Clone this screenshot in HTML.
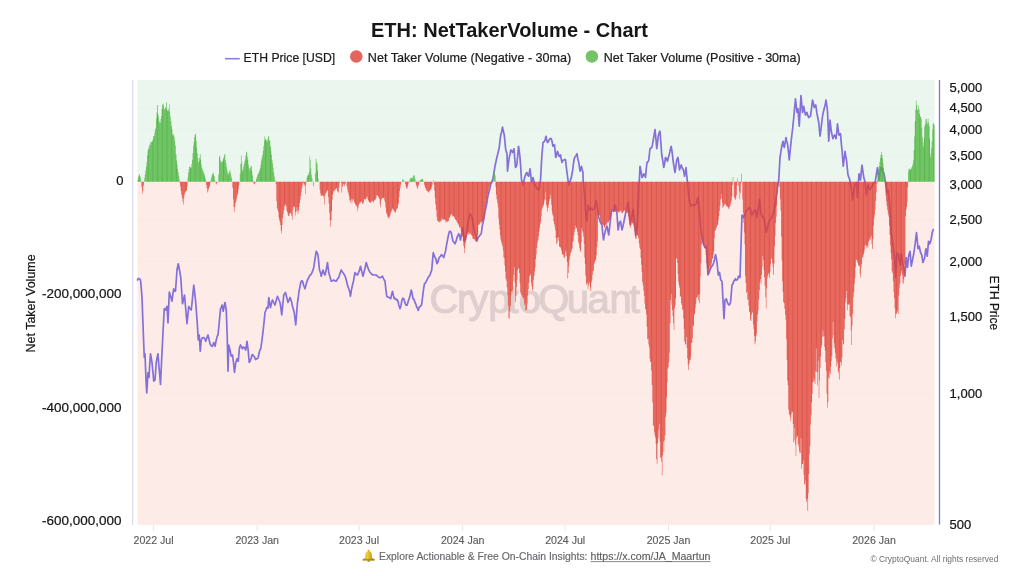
<!DOCTYPE html>
<html><head><meta charset="utf-8"><title>ETH: NetTakerVolume - Chart</title>
<style>
html,body{margin:0;padding:0;background:#fff;}
body{width:1024px;height:576px;overflow:hidden;font-family:"Liberation Sans",sans-serif;}
svg{display:block;font-family:"Liberation Sans",sans-serif;}
.title{font-size:20.2px;font-weight:bold;fill:#161616;}
.lg{font-size:12.4px;fill:#1c1c1c;stroke:#1c1c1c;stroke-width:0.22px;}
.yl{font-size:13px;fill:#141414;stroke:#141414;stroke-width:0.22px;}
.xl{font-size:10.6px;fill:#5c5c5c;stroke:#5c5c5c;stroke-width:0.15px;}
.ax{font-size:13px;fill:#141414;stroke:#141414;stroke-width:0.22px;}
.ft{font-size:10.2px;fill:#68686c;stroke:#68686c;stroke-width:0.15px;}
.cp{font-size:8.7px;fill:#6e6e6e;}
.wm{font-size:40px;fill:#8a7c84;stroke:#8a7c84;stroke-width:1.2px;}
</style></head><body>
<svg width="1024" height="576" viewBox="0 0 1024 576" style="will-change:transform">
<rect width="1024" height="576" fill="#ffffff"/>
<text x="509.5" y="36.6" text-anchor="middle" class="title" textLength="277" lengthAdjust="spacingAndGlyphs">ETH: NetTakerVolume - Chart</text>
<path d="M225 58.7H239.8" stroke="#8b7edc" stroke-width="1.6"/>
<text x="243.6" y="62" class="lg" textLength="91.5" lengthAdjust="spacingAndGlyphs">ETH Price [USD]</text>
<circle cx="356.3" cy="56.5" r="6.25" fill="#e2665e"/>
<text x="367.8" y="62" class="lg" textLength="203.5" lengthAdjust="spacingAndGlyphs">Net Taker Volume (Negative - 30ma)</text>
<circle cx="591.9" cy="56.5" r="6.25" fill="#74c365"/>
<text x="603.7" y="62" class="lg" textLength="197" lengthAdjust="spacingAndGlyphs">Net Taker Volume (Positive - 30ma)</text>

<rect x="137.5" y="80" width="797" height="101.85" fill="#eaf6ee"/>
<rect x="137.5" y="181.85" width="797" height="343.15" fill="#fdebe8"/>
<path d="M137.5 108.5H934.5M137.5 130H934.5M137.5 155.3H934.5M137.5 219.5H934.5M137.5 261.3H934.5M137.5 316.8H934.5M137.5 393.3H934.5" stroke="#000" stroke-opacity="0.014" stroke-width="1"/>
<path d="M132.6 80V525" stroke="#d9d9ee" stroke-width="1.2"/>
<path d="M939.5 80V524.5" stroke="#8377d4" stroke-width="1.3"/>
<defs><clipPath id="cr"><path d="M141.43 181.85V186.89h0.61V181.85zM142 181.85V193.42h0.61V181.85zM142.56 181.85V190.74h0.61V181.85zM143.12 181.85V185.76h0.61V181.85zM179.65 181.85V183.04h0.61V181.85zM180.22 181.85V186.79h0.61V181.85zM180.78 181.85V191.01h0.61V181.85zM181.34 181.85V194.86h0.61V181.85zM181.9 181.85V197.64h0.61V181.85zM182.46 181.85V201.59h0.61V181.85zM183.03 181.85V204.54h0.61V181.85zM183.59 181.85V198.41h0.61V181.85zM184.15 181.85V194.98h0.61V181.85zM184.71 181.85V192.7h0.61V181.85zM185.28 181.85V191.58h0.61V181.85zM185.84 181.85V190.96h0.61V181.85zM186.4 181.85V190.34h0.61V181.85zM186.96 181.85V186.15h0.61V181.85zM206.07 181.85V184.93h0.61V181.85zM206.63 181.85V188.17h0.61V181.85zM207.2 181.85V192.59h0.61V181.85zM207.76 181.85V191.17h0.61V181.85zM208.32 181.85V189.12h0.61V181.85zM208.88 181.85V187.28h0.61V181.85zM209.44 181.85V185.19h0.61V181.85zM210.01 181.85V182.78h0.61V181.85zM215.63 181.85V183.28h0.61V181.85zM216.19 181.85V184.46h0.61V181.85zM216.75 181.85V183.08h0.61V181.85zM232.49 181.85V187.76h0.61V181.85zM233.05 181.85V199.4h0.61V181.85zM233.61 181.85V207.14h0.61V181.85zM234.17 181.85V211.74h0.61V181.85zM234.74 181.85V206.2h0.61V181.85zM235.3 181.85V203h0.61V181.85zM235.86 181.85V200.89h0.61V181.85zM236.42 181.85V198.19h0.61V181.85zM236.98 181.85V195.23h0.61V181.85zM237.55 181.85V193.28h0.61V181.85zM238.11 181.85V189.39h0.61V181.85zM238.67 181.85V184.78h0.61V181.85zM253.28 181.85V183.02h0.61V181.85zM253.85 181.85V184.02h0.61V181.85zM254.41 181.85V184.31h0.61V181.85zM254.97 181.85V182.82h0.61V181.85zM275.77 181.85V184.23h0.61V181.85zM276.33 181.85V201.17h0.61V181.85zM276.89 181.85V207.97h0.61V181.85zM277.45 181.85V209.97h0.61V181.85zM278.01 181.85V211.89h0.61V181.85zM278.58 181.85V217.2h0.61V181.85zM279.14 181.85V219.75h0.61V181.85zM279.7 181.85V222.32h0.61V181.85zM280.26 181.85V224.98h0.61V181.85zM280.83 181.85V230.58h0.61V181.85zM281.39 181.85V233.5h0.61V181.85zM281.95 181.85V225.18h0.61V181.85zM282.51 181.85V217.96h0.61V181.85zM283.07 181.85V214.08h0.61V181.85zM283.64 181.85V210.29h0.61V181.85zM284.2 181.85V206.16h0.61V181.85zM284.76 181.85V203.67h0.61V181.85zM285.32 181.85V205.11h0.61V181.85zM285.88 181.85V206.49h0.61V181.85zM286.45 181.85V210.39h0.61V181.85zM287.01 181.85V212.09h0.61V181.85zM287.57 181.85V214.4h0.61V181.85zM288.13 181.85V216.03h0.61V181.85zM288.69 181.85V216.37h0.61V181.85zM289.26 181.85V213.55h0.61V181.85zM289.82 181.85V212.53h0.61V181.85zM290.38 181.85V213.27h0.61V181.85zM290.94 181.85V214.27h0.61V181.85zM291.5 181.85V215.95h0.61V181.85zM292.07 181.85V219.54h0.61V181.85zM292.63 181.85V209.74h0.61V181.85zM293.19 181.85V206.8h0.61V181.85zM293.75 181.85V207.01h0.61V181.85zM294.31 181.85V206.26h0.61V181.85zM294.88 181.85V211.89h0.61V181.85zM295.44 181.85V215.52h0.61V181.85zM296 181.85V211.79h0.61V181.85zM296.56 181.85V207.41h0.61V181.85zM297.12 181.85V210.33h0.61V181.85zM297.69 181.85V213.76h0.61V181.85zM298.25 181.85V210.79h0.61V181.85zM298.81 181.85V207.21h0.61V181.85zM299.37 181.85V203.35h0.61V181.85zM299.94 181.85V199.77h0.61V181.85zM300.5 181.85V195.78h0.61V181.85zM301.06 181.85V192.2h0.61V181.85zM301.62 181.85V188.5h0.61V181.85zM302.18 181.85V185.38h0.61V181.85zM302.75 181.85V182.85h0.61V181.85zM303.31 181.85V182.49h0.61V181.85zM303.87 181.85V184.01h0.61V181.85zM304.43 181.85V186.22h0.61V181.85zM304.99 181.85V193.99h0.61V181.85zM305.56 181.85V185.02h0.61V181.85zM313.42 181.85V186.16h0.61V181.85zM319.61 181.85V189.72h0.61V181.85zM320.17 181.85V193.27h0.61V181.85zM320.73 181.85V195.96h0.61V181.85zM321.29 181.85V195.87h0.61V181.85zM321.86 181.85V195.38h0.61V181.85zM322.42 181.85V194.87h0.61V181.85zM322.98 181.85V195.89h0.61V181.85zM323.54 181.85V197.57h0.61V181.85zM324.1 181.85V204.7h0.61V181.85zM324.67 181.85V195.43h0.61V181.85zM325.23 181.85V194.02h0.61V181.85zM325.79 181.85V192.82h0.61V181.85zM326.35 181.85V191.45h0.61V181.85zM326.91 181.85V190.52h0.61V181.85zM327.48 181.85V190.06h0.61V181.85zM328.04 181.85V197.18h0.61V181.85zM328.6 181.85V203.46h0.61V181.85zM329.16 181.85V212.75h0.61V181.85zM329.72 181.85V220.71h0.61V181.85zM330.29 181.85V226.84h0.61V181.85zM330.85 181.85V220.11h0.61V181.85zM331.41 181.85V211.09h0.61V181.85zM331.97 181.85V199.63h0.61V181.85zM332.53 181.85V194.26h0.61V181.85zM333.1 181.85V192.22h0.61V181.85zM333.66 181.85V190.86h0.61V181.85zM334.22 181.85V190.46h0.61V181.85zM334.78 181.85V190.07h0.61V181.85zM335.34 181.85V188.88h0.61V181.85zM335.91 181.85V187.42h0.61V181.85zM336.47 181.85V188.85h0.61V181.85zM337.03 181.85V190.91h0.61V181.85zM337.59 181.85V191.76h0.61V181.85zM338.16 181.85V192.63h0.61V181.85zM338.72 181.85V187.51h0.61V181.85zM339.28 181.85V183.21h0.61V181.85zM340.97 181.85V182.5h0.61V181.85zM341.53 181.85V192.45h0.61V181.85zM342.09 181.85V187.01h0.61V181.85zM342.65 181.85V185.48h0.61V181.85zM343.21 181.85V183.77h0.61V181.85zM343.78 181.85V184.57h0.61V181.85zM344.34 181.85V186.14h0.61V181.85zM344.9 181.85V184.07h0.61V181.85zM346.59 181.85V185.92h0.61V181.85zM347.15 181.85V189.16h0.61V181.85zM347.71 181.85V191.91h0.61V181.85zM348.27 181.85V194.12h0.61V181.85zM348.83 181.85V196.45h0.61V181.85zM349.4 181.85V200.27h0.61V181.85zM349.96 181.85V202.21h0.61V181.85zM350.52 181.85V199.69h0.61V181.85zM351.08 181.85V198.78h0.61V181.85zM351.64 181.85V203.41h0.61V181.85zM352.21 181.85V200.85h0.61V181.85zM352.77 181.85V198.41h0.61V181.85zM353.33 181.85V199.73h0.61V181.85zM353.89 181.85V201.49h0.61V181.85zM354.45 181.85V202.96h0.61V181.85zM355.02 181.85V204.11h0.61V181.85zM355.58 181.85V205.61h0.61V181.85zM356.14 181.85V205.49h0.61V181.85zM356.7 181.85V207.04h0.61V181.85zM357.27 181.85V211.32h0.61V181.85zM357.83 181.85V208.3h0.61V181.85zM358.39 181.85V204.76h0.61V181.85zM358.95 181.85V203.7h0.61V181.85zM359.51 181.85V202.3h0.61V181.85zM360.08 181.85V202.43h0.61V181.85zM360.64 181.85V201.64h0.61V181.85zM361.2 181.85V200.89h0.61V181.85zM361.76 181.85V202.57h0.61V181.85zM362.32 181.85V204.12h0.61V181.85zM362.89 181.85V203.87h0.61V181.85zM363.45 181.85V202.05h0.61V181.85zM364.01 181.85V198.68h0.61V181.85zM364.57 181.85V199.22h0.61V181.85zM365.13 181.85V200.36h0.61V181.85zM365.7 181.85V198.8h0.61V181.85zM366.26 181.85V197.3h0.61V181.85zM366.82 181.85V196.41h0.61V181.85zM367.38 181.85V199.12h0.61V181.85zM367.94 181.85V200.01h0.61V181.85zM368.51 181.85V201.39h0.61V181.85zM369.07 181.85V202.07h0.61V181.85zM369.63 181.85V202.58h0.61V181.85zM370.19 181.85V202.98h0.61V181.85zM370.75 181.85V202.29h0.61V181.85zM371.32 181.85V201.15h0.61V181.85zM371.88 181.85V200.82h0.61V181.85zM372.44 181.85V201.58h0.61V181.85zM373 181.85V202.8h0.61V181.85zM373.56 181.85V201.12h0.61V181.85zM374.13 181.85V200.21h0.61V181.85zM374.69 181.85V199.58h0.61V181.85zM375.25 181.85V199.83h0.61V181.85zM375.81 181.85V198.08h0.61V181.85zM376.38 181.85V195.13h0.61V181.85zM376.94 181.85V195.16h0.61V181.85zM377.5 181.85V195.7h0.61V181.85zM378.06 181.85V196.53h0.61V181.85zM378.62 181.85V197.76h0.61V181.85zM379.19 181.85V198.97h0.61V181.85zM379.75 181.85V204.18h0.61V181.85zM380.31 181.85V207.14h0.61V181.85zM380.87 181.85V200.25h0.61V181.85zM381.43 181.85V198.98h0.61V181.85zM382 181.85V198.26h0.61V181.85zM382.56 181.85V197.69h0.61V181.85zM383.12 181.85V198.11h0.61V181.85zM383.68 181.85V197.32h0.61V181.85zM384.24 181.85V200.44h0.61V181.85zM384.81 181.85V202.56h0.61V181.85zM385.37 181.85V207.51h0.61V181.85zM385.93 181.85V212.14h0.61V181.85zM386.49 181.85V214.08h0.61V181.85zM387.05 181.85V215.15h0.61V181.85zM387.62 181.85V217.26h0.61V181.85zM388.18 181.85V217.57h0.61V181.85zM388.74 181.85V218.87h0.61V181.85zM389.3 181.85V216.43h0.61V181.85zM389.86 181.85V215.61h0.61V181.85zM390.43 181.85V213.24h0.61V181.85zM390.99 181.85V211.56h0.61V181.85zM391.55 181.85V210.42h0.61V181.85zM392.11 181.85V208.32h0.61V181.85zM392.67 181.85V209.35h0.61V181.85zM393.24 181.85V209.82h0.61V181.85zM393.8 181.85V211.09h0.61V181.85zM394.36 181.85V212.07h0.61V181.85zM394.92 181.85V212.9h0.61V181.85zM395.49 181.85V211.63h0.61V181.85zM396.05 181.85V209.66h0.61V181.85zM396.61 181.85V208.44h0.61V181.85zM397.17 181.85V208.34h0.61V181.85zM397.73 181.85V204.95h0.61V181.85zM398.3 181.85V203.02h0.61V181.85zM398.86 181.85V197.25h0.61V181.85zM399.42 181.85V191.23h0.61V181.85zM399.98 181.85V188.05h0.61V181.85zM400.54 181.85V184.62h0.61V181.85zM405.04 181.85V183.88h0.61V181.85zM405.6 181.85V186.15h0.61V181.85zM406.16 181.85V187.96h0.61V181.85zM406.73 181.85V188.88h0.61V181.85zM407.29 181.85V186.38h0.61V181.85zM407.85 181.85V184.6h0.61V181.85zM408.41 181.85V182.84h0.61V181.85zM415.72 181.85V183.43h0.61V181.85zM416.28 181.85V185.82h0.61V181.85zM416.84 181.85V187.73h0.61V181.85zM417.41 181.85V188.85h0.61V181.85zM417.97 181.85V186.51h0.61V181.85zM418.53 181.85V184.62h0.61V181.85zM424.15 181.85V184.75h0.61V181.85zM424.71 181.85V186.54h0.61V181.85zM425.27 181.85V188.01h0.61V181.85zM425.84 181.85V189.57h0.61V181.85zM426.4 181.85V190.42h0.61V181.85zM426.96 181.85V191.09h0.61V181.85zM427.52 181.85V191.71h0.61V181.85zM428.08 181.85V192.19h0.61V181.85zM428.65 181.85V192.59h0.61V181.85zM429.21 181.85V191.08h0.61V181.85zM429.77 181.85V190.25h0.61V181.85zM430.33 181.85V189.53h0.61V181.85zM430.89 181.85V188.96h0.61V181.85zM431.46 181.85V186.86h0.61V181.85zM432.02 181.85V184.8h0.61V181.85zM433.71 181.85V184.45h0.61V181.85zM434.27 181.85V190.48h0.61V181.85zM434.83 181.85V197.79h0.61V181.85zM435.39 181.85V204.48h0.61V181.85zM435.95 181.85V210.14h0.61V181.85zM436.52 181.85V216.84h0.61V181.85zM437.08 181.85V220.52h0.61V181.85zM437.64 181.85V221.14h0.61V181.85zM438.2 181.85V221.92h0.61V181.85zM438.76 181.85V220.81h0.61V181.85zM439.33 181.85V222.38h0.61V181.85zM439.89 181.85V220.39h0.61V181.85zM440.45 181.85V221.72h0.61V181.85zM441.01 181.85V221.12h0.61V181.85zM441.57 181.85V218.53h0.61V181.85zM442.14 181.85V219.23h0.61V181.85zM442.7 181.85V219.79h0.61V181.85zM443.26 181.85V219.79h0.61V181.85zM443.82 181.85V219.14h0.61V181.85zM444.38 181.85V219.53h0.61V181.85zM444.95 181.85V220.18h0.61V181.85zM445.51 181.85V222.49h0.61V181.85zM446.07 181.85V221.09h0.61V181.85zM446.63 181.85V222.33h0.61V181.85zM447.19 181.85V221.63h0.61V181.85zM447.76 181.85V221.21h0.61V181.85zM448.32 181.85V220.78h0.61V181.85zM448.88 181.85V217.54h0.61V181.85zM449.44 181.85V217.7h0.61V181.85zM450 181.85V215.83h0.61V181.85zM450.57 181.85V215.37h0.61V181.85zM451.13 181.85V214.14h0.61V181.85zM451.69 181.85V214.25h0.61V181.85zM452.25 181.85V216.39h0.61V181.85zM452.82 181.85V216.34h0.61V181.85zM453.38 181.85V216.07h0.61V181.85zM453.94 181.85V216.71h0.61V181.85zM454.5 181.85V218.46h0.61V181.85zM455.06 181.85V219.29h0.61V181.85zM455.63 181.85V219.99h0.61V181.85zM456.19 181.85V220.65h0.61V181.85zM456.75 181.85V222.16h0.61V181.85zM457.31 181.85V222.89h0.61V181.85zM457.87 181.85V225.01h0.61V181.85zM458.44 181.85V223.66h0.61V181.85zM459 181.85V226.72h0.61V181.85zM459.56 181.85V228.1h0.61V181.85zM460.12 181.85V227.25h0.61V181.85zM460.68 181.85V230.65h0.61V181.85zM461.25 181.85V232.02h0.61V181.85zM461.81 181.85V235.46h0.61V181.85zM462.37 181.85V236.97h0.61V181.85zM462.93 181.85V241.32h0.61V181.85zM463.49 181.85V246h0.61V181.85zM464.06 181.85V253.33h0.61V181.85zM464.62 181.85V248.27h0.61V181.85zM465.18 181.85V243.16h0.61V181.85zM465.74 181.85V239.91h0.61V181.85zM466.3 181.85V236.99h0.61V181.85zM466.87 181.85V234.59h0.61V181.85zM467.43 181.85V233.32h0.61V181.85zM467.99 181.85V234.49h0.61V181.85zM468.55 181.85V231.85h0.61V181.85zM469.11 181.85V234.58h0.61V181.85zM469.68 181.85V233.1h0.61V181.85zM470.24 181.85V233.78h0.61V181.85zM470.8 181.85V235.21h0.61V181.85zM471.36 181.85V234.83h0.61V181.85zM471.93 181.85V236.04h0.61V181.85zM472.49 181.85V238.53h0.61V181.85zM473.05 181.85V238.87h0.61V181.85zM473.61 181.85V239.2h0.61V181.85zM474.17 181.85V239.15h0.61V181.85zM474.74 181.85V240.69h0.61V181.85zM475.3 181.85V241.36h0.61V181.85zM475.86 181.85V240.56h0.61V181.85zM476.42 181.85V241.73h0.61V181.85zM476.98 181.85V239.64h0.61V181.85zM477.55 181.85V234.46h0.61V181.85zM478.11 181.85V224.65h0.61V181.85zM478.67 181.85V224.97h0.61V181.85zM479.23 181.85V224.25h0.61V181.85zM479.79 181.85V222.92h0.61V181.85zM480.36 181.85V222h0.61V181.85zM480.92 181.85V223.83h0.61V181.85zM481.48 181.85V221.54h0.61V181.85zM482.04 181.85V222.04h0.61V181.85zM482.6 181.85V221.01h0.61V181.85zM483.17 181.85V220.02h0.61V181.85zM483.73 181.85V218.77h0.61V181.85zM484.29 181.85V215.38h0.61V181.85zM484.85 181.85V210.24h0.61V181.85zM485.41 181.85V207.1h0.61V181.85zM485.98 181.85V202.92h0.61V181.85zM486.54 181.85V199.54h0.61V181.85zM487.1 181.85V195.69h0.61V181.85zM487.66 181.85V193h0.61V181.85zM488.22 181.85V190.79h0.61V181.85zM488.79 181.85V188.61h0.61V181.85zM489.35 181.85V186.59h0.61V181.85zM489.91 181.85V184.76h0.61V181.85zM490.47 181.85V184.01h0.61V181.85zM491.04 181.85V183.38h0.61V181.85zM491.6 181.85V182.66h0.61V181.85zM495.53 181.85V187.2h0.61V181.85zM496.09 181.85V194.68h0.61V181.85zM496.66 181.85V199.22h0.61V181.85zM497.22 181.85V203.09h0.61V181.85zM497.78 181.85V207.34h0.61V181.85zM498.34 181.85V218.39h0.61V181.85zM498.9 181.85V224.65h0.61V181.85zM499.47 181.85V229.38h0.61V181.85zM500.03 181.85V235.23h0.61V181.85zM500.59 181.85V239.44h0.61V181.85zM501.15 181.85V241.72h0.61V181.85zM501.71 181.85V244.36h0.61V181.85zM502.28 181.85V246.12h0.61V181.85zM502.84 181.85V250.44h0.61V181.85zM503.4 181.85V257.32h0.61V181.85zM503.96 181.85V258.19h0.61V181.85zM504.52 181.85V265.57h0.61V181.85zM505.09 181.85V271.87h0.61V181.85zM505.65 181.85V278.87h0.61V181.85zM506.21 181.85V280.7h0.61V181.85zM506.77 181.85V287.58h0.61V181.85zM507.33 181.85V295.2h0.61V181.85zM507.9 181.85V305.55h0.61V181.85zM508.46 181.85V318.31h0.61V181.85zM509.02 181.85V318.86h0.61V181.85zM509.58 181.85V311.51h0.61V181.85zM510.15 181.85V305.95h0.61V181.85zM510.71 181.85V295.48h0.61V181.85zM511.27 181.85V291.58h0.61V181.85zM511.83 181.85V293.32h0.61V181.85zM512.39 181.85V290.33h0.61V181.85zM512.96 181.85V280.63h0.61V181.85zM513.52 181.85V275h0.61V181.85zM514.08 181.85V267.36h0.61V181.85zM514.64 181.85V282.79h0.61V181.85zM515.2 181.85V301.74h0.61V181.85zM515.77 181.85V296.11h0.61V181.85zM516.33 181.85V286.99h0.61V181.85zM516.89 181.85V279.58h0.61V181.85zM517.45 181.85V270.56h0.61V181.85zM518.01 181.85V268.43h0.61V181.85zM518.58 181.85V268.17h0.61V181.85zM519.14 181.85V272.94h0.61V181.85zM519.7 181.85V283.28h0.61V181.85zM520.26 181.85V292.6h0.61V181.85zM520.82 181.85V294.69h0.61V181.85zM521.39 181.85V295.33h0.61V181.85zM521.95 181.85V297.38h0.61V181.85zM522.51 181.85V296.68h0.61V181.85zM523.07 181.85V299.19h0.61V181.85zM523.63 181.85V297.64h0.61V181.85zM524.2 181.85V305.09h0.61V181.85zM524.76 181.85V303.17h0.61V181.85zM525.32 181.85V310.42h0.61V181.85zM525.88 181.85V310.27h0.61V181.85zM526.44 181.85V309.73h0.61V181.85zM527.01 181.85V303.78h0.61V181.85zM527.57 181.85V295.71h0.61V181.85zM528.13 181.85V289h0.61V181.85zM528.69 181.85V282.56h0.61V181.85zM529.26 181.85V276.32h0.61V181.85zM529.82 181.85V273.9h0.61V181.85zM530.38 181.85V275.14h0.61V181.85zM530.94 181.85V282.72h0.61V181.85zM531.5 181.85V286.43h0.61V181.85zM532.07 181.85V290.66h0.61V181.85zM532.63 181.85V289.06h0.61V181.85zM533.19 181.85V279.83h0.61V181.85zM533.75 181.85V276.04h0.61V181.85zM534.31 181.85V271.22h0.61V181.85zM534.88 181.85V267.4h0.61V181.85zM535.44 181.85V259.36h0.61V181.85zM536 181.85V253.89h0.61V181.85zM536.56 181.85V247.95h0.61V181.85zM537.12 181.85V243.23h0.61V181.85zM537.69 181.85V240.51h0.61V181.85zM538.25 181.85V236.55h0.61V181.85zM538.81 181.85V231.49h0.61V181.85zM539.37 181.85V227.69h0.61V181.85zM539.93 181.85V224.31h0.61V181.85zM540.5 181.85V221.87h0.61V181.85zM541.06 181.85V216.28h0.61V181.85zM541.62 181.85V209.86h0.61V181.85zM542.18 181.85V207.64h0.61V181.85zM542.74 181.85V206.29h0.61V181.85zM543.31 181.85V204.64h0.61V181.85zM543.87 181.85V201.77h0.61V181.85zM544.43 181.85V199.62h0.61V181.85zM544.99 181.85V192.4h0.61V181.85zM545.56 181.85V199.68h0.61V181.85zM546.12 181.85V204.96h0.61V181.85zM546.68 181.85V207.38h0.61V181.85zM547.24 181.85V211.52h0.61V181.85zM547.8 181.85V207.86h0.61V181.85zM548.37 181.85V204.27h0.61V181.85zM548.93 181.85V201.11h0.61V181.85zM549.49 181.85V199.25h0.61V181.85zM550.05 181.85V194.85h0.61V181.85zM550.61 181.85V198.72h0.61V181.85zM551.18 181.85V204.82h0.61V181.85zM551.74 181.85V211h0.61V181.85zM552.3 181.85V214.34h0.61V181.85zM552.86 181.85V215.87h0.61V181.85zM553.42 181.85V221.23h0.61V181.85zM553.99 181.85V224.07h0.61V181.85zM554.55 181.85V226.82h0.61V181.85zM555.11 181.85V230.37h0.61V181.85zM555.67 181.85V238.33h0.61V181.85zM556.23 181.85V244.36h0.61V181.85zM556.8 181.85V242.38h0.61V181.85zM557.36 181.85V237.58h0.61V181.85zM557.92 181.85V237.14h0.61V181.85zM558.48 181.85V240.76h0.61V181.85zM559.04 181.85V246.75h0.61V181.85zM559.61 181.85V246.69h0.61V181.85zM560.17 181.85V247.61h0.61V181.85zM560.73 181.85V248.46h0.61V181.85zM561.29 181.85V250.67h0.61V181.85zM561.85 181.85V253.63h0.61V181.85zM562.42 181.85V254.53h0.61V181.85zM562.98 181.85V255.03h0.61V181.85zM563.54 181.85V257.33h0.61V181.85zM564.1 181.85V258.2h0.61V181.85zM564.67 181.85V256.72h0.61V181.85zM565.23 181.85V252.58h0.61V181.85zM565.79 181.85V250.5h0.61V181.85zM566.35 181.85V256.11h0.61V181.85zM566.91 181.85V261.95h0.61V181.85zM567.48 181.85V278.44h0.61V181.85zM568.04 181.85V273.12h0.61V181.85zM568.6 181.85V266.58h0.61V181.85zM569.16 181.85V259.87h0.61V181.85zM569.72 181.85V256.33h0.61V181.85zM570.29 181.85V253.23h0.61V181.85zM570.85 181.85V252.08h0.61V181.85zM571.41 181.85V249.25h0.61V181.85zM571.97 181.85V248.25h0.61V181.85zM572.53 181.85V241.73h0.61V181.85zM573.1 181.85V241.35h0.61V181.85zM573.66 181.85V235.2h0.61V181.85zM574.22 181.85V231.7h0.61V181.85zM574.78 181.85V229.01h0.61V181.85zM575.34 181.85V225.83h0.61V181.85zM575.91 181.85V227.39h0.61V181.85zM576.47 181.85V228.39h0.61V181.85zM577.03 181.85V231.71h0.61V181.85zM577.59 181.85V235.29h0.61V181.85zM578.15 181.85V242h0.61V181.85zM578.72 181.85V244.17h0.61V181.85zM579.28 181.85V247.99h0.61V181.85zM579.84 181.85V252.04h0.61V181.85zM580.4 181.85V250.51h0.61V181.85zM580.96 181.85V242.26h0.61V181.85zM581.53 181.85V228.35h0.61V181.85zM582.09 181.85V230.91h0.61V181.85zM582.65 181.85V232.72h0.61V181.85zM583.21 181.85V236.6h0.61V181.85zM583.78 181.85V243.84h0.61V181.85zM584.34 181.85V257.49h0.61V181.85zM584.9 181.85V264.17h0.61V181.85zM585.46 181.85V275.75h0.61V181.85zM586.02 181.85V285.03h0.61V181.85zM586.59 181.85V282.84h0.61V181.85zM587.15 181.85V283.62h0.61V181.85zM587.71 181.85V289.12h0.61V181.85zM588.27 181.85V285.59h0.61V181.85zM588.83 181.85V282.01h0.61V181.85zM589.4 181.85V283.81h0.61V181.85zM589.96 181.85V287.24h0.61V181.85zM590.52 181.85V291.01h0.61V181.85zM591.08 181.85V282.41h0.61V181.85zM591.64 181.85V280.56h0.61V181.85zM592.21 181.85V274.92h0.61V181.85zM592.77 181.85V271.15h0.61V181.85zM593.33 181.85V270.63h0.61V181.85zM593.89 181.85V263.82h0.61V181.85zM594.45 181.85V262.35h0.61V181.85zM595.02 181.85V260.33h0.61V181.85zM595.58 181.85V259.3h0.61V181.85zM596.14 181.85V255.3h0.61V181.85zM596.7 181.85V247.49h0.61V181.85zM597.26 181.85V241.62h0.61V181.85zM597.83 181.85V215.84h0.61V181.85zM598.39 181.85V215.11h0.61V181.85zM598.95 181.85V214.83h0.61V181.85zM599.51 181.85V215.64h0.61V181.85zM600.07 181.85V220.26h0.61V181.85zM600.64 181.85V222.07h0.61V181.85zM601.2 181.85V223.17h0.61V181.85zM601.76 181.85V223.95h0.61V181.85zM602.32 181.85V224.46h0.61V181.85zM602.89 181.85V224.78h0.61V181.85zM603.45 181.85V225.78h0.61V181.85zM604.01 181.85V227.12h0.61V181.85zM604.57 181.85V227.63h0.61V181.85zM605.13 181.85V224.96h0.61V181.85zM605.7 181.85V224.5h0.61V181.85zM606.26 181.85V225.15h0.61V181.85zM606.82 181.85V223.2h0.61V181.85zM607.38 181.85V222.3h0.61V181.85zM607.94 181.85V221.78h0.61V181.85zM608.51 181.85V222.52h0.61V181.85zM609.07 181.85V220.3h0.61V181.85zM609.63 181.85V220.09h0.61V181.85zM610.19 181.85V217.18h0.61V181.85zM610.75 181.85V214.5h0.61V181.85zM611.32 181.85V211.37h0.61V181.85zM611.88 181.85V209.94h0.61V181.85zM612.44 181.85V208.85h0.61V181.85zM613 181.85V208.75h0.61V181.85zM613.56 181.85V210.58h0.61V181.85zM614.13 181.85V211.24h0.61V181.85zM614.69 181.85V212.01h0.61V181.85zM615.25 181.85V211.65h0.61V181.85zM615.81 181.85V211.27h0.61V181.85zM616.37 181.85V210.29h0.61V181.85zM616.94 181.85V210.85h0.61V181.85zM617.5 181.85V211.8h0.61V181.85zM618.06 181.85V212.25h0.61V181.85zM618.62 181.85V211.8h0.61V181.85zM619.18 181.85V212.38h0.61V181.85zM619.75 181.85V210.82h0.61V181.85zM620.31 181.85V210.72h0.61V181.85zM620.87 181.85V211.29h0.61V181.85zM621.43 181.85V212.88h0.61V181.85zM622 181.85V213.17h0.61V181.85zM622.56 181.85V212.61h0.61V181.85zM623.12 181.85V211.51h0.61V181.85zM623.68 181.85V210.26h0.61V181.85zM624.24 181.85V210.65h0.61V181.85zM624.81 181.85V210.6h0.61V181.85zM625.37 181.85V210.54h0.61V181.85zM625.93 181.85V211.04h0.61V181.85zM626.49 181.85V212.85h0.61V181.85zM627.05 181.85V212.73h0.61V181.85zM627.62 181.85V212.97h0.61V181.85zM628.18 181.85V216.8h0.61V181.85zM628.74 181.85V220.3h0.61V181.85zM629.3 181.85V225.08h0.61V181.85zM629.86 181.85V227.63h0.61V181.85zM630.43 181.85V226.6h0.61V181.85zM630.99 181.85V224.93h0.61V181.85zM631.55 181.85V222.06h0.61V181.85zM632.11 181.85V223.6h0.61V181.85zM632.67 181.85V222.94h0.61V181.85zM633.24 181.85V225.08h0.61V181.85zM633.8 181.85V227.49h0.61V181.85zM634.36 181.85V231.55h0.61V181.85zM634.92 181.85V237.29h0.61V181.85zM635.48 181.85V239.03h0.61V181.85zM636.05 181.85V239.1h0.61V181.85zM636.61 181.85V235.37h0.61V181.85zM637.17 181.85V234.89h0.61V181.85zM637.73 181.85V236.15h0.61V181.85zM638.29 181.85V238.3h0.61V181.85zM638.86 181.85V243.49h0.61V181.85zM639.42 181.85V247.8h0.61V181.85zM639.98 181.85V249.3h0.61V181.85zM640.54 181.85V257.66h0.61V181.85zM641.11 181.85V264.83h0.61V181.85zM641.67 181.85V271.9h0.61V181.85zM642.23 181.85V281.8h0.61V181.85zM642.79 181.85V285.37h0.61V181.85zM643.35 181.85V290.74h0.61V181.85zM643.92 181.85V296.06h0.61V181.85zM644.48 181.85V303.55h0.61V181.85zM645.04 181.85V308.71h0.61V181.85zM645.6 181.85V309.74h0.61V181.85zM646.16 181.85V314.42h0.61V181.85zM646.73 181.85V326.8h0.61V181.85zM647.29 181.85V339.2h0.61V181.85zM647.85 181.85V338.87h0.61V181.85zM648.41 181.85V344.39h0.61V181.85zM648.97 181.85V347.6h0.61V181.85zM649.54 181.85V358.75h0.61V181.85zM650.1 181.85V361.81h0.61V181.85zM650.66 181.85V362.06h0.61V181.85zM651.22 181.85V370.44h0.61V181.85zM651.78 181.85V385.02h0.61V181.85zM652.35 181.85V402.54h0.61V181.85zM652.91 181.85V426.37h0.61V181.85zM653.47 181.85V425.2h0.61V181.85zM654.03 181.85V432.34h0.61V181.85zM654.59 181.85V435.44h0.61V181.85zM655.16 181.85V437.67h0.61V181.85zM655.72 181.85V444.04h0.61V181.85zM656.28 181.85V459.26h0.61V181.85zM656.84 181.85V463.73h0.61V181.85zM657.4 181.85V443.31h0.61V181.85zM657.97 181.85V438.54h0.61V181.85zM658.53 181.85V429.76h0.61V181.85zM659.09 181.85V423.78h0.61V181.85zM659.65 181.85V441.4h0.61V181.85zM660.22 181.85V457.89h0.61V181.85zM660.78 181.85V457.04h0.61V181.85zM661.34 181.85V461.64h0.61V181.85zM661.9 181.85V475.21h0.61V181.85zM662.46 181.85V455.14h0.61V181.85zM663.03 181.85V441.67h0.61V181.85zM663.59 181.85V452.03h0.61V181.85zM664.15 181.85V440.55h0.61V181.85zM664.71 181.85V435.29h0.61V181.85zM665.27 181.85V416.93h0.61V181.85zM665.84 181.85V412.73h0.61V181.85zM666.4 181.85V397.15h0.61V181.85zM666.96 181.85V382.55h0.61V181.85zM667.52 181.85V368.73h0.61V181.85zM668.08 181.85V366.92h0.61V181.85zM668.65 181.85V362.24h0.61V181.85zM669.21 181.85V352.84h0.61V181.85zM669.77 181.85V323.35h0.61V181.85zM670.33 181.85V300.11h0.61V181.85zM670.89 181.85V294.12h0.61V181.85zM671.46 181.85V304.78h0.61V181.85zM672.02 181.85V309.96h0.61V181.85zM672.58 181.85V316.11h0.61V181.85zM673.14 181.85V323.19h0.61V181.85zM673.7 181.85V329.68h0.61V181.85zM674.27 181.85V308.44h0.61V181.85zM674.83 181.85V305.28h0.61V181.85zM675.39 181.85V298.19h0.61V181.85zM675.95 181.85V258.59h0.61V181.85zM676.51 181.85V258.5h0.61V181.85zM677.08 181.85V262.92h0.61V181.85zM677.64 181.85V273.99h0.61V181.85zM678.2 181.85V281.66h0.61V181.85zM678.76 181.85V284.92h0.61V181.85zM679.33 181.85V287.69h0.61V181.85zM679.89 181.85V296.68h0.61V181.85zM680.45 181.85V296.26h0.61V181.85zM681.01 181.85V303.15h0.61V181.85zM681.57 181.85V304.91h0.61V181.85zM682.14 181.85V310.23h0.61V181.85zM682.7 181.85V308.88h0.61V181.85zM683.26 181.85V318.42h0.61V181.85zM683.82 181.85V329.08h0.61V181.85zM684.38 181.85V341.58h0.61V181.85zM684.95 181.85V344.78h0.61V181.85zM685.51 181.85V343.8h0.61V181.85zM686.07 181.85V336.99h0.61V181.85zM686.63 181.85V347.75h0.61V181.85zM687.19 181.85V358.53h0.61V181.85zM687.76 181.85V365.03h0.61V181.85zM688.32 181.85V369.93h0.61V181.85zM688.88 181.85V363.35h0.61V181.85zM689.44 181.85V359.75h0.61V181.85zM690 181.85V359.93h0.61V181.85zM690.57 181.85V356.81h0.61V181.85zM691.13 181.85V343.35h0.61V181.85zM691.69 181.85V343.02h0.61V181.85zM692.25 181.85V338.24h0.61V181.85zM692.81 181.85V325.22h0.61V181.85zM693.38 181.85V326.3h0.61V181.85zM693.94 181.85V314.69h0.61V181.85zM694.5 181.85V313.37h0.61V181.85zM695.06 181.85V308.15h0.61V181.85zM695.62 181.85V303.87h0.61V181.85zM696.19 181.85V298.01h0.61V181.85zM696.75 181.85V297.22h0.61V181.85zM697.31 181.85V296.73h0.61V181.85zM697.87 181.85V294.5h0.61V181.85zM698.44 181.85V300.3h0.61V181.85zM699 181.85V303.36h0.61V181.85zM699.56 181.85V294.15h0.61V181.85zM700.12 181.85V276.6h0.61V181.85zM700.68 181.85V263.43h0.61V181.85zM701.25 181.85V244.7h0.61V181.85zM701.81 181.85V239.08h0.61V181.85zM702.37 181.85V242.81h0.61V181.85zM702.93 181.85V244.5h0.61V181.85zM703.49 181.85V244.91h0.61V181.85zM704.06 181.85V245.43h0.61V181.85zM704.62 181.85V248.18h0.61V181.85zM705.18 181.85V248.28h0.61V181.85zM705.74 181.85V254.87h0.61V181.85zM706.3 181.85V263.22h0.61V181.85zM706.87 181.85V268.41h0.61V181.85zM707.43 181.85V274.68h0.61V181.85zM707.99 181.85V273.13h0.61V181.85zM708.55 181.85V269.19h0.61V181.85zM709.11 181.85V270.99h0.61V181.85zM709.68 181.85V266.52h0.61V181.85zM710.24 181.85V268.28h0.61V181.85zM710.8 181.85V266.87h0.61V181.85zM711.36 181.85V263.37h0.61V181.85zM711.92 181.85V258.79h0.61V181.85zM712.49 181.85V258.51h0.61V181.85zM713.05 181.85V254.55h0.61V181.85zM713.61 181.85V251.34h0.61V181.85zM714.17 181.85V238.35h0.61V181.85zM714.73 181.85V231h0.61V181.85zM715.3 181.85V230.19h0.61V181.85zM715.86 181.85V228.26h0.61V181.85zM716.42 181.85V227.3h0.61V181.85zM716.98 181.85V224.48h0.61V181.85zM717.55 181.85V225.33h0.61V181.85zM718.11 181.85V220.2h0.61V181.85zM718.67 181.85V216.01h0.61V181.85zM719.23 181.85V210.91h0.61V181.85zM719.79 181.85V205.75h0.61V181.85zM720.36 181.85V199.5h0.61V181.85zM720.92 181.85V194.06h0.61V181.85zM721.48 181.85V198.58h0.61V181.85zM722.04 181.85V202.69h0.61V181.85zM722.6 181.85V207.89h0.61V181.85zM723.17 181.85V206.15h0.61V181.85zM723.73 181.85V206.17h0.61V181.85zM724.29 181.85V204.25h0.61V181.85zM724.85 181.85V204.16h0.61V181.85zM725.41 181.85V204.09h0.61V181.85zM725.98 181.85V205.24h0.61V181.85zM726.54 181.85V206.51h0.61V181.85zM727.1 181.85V206.34h0.61V181.85zM727.66 181.85V207.32h0.61V181.85zM728.22 181.85V208.61h0.61V181.85zM728.79 181.85V209.1h0.61V181.85zM729.35 181.85V206.95h0.61V181.85zM729.91 181.85V205.66h0.61V181.85zM730.47 181.85V203.49h0.61V181.85zM731.03 181.85V200.52h0.61V181.85zM731.6 181.85V196.31h0.61V181.85zM732.16 181.85V185.29h0.61V181.85zM733.84 181.85V196.75h0.61V181.85zM734.41 181.85V198.36h0.61V181.85zM734.97 181.85V200.03h0.61V181.85zM735.53 181.85V198.51h0.61V181.85zM736.09 181.85V195.15h0.61V181.85zM736.66 181.85V185.22h0.61V181.85zM738.34 181.85V186.29h0.61V181.85zM738.9 181.85V191.18h0.61V181.85zM739.47 181.85V199.25h0.61V181.85zM740.03 181.85V193.15h0.61V181.85zM740.59 181.85V183.23h0.61V181.85zM742.28 181.85V199.48h0.61V181.85zM742.84 181.85V212.8h0.61V181.85zM743.4 181.85V222.64h0.61V181.85zM743.96 181.85V232.43h0.61V181.85zM744.52 181.85V244.22h0.61V181.85zM745.09 181.85V275.73h0.61V181.85zM745.65 181.85V282.93h0.61V181.85zM746.21 181.85V292.98h0.61V181.85zM746.77 181.85V291.53h0.61V181.85zM747.33 181.85V300.03h0.61V181.85zM747.9 181.85V299.35h0.61V181.85zM748.46 181.85V305.65h0.61V181.85zM749.02 181.85V311.8h0.61V181.85zM749.58 181.85V312.32h0.61V181.85zM750.14 181.85V319.51h0.61V181.85zM750.71 181.85V320.92h0.61V181.85zM751.27 181.85V314.97h0.61V181.85zM751.83 181.85V312.89h0.61V181.85zM752.39 181.85V312.2h0.61V181.85zM752.95 181.85V324.4h0.61V181.85zM753.52 181.85V329.23h0.61V181.85zM754.08 181.85V336h0.61V181.85zM754.64 181.85V344.14h0.61V181.85zM755.2 181.85V341.4h0.61V181.85zM755.77 181.85V336.24h0.61V181.85zM756.33 181.85V333.82h0.61V181.85zM756.89 181.85V321.69h0.61V181.85zM757.45 181.85V314.54h0.61V181.85zM758.01 181.85V310.16h0.61V181.85zM758.58 181.85V299.45h0.61V181.85zM759.14 181.85V290.34h0.61V181.85zM759.7 181.85V282.15h0.61V181.85zM760.26 181.85V278.92h0.61V181.85zM760.82 181.85V284.29h0.61V181.85zM761.39 181.85V274.72h0.61V181.85zM761.95 181.85V266.9h0.61V181.85zM762.51 181.85V256.14h0.61V181.85zM763.07 181.85V260.29h0.61V181.85zM763.63 181.85V270.12h0.61V181.85zM764.2 181.85V277.2h0.61V181.85zM764.76 181.85V285.77h0.61V181.85zM765.32 181.85V297.16h0.61V181.85zM765.88 181.85V308.54h0.61V181.85zM766.44 181.85V288.41h0.61V181.85zM767.01 181.85V278.75h0.61V181.85zM767.57 181.85V275.5h0.61V181.85zM768.13 181.85V273.68h0.61V181.85zM768.69 181.85V273.15h0.61V181.85zM769.25 181.85V277.73h0.61V181.85zM769.82 181.85V271.72h0.61V181.85zM770.38 181.85V264.41h0.61V181.85zM770.94 181.85V258.16h0.61V181.85zM771.5 181.85V258.38h0.61V181.85zM772.06 181.85V262.96h0.61V181.85zM772.63 181.85V267.02h0.61V181.85zM773.19 181.85V274.83h0.61V181.85zM773.75 181.85V263.66h0.61V181.85zM774.31 181.85V246.33h0.61V181.85zM774.88 181.85V235.77h0.61V181.85zM775.44 181.85V222.97h0.61V181.85zM776 181.85V216.64h0.61V181.85zM776.56 181.85V205.79h0.61V181.85zM777.12 181.85V192.57h0.61V181.85zM777.69 181.85V186.07h0.61V181.85zM779.37 181.85V187.12h0.61V181.85zM779.93 181.85V199.28h0.61V181.85zM780.5 181.85V210.62h0.61V181.85zM781.06 181.85V236.48h0.61V181.85zM781.62 181.85V260.54h0.61V181.85zM782.18 181.85V281.15h0.61V181.85zM782.74 181.85V291.83h0.61V181.85zM783.31 181.85V302.11h0.61V181.85zM783.87 181.85V303.28h0.61V181.85zM784.43 181.85V308.72h0.61V181.85zM784.99 181.85V314.71h0.61V181.85zM785.55 181.85V320.34h0.61V181.85zM786.12 181.85V339.19h0.61V181.85zM786.68 181.85V359.93h0.61V181.85zM787.24 181.85V380.55h0.61V181.85zM787.8 181.85V385.3h0.61V181.85zM788.36 181.85V409.61h0.61V181.85zM788.93 181.85V414.53h0.61V181.85zM789.49 181.85V415.17h0.61V181.85zM790.05 181.85V421.05h0.61V181.85zM790.61 181.85V417.18h0.61V181.85zM791.17 181.85V414.12h0.61V181.85zM791.74 181.85V411.21h0.61V181.85zM792.3 181.85V412.24h0.61V181.85zM792.86 181.85V424.01h0.61V181.85zM793.42 181.85V442.4h0.61V181.85zM793.99 181.85V440.56h0.61V181.85zM794.55 181.85V427.85h0.61V181.85zM795.11 181.85V444.65h0.61V181.85zM795.67 181.85V455.94h0.61V181.85zM796.23 181.85V438.15h0.61V181.85zM796.8 181.85V435.82h0.61V181.85zM797.36 181.85V436.57h0.61V181.85zM797.92 181.85V444.27h0.61V181.85zM798.48 181.85V446.52h0.61V181.85zM799.04 181.85V451.15h0.61V181.85zM799.61 181.85V453.43h0.61V181.85zM800.17 181.85V452.87h0.61V181.85zM800.73 181.85V438.07h0.61V181.85zM801.29 181.85V468.65h0.61V181.85zM801.85 181.85V464.05h0.61V181.85zM802.42 181.85V464.2h0.61V181.85zM802.98 181.85V460.52h0.61V181.85zM803.54 181.85V474.94h0.61V181.85zM804.1 181.85V484.19h0.61V181.85zM804.66 181.85V484.58h0.61V181.85zM805.23 181.85V480.41h0.61V181.85zM805.79 181.85V498.45h0.61V181.85zM806.35 181.85V501.68h0.61V181.85zM806.91 181.85V499.07h0.61V181.85zM807.47 181.85V510.84h0.61V181.85zM808.04 181.85V493.27h0.61V181.85zM808.6 181.85V474.02h0.61V181.85zM809.16 181.85V454.62h0.61V181.85zM809.72 181.85V445.96h0.61V181.85zM810.28 181.85V424.5h0.61V181.85zM810.85 181.85V415.27h0.61V181.85zM811.41 181.85V402.16h0.61V181.85zM811.97 181.85V393.92h0.61V181.85zM812.53 181.85V382.36h0.61V181.85zM813.1 181.85V382.41h0.61V181.85zM813.66 181.85V378.33h0.61V181.85zM814.22 181.85V381.18h0.61V181.85zM814.78 181.85V383.95h0.61V181.85zM815.34 181.85V371.4h0.61V181.85zM815.91 181.85V348.18h0.61V181.85zM816.47 181.85V372.03h0.61V181.85zM817.03 181.85V385.56h0.61V181.85zM817.59 181.85V372.02h0.61V181.85zM818.15 181.85V360.68h0.61V181.85zM818.72 181.85V397.92h0.61V181.85zM819.28 181.85V380.39h0.61V181.85zM819.84 181.85V367.86h0.61V181.85zM820.4 181.85V356.86h0.61V181.85zM820.96 181.85V347.89h0.61V181.85zM821.53 181.85V345.08h0.61V181.85zM822.09 181.85V337.08h0.61V181.85zM822.65 181.85V330.49h0.61V181.85zM823.21 181.85V336.47h0.61V181.85zM823.77 181.85V336.42h0.61V181.85zM824.34 181.85V347.07h0.61V181.85zM824.9 181.85V350.76h0.61V181.85zM825.46 181.85V362.27h0.61V181.85zM826.02 181.85V370.64h0.61V181.85zM826.58 181.85V393.87h0.61V181.85zM827.15 181.85V407.71h0.61V181.85zM827.71 181.85V402.35h0.61V181.85zM828.27 181.85V377.24h0.61V181.85zM828.83 181.85V379.08h0.61V181.85zM829.39 181.85V371.62h0.61V181.85zM829.96 181.85V374.05h0.61V181.85zM830.52 181.85V366.43h0.61V181.85zM831.08 181.85V361h0.61V181.85zM831.64 181.85V355.83h0.61V181.85zM832.21 181.85V338.29h0.61V181.85zM832.77 181.85V322.12h0.61V181.85zM833.33 181.85V335.33h0.61V181.85zM833.89 181.85V343.3h0.61V181.85zM834.45 181.85V348.16h0.61V181.85zM835.02 181.85V352.85h0.61V181.85zM835.58 181.85V358.29h0.61V181.85zM836.14 181.85V366.26h0.61V181.85zM836.7 181.85V361.03h0.61V181.85zM837.26 181.85V363.53h0.61V181.85zM837.83 181.85V371.21h0.61V181.85zM838.39 181.85V372.98h0.61V181.85zM838.95 181.85V379.57h0.61V181.85zM839.51 181.85V368.14h0.61V181.85zM840.07 181.85V362.31h0.61V181.85zM840.64 181.85V361.69h0.61V181.85zM841.2 181.85V365.5h0.61V181.85zM841.76 181.85V357.37h0.61V181.85zM842.32 181.85V340.04h0.61V181.85zM842.88 181.85V344.69h0.61V181.85zM843.45 181.85V343.64h0.61V181.85zM844.01 181.85V329.24h0.61V181.85zM844.57 181.85V318.73h0.61V181.85zM845.13 181.85V302.13h0.61V181.85zM845.69 181.85V298.07h0.61V181.85zM846.26 181.85V290.99h0.61V181.85zM846.82 181.85V304.28h0.61V181.85zM847.38 181.85V310.29h0.61V181.85zM847.94 181.85V304.26h0.61V181.85zM848.5 181.85V305.12h0.61V181.85zM849.07 181.85V303.5h0.61V181.85zM849.63 181.85V315.64h0.61V181.85zM850.19 181.85V316.95h0.61V181.85zM850.75 181.85V330.38h0.61V181.85zM851.32 181.85V345.03h0.61V181.85zM851.88 181.85V325.54h0.61V181.85zM852.44 181.85V313.87h0.61V181.85zM853 181.85V297.23h0.61V181.85zM853.56 181.85V292.27h0.61V181.85zM854.13 181.85V283.85h0.61V181.85zM854.69 181.85V278.16h0.61V181.85zM855.25 181.85V267.59h0.61V181.85zM855.81 181.85V259.97h0.61V181.85zM856.37 181.85V259.86h0.61V181.85zM856.94 181.85V262.96h0.61V181.85zM857.5 181.85V261.03h0.61V181.85zM858.06 181.85V265.81h0.61V181.85zM858.62 181.85V264.42h0.61V181.85zM859.18 181.85V265.92h0.61V181.85zM859.75 181.85V273.86h0.61V181.85zM860.31 181.85V277.49h0.61V181.85zM860.87 181.85V267.84h0.61V181.85zM861.43 181.85V264.01h0.61V181.85zM861.99 181.85V256.88h0.61V181.85zM862.56 181.85V257.7h0.61V181.85zM863.12 181.85V254.86h0.61V181.85zM863.68 181.85V252.79h0.61V181.85zM864.24 181.85V249.7h0.61V181.85zM864.8 181.85V246.21h0.61V181.85zM865.37 181.85V244.63h0.61V181.85zM865.93 181.85V245.48h0.61V181.85zM866.49 181.85V248.11h0.61V181.85zM867.05 181.85V245.87h0.61V181.85zM867.61 181.85V247.51h0.61V181.85zM868.18 181.85V242.14h0.61V181.85zM868.74 181.85V240.74h0.61V181.85zM869.3 181.85V239h0.61V181.85zM869.86 181.85V239.99h0.61V181.85zM870.43 181.85V237.42h0.61V181.85zM870.99 181.85V235.86h0.61V181.85zM871.55 181.85V244.03h0.61V181.85zM872.11 181.85V248.91h0.61V181.85zM872.67 181.85V238.96h0.61V181.85zM873.24 181.85V225.69h0.61V181.85zM873.8 181.85V218.45h0.61V181.85zM874.36 181.85V214.79h0.61V181.85zM874.92 181.85V209.4h0.61V181.85zM875.48 181.85V201.12h0.61V181.85zM876.05 181.85V192.61h0.61V181.85zM876.61 181.85V183.61h0.61V181.85zM885.04 181.85V187.12h0.61V181.85zM885.6 181.85V195.8h0.61V181.85zM886.16 181.85V201.14h0.61V181.85zM886.72 181.85V205.68h0.61V181.85zM887.29 181.85V210.11h0.61V181.85zM887.85 181.85V213.82h0.61V181.85zM888.41 181.85V216.43h0.61V181.85zM888.97 181.85V225.87h0.61V181.85zM889.54 181.85V234.88h0.61V181.85zM890.1 181.85V245.13h0.61V181.85zM890.66 181.85V253.01h0.61V181.85zM891.22 181.85V259.15h0.61V181.85zM891.78 181.85V271.19h0.61V181.85zM892.35 181.85V273.28h0.61V181.85zM892.91 181.85V281.57h0.61V181.85zM893.47 181.85V292.12h0.61V181.85zM894.03 181.85V298.22h0.61V181.85zM894.59 181.85V308.62h0.61V181.85zM895.16 181.85V318.22h0.61V181.85zM895.72 181.85V313.81h0.61V181.85zM896.28 181.85V313.58h0.61V181.85zM896.84 181.85V310.15h0.61V181.85zM897.4 181.85V312.04h0.61V181.85zM897.97 181.85V314.11h0.61V181.85zM898.53 181.85V295.54h0.61V181.85zM899.09 181.85V287.9h0.61V181.85zM899.65 181.85V283.54h0.61V181.85zM900.21 181.85V276.14h0.61V181.85zM900.78 181.85V272.77h0.61V181.85zM901.34 181.85V270.7h0.61V181.85zM901.9 181.85V274.97h0.61V181.85zM902.46 181.85V282.78h0.61V181.85zM903.02 181.85V283.8h0.61V181.85zM903.59 181.85V279.23h0.61V181.85zM904.15 181.85V275.11h0.61V181.85zM904.71 181.85V264.13h0.61V181.85zM905.27 181.85V216.61h0.61V181.85zM905.83 181.85V209.95h0.61V181.85zM906.4 181.85V206.73h0.61V181.85zM906.96 181.85V201.99h0.61V181.85zM907.52 181.85V187.35h0.61V181.85z"/></clipPath>
<clipPath id="cg"><path d="M137.5 181.85V180.24h0.61V181.85zM138.06 181.85V177.32h0.61V181.85zM138.62 181.85V175.48h0.61V181.85zM139.19 181.85V173.96h0.61V181.85zM139.75 181.85V175.94h0.61V181.85zM140.31 181.85V178.33h0.61V181.85zM140.87 181.85V181.15h0.61V181.85zM144.24 181.85V178.25h0.61V181.85zM144.81 181.85V174.45h0.61V181.85zM145.37 181.85V170.45h0.61V181.85zM145.93 181.85V166.66h0.61V181.85zM146.49 181.85V162.14h0.61V181.85zM147.06 181.85V155.6h0.61V181.85zM147.62 181.85V150.51h0.61V181.85zM148.18 181.85V148.97h0.61V181.85zM148.74 181.85V147.16h0.61V181.85zM149.3 181.85V144.46h0.61V181.85zM149.87 181.85V145.08h0.61V181.85zM150.43 181.85V141.76h0.61V181.85zM150.99 181.85V142.3h0.61V181.85zM151.55 181.85V141.91h0.61V181.85zM152.11 181.85V141.23h0.61V181.85zM152.68 181.85V139.32h0.61V181.85zM153.24 181.85V136.13h0.61V181.85zM153.8 181.85V136.02h0.61V181.85zM154.36 181.85V132.8h0.61V181.85zM154.92 181.85V129.8h0.61V181.85zM155.49 181.85V127.66h0.61V181.85zM156.05 181.85V118.41h0.61V181.85zM156.61 181.85V112.21h0.61V181.85zM157.17 181.85V105.08h0.61V181.85zM157.73 181.85V113.85h0.61V181.85zM158.3 181.85V116.61h0.61V181.85zM158.86 181.85V120.86h0.61V181.85zM159.42 181.85V122.67h0.61V181.85zM159.98 181.85V122.7h0.61V181.85zM160.54 181.85V118.71h0.61V181.85zM161.11 181.85V115.88h0.61V181.85zM161.67 181.85V108.93h0.61V181.85zM162.23 181.85V104.82h0.61V181.85zM162.79 181.85V103.47h0.61V181.85zM163.35 181.85V105.25h0.61V181.85zM163.92 181.85V109.13h0.61V181.85zM164.48 181.85V109h0.61V181.85zM165.04 181.85V107.22h0.61V181.85zM165.6 181.85V107.14h0.61V181.85zM166.17 181.85V102.17h0.61V181.85zM166.73 181.85V109.5h0.61V181.85zM167.29 181.85V110.89h0.61V181.85zM167.85 181.85V110.82h0.61V181.85zM168.41 181.85V109.09h0.61V181.85zM168.98 181.85V104.05h0.61V181.85zM169.54 181.85V111.83h0.61V181.85zM170.1 181.85V116.69h0.61V181.85zM170.66 181.85V121.07h0.61V181.85zM171.22 181.85V126.04h0.61V181.85zM171.79 181.85V129.26h0.61V181.85zM172.35 181.85V134.46h0.61V181.85zM172.91 181.85V135.72h0.61V181.85zM173.47 181.85V134.13h0.61V181.85zM174.03 181.85V136.92h0.61V181.85zM174.6 181.85V141.29h0.61V181.85zM175.16 181.85V145.71h0.61V181.85zM175.72 181.85V154.15h0.61V181.85zM176.28 181.85V160.69h0.61V181.85zM176.84 181.85V164.59h0.61V181.85zM177.41 181.85V169.02h0.61V181.85zM177.97 181.85V172.07h0.61V181.85zM178.53 181.85V175.64h0.61V181.85zM179.09 181.85V179.13h0.61V181.85zM187.52 181.85V177.79h0.61V181.85zM188.09 181.85V172.59h0.61V181.85zM188.65 181.85V169.07h0.61V181.85zM189.21 181.85V165.89h0.61V181.85zM189.77 181.85V166.94h0.61V181.85zM190.33 181.85V167.7h0.61V181.85zM190.9 181.85V167.74h0.61V181.85zM191.46 181.85V163.93h0.61V181.85zM192.02 181.85V159.68h0.61V181.85zM192.58 181.85V153.23h0.61V181.85zM193.14 181.85V145.87h0.61V181.85zM193.71 181.85V141.39h0.61V181.85zM194.27 181.85V136.98h0.61V181.85zM194.83 181.85V135.03h0.61V181.85zM195.39 181.85V133.78h0.61V181.85zM195.95 181.85V140.39h0.61V181.85zM196.52 181.85V147.25h0.61V181.85zM197.08 181.85V153.11h0.61V181.85zM197.64 181.85V157.65h0.61V181.85zM198.2 181.85V162.59h0.61V181.85zM198.76 181.85V161.19h0.61V181.85zM199.33 181.85V158.12h0.61V181.85zM199.89 181.85V154.27h0.61V181.85zM200.45 181.85V159.56h0.61V181.85zM201.01 181.85V164.44h0.61V181.85zM201.57 181.85V167.67h0.61V181.85zM202.14 181.85V169.04h0.61V181.85zM202.7 181.85V170.88h0.61V181.85zM203.26 181.85V171.74h0.61V181.85zM203.82 181.85V173.69h0.61V181.85zM204.39 181.85V175.8h0.61V181.85zM204.95 181.85V177.97h0.61V181.85zM205.51 181.85V180.31h0.61V181.85zM210.57 181.85V179.75h0.61V181.85zM211.13 181.85V177.35h0.61V181.85zM211.69 181.85V175.24h0.61V181.85zM212.25 181.85V174.12h0.61V181.85zM212.82 181.85V172.58h0.61V181.85zM213.38 181.85V174.26h0.61V181.85zM213.94 181.85V176.01h0.61V181.85zM214.5 181.85V180.22h0.61V181.85zM218.44 181.85V174.58h0.61V181.85zM219 181.85V156.1h0.61V181.85zM219.56 181.85V157.04h0.61V181.85zM220.12 181.85V159.75h0.61V181.85zM220.68 181.85V161.83h0.61V181.85zM221.25 181.85V162.52h0.61V181.85zM221.81 181.85V161.96h0.61V181.85zM222.37 181.85V161.09h0.61V181.85zM222.93 181.85V159.41h0.61V181.85zM223.5 181.85V157.44h0.61V181.85zM224.06 181.85V154.6h0.61V181.85zM224.62 181.85V154.32h0.61V181.85zM225.18 181.85V160.32h0.61V181.85zM225.74 181.85V163h0.61V181.85zM226.31 181.85V167.08h0.61V181.85zM226.87 181.85V170.85h0.61V181.85zM227.43 181.85V173.53h0.61V181.85zM227.99 181.85V175.19h0.61V181.85zM228.55 181.85V172.9h0.61V181.85zM229.12 181.85V171.42h0.61V181.85zM229.68 181.85V170.25h0.61V181.85zM230.24 181.85V172.74h0.61V181.85zM230.8 181.85V175.51h0.61V181.85zM231.36 181.85V178.25h0.61V181.85zM239.79 181.85V173.87h0.61V181.85zM240.36 181.85V164.35h0.61V181.85zM240.92 181.85V155.73h0.61V181.85zM241.48 181.85V162.55h0.61V181.85zM242.04 181.85V171.55h0.61V181.85zM242.61 181.85V169.49h0.61V181.85zM243.17 181.85V166.73h0.61V181.85zM243.73 181.85V164.13h0.61V181.85zM244.29 181.85V161.6h0.61V181.85zM244.85 181.85V159.4h0.61V181.85zM245.42 181.85V155.85h0.61V181.85zM245.98 181.85V151.64h0.61V181.85zM246.54 181.85V153.35h0.61V181.85zM247.1 181.85V157.12h0.61V181.85zM247.66 181.85V160.09h0.61V181.85zM248.23 181.85V164.51h0.61V181.85zM248.79 181.85V168.1h0.61V181.85zM249.35 181.85V170.21h0.61V181.85zM249.91 181.85V168.17h0.61V181.85zM250.47 181.85V166.72h0.61V181.85zM251.04 181.85V165.93h0.61V181.85zM251.6 181.85V170.98h0.61V181.85zM252.16 181.85V175.28h0.61V181.85zM252.72 181.85V179.99h0.61V181.85zM256.09 181.85V179.46h0.61V181.85zM256.66 181.85V177.26h0.61V181.85zM257.22 181.85V175.13h0.61V181.85zM257.78 181.85V173.74h0.61V181.85zM258.34 181.85V172.84h0.61V181.85zM258.9 181.85V171.44h0.61V181.85zM259.47 181.85V170.18h0.61V181.85zM260.03 181.85V168.23h0.61V181.85zM260.59 181.85V164.87h0.61V181.85zM261.15 181.85V160.85h0.61V181.85zM261.72 181.85V157.7h0.61V181.85zM262.28 181.85V155.08h0.61V181.85zM262.84 181.85V150.75h0.61V181.85zM263.4 181.85V146.3h0.61V181.85zM263.96 181.85V140.86h0.61V181.85zM264.53 181.85V136.18h0.61V181.85zM265.09 181.85V139.21h0.61V181.85zM265.65 181.85V139.44h0.61V181.85zM266.21 181.85V140.32h0.61V181.85zM266.77 181.85V142.13h0.61V181.85zM267.34 181.85V139.8h0.61V181.85zM267.9 181.85V136.77h0.61V181.85zM268.46 181.85V136.04h0.61V181.85zM269.02 181.85V139.72h0.61V181.85zM269.58 181.85V141.09h0.61V181.85zM270.15 181.85V146.58h0.61V181.85zM270.71 181.85V151.12h0.61V181.85zM271.27 181.85V154.69h0.61V181.85zM271.83 181.85V159.69h0.61V181.85zM272.39 181.85V163.41h0.61V181.85zM272.96 181.85V167.76h0.61V181.85zM273.52 181.85V172.41h0.61V181.85zM274.08 181.85V176.54h0.61V181.85zM274.64 181.85V179.98h0.61V181.85zM306.12 181.85V180.88h0.61V181.85zM306.68 181.85V177.39h0.61V181.85zM307.24 181.85V176.35h0.61V181.85zM307.8 181.85V175.14h0.61V181.85zM308.37 181.85V173.64h0.61V181.85zM308.93 181.85V171.7h0.61V181.85zM309.49 181.85V156.58h0.61V181.85zM310.05 181.85V159.82h0.61V181.85zM310.61 181.85V168.48h0.61V181.85zM311.18 181.85V174.86h0.61V181.85zM311.74 181.85V178.33h0.61V181.85zM315.11 181.85V173.37h0.61V181.85zM315.67 181.85V158.87h0.61V181.85zM316.23 181.85V162.11h0.61V181.85zM316.8 181.85V163.76h0.61V181.85zM317.36 181.85V170.8h0.61V181.85zM317.92 181.85V178.61h0.61V181.85zM402.23 181.85V179.48h0.61V181.85zM402.79 181.85V179.79h0.61V181.85zM403.35 181.85V180.36h0.61V181.85zM403.92 181.85V181h0.61V181.85zM408.97 181.85V180.89h0.61V181.85zM409.54 181.85V179.44h0.61V181.85zM410.1 181.85V178.59h0.61V181.85zM410.66 181.85V177.62h0.61V181.85zM411.22 181.85V178.21h0.61V181.85zM411.78 181.85V178.78h0.61V181.85zM412.35 181.85V177.6h0.61V181.85zM412.91 181.85V176.26h0.61V181.85zM413.47 181.85V175.6h0.61V181.85zM414.03 181.85V174.95h0.61V181.85zM414.6 181.85V178.1h0.61V181.85zM415.16 181.85V180.55h0.61V181.85zM419.09 181.85V181.18h0.61V181.85zM419.65 181.85V180.29h0.61V181.85zM420.22 181.85V179.9h0.61V181.85zM420.78 181.85V179.64h0.61V181.85zM421.34 181.85V179.34h0.61V181.85zM421.9 181.85V178.98h0.61V181.85zM422.46 181.85V178.71h0.61V181.85zM423.03 181.85V180.77h0.61V181.85zM433.14 181.85V180.05h0.61V181.85zM493.28 181.85V176.36h0.61V181.85zM493.85 181.85V174.07h0.61V181.85zM494.41 181.85V172.18h0.61V181.85zM494.97 181.85V175.42h0.61V181.85zM732.72 181.85V177.1h0.61V181.85zM737.22 181.85V177.99h0.61V181.85zM737.78 181.85V180.95h0.61V181.85zM741.15 181.85V173.86h0.61V181.85zM877.17 181.85V179.91h0.61V181.85zM877.73 181.85V174.55h0.61V181.85zM878.29 181.85V169.32h0.61V181.85zM878.86 181.85V166.07h0.61V181.85zM879.42 181.85V162.08h0.61V181.85zM879.98 181.85V158.09h0.61V181.85zM880.54 181.85V155.07h0.61V181.85zM881.1 181.85V151.94h0.61V181.85zM881.67 181.85V154.67h0.61V181.85zM882.23 181.85V158.29h0.61V181.85zM882.79 181.85V163.37h0.61V181.85zM883.35 181.85V167.83h0.61V181.85zM883.91 181.85V172.18h0.61V181.85zM884.48 181.85V178.79h0.61V181.85zM908.08 181.85V171.4h0.61V181.85zM908.65 181.85V168.45h0.61V181.85zM909.21 181.85V169.07h0.61V181.85zM909.77 181.85V169.53h0.61V181.85zM910.33 181.85V169.75h0.61V181.85zM910.89 181.85V168.41h0.61V181.85zM911.46 181.85V167.23h0.61V181.85zM912.02 181.85V166.05h0.61V181.85zM912.58 181.85V163.41h0.61V181.85zM913.14 181.85V160.22h0.61V181.85zM913.7 181.85V149.88h0.61V181.85zM914.27 181.85V136.55h0.61V181.85zM914.83 181.85V121.27h0.61V181.85zM915.39 181.85V109.66h0.61V181.85zM915.95 181.85V100.62h0.61V181.85zM916.51 181.85V105h0.61V181.85zM917.08 181.85V110.33h0.61V181.85zM917.64 181.85V108.94h0.61V181.85zM918.2 181.85V105.7h0.61V181.85zM918.76 181.85V109.58h0.61V181.85zM919.32 181.85V114.1h0.61V181.85zM919.89 181.85V117.12h0.61V181.85zM920.45 181.85V116.27h0.61V181.85zM921.01 181.85V119.09h0.61V181.85zM921.57 181.85V127.77h0.61V181.85zM922.13 181.85V136.96h0.61V181.85zM922.7 181.85V142.3h0.61V181.85zM923.26 181.85V146.52h0.61V181.85zM923.82 181.85V137.92h0.61V181.85zM924.38 181.85V126.4h0.61V181.85zM924.94 181.85V124.29h0.61V181.85zM925.51 181.85V118.95h0.61V181.85zM926.07 181.85V119.08h0.61V181.85zM926.63 181.85V121.76h0.61V181.85zM927.19 181.85V123.92h0.61V181.85zM927.76 181.85V118.47h0.61V181.85zM928.32 181.85V122.79h0.61V181.85zM928.88 181.85V126.16h0.61V181.85zM929.44 181.85V138.81h0.61V181.85zM930 181.85V157.3h0.61V181.85zM930.57 181.85V153.48h0.61V181.85zM931.13 181.85V148.37h0.61V181.85zM931.69 181.85V141.25h0.61V181.85zM932.25 181.85V129.54h0.61V181.85zM932.81 181.85V123.53h0.61V181.85zM933.38 181.85V123.5h0.61V181.85zM933.94 181.85V125.37h0.61V181.85z"/></clipPath></defs>
<g opacity="0.25"><text x="429.5 457.1 468.6 488.2 507.6 518.8 538.2 566.7 587.4 609.5 629" y="312.5" class="wm">CryptoQuant</text></g>
<path d="M141.43 181.85V186.89h0.61V181.85zM142 181.85V193.42h0.61V181.85zM142.56 181.85V190.74h0.61V181.85zM143.12 181.85V185.76h0.61V181.85zM179.65 181.85V183.04h0.61V181.85zM180.22 181.85V186.79h0.61V181.85zM180.78 181.85V191.01h0.61V181.85zM181.34 181.85V194.86h0.61V181.85zM181.9 181.85V197.64h0.61V181.85zM182.46 181.85V201.59h0.61V181.85zM183.03 181.85V204.54h0.61V181.85zM183.59 181.85V198.41h0.61V181.85zM184.15 181.85V194.98h0.61V181.85zM184.71 181.85V192.7h0.61V181.85zM185.28 181.85V191.58h0.61V181.85zM185.84 181.85V190.96h0.61V181.85zM186.4 181.85V190.34h0.61V181.85zM186.96 181.85V186.15h0.61V181.85zM206.07 181.85V184.93h0.61V181.85zM206.63 181.85V188.17h0.61V181.85zM207.2 181.85V192.59h0.61V181.85zM207.76 181.85V191.17h0.61V181.85zM208.32 181.85V189.12h0.61V181.85zM208.88 181.85V187.28h0.61V181.85zM209.44 181.85V185.19h0.61V181.85zM210.01 181.85V182.78h0.61V181.85zM215.63 181.85V183.28h0.61V181.85zM216.19 181.85V184.46h0.61V181.85zM216.75 181.85V183.08h0.61V181.85zM232.49 181.85V187.76h0.61V181.85zM233.05 181.85V199.4h0.61V181.85zM233.61 181.85V207.14h0.61V181.85zM234.17 181.85V211.74h0.61V181.85zM234.74 181.85V206.2h0.61V181.85zM235.3 181.85V203h0.61V181.85zM235.86 181.85V200.89h0.61V181.85zM236.42 181.85V198.19h0.61V181.85zM236.98 181.85V195.23h0.61V181.85zM237.55 181.85V193.28h0.61V181.85zM238.11 181.85V189.39h0.61V181.85zM238.67 181.85V184.78h0.61V181.85zM253.28 181.85V183.02h0.61V181.85zM253.85 181.85V184.02h0.61V181.85zM254.41 181.85V184.31h0.61V181.85zM254.97 181.85V182.82h0.61V181.85zM275.77 181.85V184.23h0.61V181.85zM276.33 181.85V201.17h0.61V181.85zM276.89 181.85V207.97h0.61V181.85zM277.45 181.85V209.97h0.61V181.85zM278.01 181.85V211.89h0.61V181.85zM278.58 181.85V217.2h0.61V181.85zM279.14 181.85V219.75h0.61V181.85zM279.7 181.85V222.32h0.61V181.85zM280.26 181.85V224.98h0.61V181.85zM280.83 181.85V230.58h0.61V181.85zM281.39 181.85V233.5h0.61V181.85zM281.95 181.85V225.18h0.61V181.85zM282.51 181.85V217.96h0.61V181.85zM283.07 181.85V214.08h0.61V181.85zM283.64 181.85V210.29h0.61V181.85zM284.2 181.85V206.16h0.61V181.85zM284.76 181.85V203.67h0.61V181.85zM285.32 181.85V205.11h0.61V181.85zM285.88 181.85V206.49h0.61V181.85zM286.45 181.85V210.39h0.61V181.85zM287.01 181.85V212.09h0.61V181.85zM287.57 181.85V214.4h0.61V181.85zM288.13 181.85V216.03h0.61V181.85zM288.69 181.85V216.37h0.61V181.85zM289.26 181.85V213.55h0.61V181.85zM289.82 181.85V212.53h0.61V181.85zM290.38 181.85V213.27h0.61V181.85zM290.94 181.85V214.27h0.61V181.85zM291.5 181.85V215.95h0.61V181.85zM292.07 181.85V219.54h0.61V181.85zM292.63 181.85V209.74h0.61V181.85zM293.19 181.85V206.8h0.61V181.85zM293.75 181.85V207.01h0.61V181.85zM294.31 181.85V206.26h0.61V181.85zM294.88 181.85V211.89h0.61V181.85zM295.44 181.85V215.52h0.61V181.85zM296 181.85V211.79h0.61V181.85zM296.56 181.85V207.41h0.61V181.85zM297.12 181.85V210.33h0.61V181.85zM297.69 181.85V213.76h0.61V181.85zM298.25 181.85V210.79h0.61V181.85zM298.81 181.85V207.21h0.61V181.85zM299.37 181.85V203.35h0.61V181.85zM299.94 181.85V199.77h0.61V181.85zM300.5 181.85V195.78h0.61V181.85zM301.06 181.85V192.2h0.61V181.85zM301.62 181.85V188.5h0.61V181.85zM302.18 181.85V185.38h0.61V181.85zM302.75 181.85V182.85h0.61V181.85zM303.31 181.85V182.49h0.61V181.85zM303.87 181.85V184.01h0.61V181.85zM304.43 181.85V186.22h0.61V181.85zM304.99 181.85V193.99h0.61V181.85zM305.56 181.85V185.02h0.61V181.85zM313.42 181.85V186.16h0.61V181.85zM319.61 181.85V189.72h0.61V181.85zM320.17 181.85V193.27h0.61V181.85zM320.73 181.85V195.96h0.61V181.85zM321.29 181.85V195.87h0.61V181.85zM321.86 181.85V195.38h0.61V181.85zM322.42 181.85V194.87h0.61V181.85zM322.98 181.85V195.89h0.61V181.85zM323.54 181.85V197.57h0.61V181.85zM324.1 181.85V204.7h0.61V181.85zM324.67 181.85V195.43h0.61V181.85zM325.23 181.85V194.02h0.61V181.85zM325.79 181.85V192.82h0.61V181.85zM326.35 181.85V191.45h0.61V181.85zM326.91 181.85V190.52h0.61V181.85zM327.48 181.85V190.06h0.61V181.85zM328.04 181.85V197.18h0.61V181.85zM328.6 181.85V203.46h0.61V181.85zM329.16 181.85V212.75h0.61V181.85zM329.72 181.85V220.71h0.61V181.85zM330.29 181.85V226.84h0.61V181.85zM330.85 181.85V220.11h0.61V181.85zM331.41 181.85V211.09h0.61V181.85zM331.97 181.85V199.63h0.61V181.85zM332.53 181.85V194.26h0.61V181.85zM333.1 181.85V192.22h0.61V181.85zM333.66 181.85V190.86h0.61V181.85zM334.22 181.85V190.46h0.61V181.85zM334.78 181.85V190.07h0.61V181.85zM335.34 181.85V188.88h0.61V181.85zM335.91 181.85V187.42h0.61V181.85zM336.47 181.85V188.85h0.61V181.85zM337.03 181.85V190.91h0.61V181.85zM337.59 181.85V191.76h0.61V181.85zM338.16 181.85V192.63h0.61V181.85zM338.72 181.85V187.51h0.61V181.85zM339.28 181.85V183.21h0.61V181.85zM340.97 181.85V182.5h0.61V181.85zM341.53 181.85V192.45h0.61V181.85zM342.09 181.85V187.01h0.61V181.85zM342.65 181.85V185.48h0.61V181.85zM343.21 181.85V183.77h0.61V181.85zM343.78 181.85V184.57h0.61V181.85zM344.34 181.85V186.14h0.61V181.85zM344.9 181.85V184.07h0.61V181.85zM346.59 181.85V185.92h0.61V181.85zM347.15 181.85V189.16h0.61V181.85zM347.71 181.85V191.91h0.61V181.85zM348.27 181.85V194.12h0.61V181.85zM348.83 181.85V196.45h0.61V181.85zM349.4 181.85V200.27h0.61V181.85zM349.96 181.85V202.21h0.61V181.85zM350.52 181.85V199.69h0.61V181.85zM351.08 181.85V198.78h0.61V181.85zM351.64 181.85V203.41h0.61V181.85zM352.21 181.85V200.85h0.61V181.85zM352.77 181.85V198.41h0.61V181.85zM353.33 181.85V199.73h0.61V181.85zM353.89 181.85V201.49h0.61V181.85zM354.45 181.85V202.96h0.61V181.85zM355.02 181.85V204.11h0.61V181.85zM355.58 181.85V205.61h0.61V181.85zM356.14 181.85V205.49h0.61V181.85zM356.7 181.85V207.04h0.61V181.85zM357.27 181.85V211.32h0.61V181.85zM357.83 181.85V208.3h0.61V181.85zM358.39 181.85V204.76h0.61V181.85zM358.95 181.85V203.7h0.61V181.85zM359.51 181.85V202.3h0.61V181.85zM360.08 181.85V202.43h0.61V181.85zM360.64 181.85V201.64h0.61V181.85zM361.2 181.85V200.89h0.61V181.85zM361.76 181.85V202.57h0.61V181.85zM362.32 181.85V204.12h0.61V181.85zM362.89 181.85V203.87h0.61V181.85zM363.45 181.85V202.05h0.61V181.85zM364.01 181.85V198.68h0.61V181.85zM364.57 181.85V199.22h0.61V181.85zM365.13 181.85V200.36h0.61V181.85zM365.7 181.85V198.8h0.61V181.85zM366.26 181.85V197.3h0.61V181.85zM366.82 181.85V196.41h0.61V181.85zM367.38 181.85V199.12h0.61V181.85zM367.94 181.85V200.01h0.61V181.85zM368.51 181.85V201.39h0.61V181.85zM369.07 181.85V202.07h0.61V181.85zM369.63 181.85V202.58h0.61V181.85zM370.19 181.85V202.98h0.61V181.85zM370.75 181.85V202.29h0.61V181.85zM371.32 181.85V201.15h0.61V181.85zM371.88 181.85V200.82h0.61V181.85zM372.44 181.85V201.58h0.61V181.85zM373 181.85V202.8h0.61V181.85zM373.56 181.85V201.12h0.61V181.85zM374.13 181.85V200.21h0.61V181.85zM374.69 181.85V199.58h0.61V181.85zM375.25 181.85V199.83h0.61V181.85zM375.81 181.85V198.08h0.61V181.85zM376.38 181.85V195.13h0.61V181.85zM376.94 181.85V195.16h0.61V181.85zM377.5 181.85V195.7h0.61V181.85zM378.06 181.85V196.53h0.61V181.85zM378.62 181.85V197.76h0.61V181.85zM379.19 181.85V198.97h0.61V181.85zM379.75 181.85V204.18h0.61V181.85zM380.31 181.85V207.14h0.61V181.85zM380.87 181.85V200.25h0.61V181.85zM381.43 181.85V198.98h0.61V181.85zM382 181.85V198.26h0.61V181.85zM382.56 181.85V197.69h0.61V181.85zM383.12 181.85V198.11h0.61V181.85zM383.68 181.85V197.32h0.61V181.85zM384.24 181.85V200.44h0.61V181.85zM384.81 181.85V202.56h0.61V181.85zM385.37 181.85V207.51h0.61V181.85zM385.93 181.85V212.14h0.61V181.85zM386.49 181.85V214.08h0.61V181.85zM387.05 181.85V215.15h0.61V181.85zM387.62 181.85V217.26h0.61V181.85zM388.18 181.85V217.57h0.61V181.85zM388.74 181.85V218.87h0.61V181.85zM389.3 181.85V216.43h0.61V181.85zM389.86 181.85V215.61h0.61V181.85zM390.43 181.85V213.24h0.61V181.85zM390.99 181.85V211.56h0.61V181.85zM391.55 181.85V210.42h0.61V181.85zM392.11 181.85V208.32h0.61V181.85zM392.67 181.85V209.35h0.61V181.85zM393.24 181.85V209.82h0.61V181.85zM393.8 181.85V211.09h0.61V181.85zM394.36 181.85V212.07h0.61V181.85zM394.92 181.85V212.9h0.61V181.85zM395.49 181.85V211.63h0.61V181.85zM396.05 181.85V209.66h0.61V181.85zM396.61 181.85V208.44h0.61V181.85zM397.17 181.85V208.34h0.61V181.85zM397.73 181.85V204.95h0.61V181.85zM398.3 181.85V203.02h0.61V181.85zM398.86 181.85V197.25h0.61V181.85zM399.42 181.85V191.23h0.61V181.85zM399.98 181.85V188.05h0.61V181.85zM400.54 181.85V184.62h0.61V181.85zM405.04 181.85V183.88h0.61V181.85zM405.6 181.85V186.15h0.61V181.85zM406.16 181.85V187.96h0.61V181.85zM406.73 181.85V188.88h0.61V181.85zM407.29 181.85V186.38h0.61V181.85zM407.85 181.85V184.6h0.61V181.85zM408.41 181.85V182.84h0.61V181.85zM415.72 181.85V183.43h0.61V181.85zM416.28 181.85V185.82h0.61V181.85zM416.84 181.85V187.73h0.61V181.85zM417.41 181.85V188.85h0.61V181.85zM417.97 181.85V186.51h0.61V181.85zM418.53 181.85V184.62h0.61V181.85zM424.15 181.85V184.75h0.61V181.85zM424.71 181.85V186.54h0.61V181.85zM425.27 181.85V188.01h0.61V181.85zM425.84 181.85V189.57h0.61V181.85zM426.4 181.85V190.42h0.61V181.85zM426.96 181.85V191.09h0.61V181.85zM427.52 181.85V191.71h0.61V181.85zM428.08 181.85V192.19h0.61V181.85zM428.65 181.85V192.59h0.61V181.85zM429.21 181.85V191.08h0.61V181.85zM429.77 181.85V190.25h0.61V181.85zM430.33 181.85V189.53h0.61V181.85zM430.89 181.85V188.96h0.61V181.85zM431.46 181.85V186.86h0.61V181.85zM432.02 181.85V184.8h0.61V181.85zM433.71 181.85V184.45h0.61V181.85zM434.27 181.85V190.48h0.61V181.85zM434.83 181.85V197.79h0.61V181.85zM435.39 181.85V204.48h0.61V181.85zM435.95 181.85V210.14h0.61V181.85zM436.52 181.85V216.84h0.61V181.85zM437.08 181.85V220.52h0.61V181.85zM437.64 181.85V221.14h0.61V181.85zM438.2 181.85V221.92h0.61V181.85zM438.76 181.85V220.81h0.61V181.85zM439.33 181.85V222.38h0.61V181.85zM439.89 181.85V220.39h0.61V181.85zM440.45 181.85V221.72h0.61V181.85zM441.01 181.85V221.12h0.61V181.85zM441.57 181.85V218.53h0.61V181.85zM442.14 181.85V219.23h0.61V181.85zM442.7 181.85V219.79h0.61V181.85zM443.26 181.85V219.79h0.61V181.85zM443.82 181.85V219.14h0.61V181.85zM444.38 181.85V219.53h0.61V181.85zM444.95 181.85V220.18h0.61V181.85zM445.51 181.85V222.49h0.61V181.85zM446.07 181.85V221.09h0.61V181.85zM446.63 181.85V222.33h0.61V181.85zM447.19 181.85V221.63h0.61V181.85zM447.76 181.85V221.21h0.61V181.85zM448.32 181.85V220.78h0.61V181.85zM448.88 181.85V217.54h0.61V181.85zM449.44 181.85V217.7h0.61V181.85zM450 181.85V215.83h0.61V181.85zM450.57 181.85V215.37h0.61V181.85zM451.13 181.85V214.14h0.61V181.85zM451.69 181.85V214.25h0.61V181.85zM452.25 181.85V216.39h0.61V181.85zM452.82 181.85V216.34h0.61V181.85zM453.38 181.85V216.07h0.61V181.85zM453.94 181.85V216.71h0.61V181.85zM454.5 181.85V218.46h0.61V181.85zM455.06 181.85V219.29h0.61V181.85zM455.63 181.85V219.99h0.61V181.85zM456.19 181.85V220.65h0.61V181.85zM456.75 181.85V222.16h0.61V181.85zM457.31 181.85V222.89h0.61V181.85zM457.87 181.85V225.01h0.61V181.85zM458.44 181.85V223.66h0.61V181.85zM459 181.85V226.72h0.61V181.85zM459.56 181.85V228.1h0.61V181.85zM460.12 181.85V227.25h0.61V181.85zM460.68 181.85V230.65h0.61V181.85zM461.25 181.85V232.02h0.61V181.85zM461.81 181.85V235.46h0.61V181.85zM462.37 181.85V236.97h0.61V181.85zM462.93 181.85V241.32h0.61V181.85zM463.49 181.85V246h0.61V181.85zM464.06 181.85V253.33h0.61V181.85zM464.62 181.85V248.27h0.61V181.85zM465.18 181.85V243.16h0.61V181.85zM465.74 181.85V239.91h0.61V181.85zM466.3 181.85V236.99h0.61V181.85zM466.87 181.85V234.59h0.61V181.85zM467.43 181.85V233.32h0.61V181.85zM467.99 181.85V234.49h0.61V181.85zM468.55 181.85V231.85h0.61V181.85zM469.11 181.85V234.58h0.61V181.85zM469.68 181.85V233.1h0.61V181.85zM470.24 181.85V233.78h0.61V181.85zM470.8 181.85V235.21h0.61V181.85zM471.36 181.85V234.83h0.61V181.85zM471.93 181.85V236.04h0.61V181.85zM472.49 181.85V238.53h0.61V181.85zM473.05 181.85V238.87h0.61V181.85zM473.61 181.85V239.2h0.61V181.85zM474.17 181.85V239.15h0.61V181.85zM474.74 181.85V240.69h0.61V181.85zM475.3 181.85V241.36h0.61V181.85zM475.86 181.85V240.56h0.61V181.85zM476.42 181.85V241.73h0.61V181.85zM476.98 181.85V239.64h0.61V181.85zM477.55 181.85V234.46h0.61V181.85zM478.11 181.85V224.65h0.61V181.85zM478.67 181.85V224.97h0.61V181.85zM479.23 181.85V224.25h0.61V181.85zM479.79 181.85V222.92h0.61V181.85zM480.36 181.85V222h0.61V181.85zM480.92 181.85V223.83h0.61V181.85zM481.48 181.85V221.54h0.61V181.85zM482.04 181.85V222.04h0.61V181.85zM482.6 181.85V221.01h0.61V181.85zM483.17 181.85V220.02h0.61V181.85zM483.73 181.85V218.77h0.61V181.85zM484.29 181.85V215.38h0.61V181.85zM484.85 181.85V210.24h0.61V181.85zM485.41 181.85V207.1h0.61V181.85zM485.98 181.85V202.92h0.61V181.85zM486.54 181.85V199.54h0.61V181.85zM487.1 181.85V195.69h0.61V181.85zM487.66 181.85V193h0.61V181.85zM488.22 181.85V190.79h0.61V181.85zM488.79 181.85V188.61h0.61V181.85zM489.35 181.85V186.59h0.61V181.85zM489.91 181.85V184.76h0.61V181.85zM490.47 181.85V184.01h0.61V181.85zM491.04 181.85V183.38h0.61V181.85zM491.6 181.85V182.66h0.61V181.85zM495.53 181.85V187.2h0.61V181.85zM496.09 181.85V194.68h0.61V181.85zM496.66 181.85V199.22h0.61V181.85zM497.22 181.85V203.09h0.61V181.85zM497.78 181.85V207.34h0.61V181.85zM498.34 181.85V218.39h0.61V181.85zM498.9 181.85V224.65h0.61V181.85zM499.47 181.85V229.38h0.61V181.85zM500.03 181.85V235.23h0.61V181.85zM500.59 181.85V239.44h0.61V181.85zM501.15 181.85V241.72h0.61V181.85zM501.71 181.85V244.36h0.61V181.85zM502.28 181.85V246.12h0.61V181.85zM502.84 181.85V250.44h0.61V181.85zM503.4 181.85V257.32h0.61V181.85zM503.96 181.85V258.19h0.61V181.85zM504.52 181.85V265.57h0.61V181.85zM505.09 181.85V271.87h0.61V181.85zM505.65 181.85V278.87h0.61V181.85zM506.21 181.85V280.7h0.61V181.85zM506.77 181.85V287.58h0.61V181.85zM507.33 181.85V295.2h0.61V181.85zM507.9 181.85V305.55h0.61V181.85zM508.46 181.85V318.31h0.61V181.85zM509.02 181.85V318.86h0.61V181.85zM509.58 181.85V311.51h0.61V181.85zM510.15 181.85V305.95h0.61V181.85zM510.71 181.85V295.48h0.61V181.85zM511.27 181.85V291.58h0.61V181.85zM511.83 181.85V293.32h0.61V181.85zM512.39 181.85V290.33h0.61V181.85zM512.96 181.85V280.63h0.61V181.85zM513.52 181.85V275h0.61V181.85zM514.08 181.85V267.36h0.61V181.85zM514.64 181.85V282.79h0.61V181.85zM515.2 181.85V301.74h0.61V181.85zM515.77 181.85V296.11h0.61V181.85zM516.33 181.85V286.99h0.61V181.85zM516.89 181.85V279.58h0.61V181.85zM517.45 181.85V270.56h0.61V181.85zM518.01 181.85V268.43h0.61V181.85zM518.58 181.85V268.17h0.61V181.85zM519.14 181.85V272.94h0.61V181.85zM519.7 181.85V283.28h0.61V181.85zM520.26 181.85V292.6h0.61V181.85zM520.82 181.85V294.69h0.61V181.85zM521.39 181.85V295.33h0.61V181.85zM521.95 181.85V297.38h0.61V181.85zM522.51 181.85V296.68h0.61V181.85zM523.07 181.85V299.19h0.61V181.85zM523.63 181.85V297.64h0.61V181.85zM524.2 181.85V305.09h0.61V181.85zM524.76 181.85V303.17h0.61V181.85zM525.32 181.85V310.42h0.61V181.85zM525.88 181.85V310.27h0.61V181.85zM526.44 181.85V309.73h0.61V181.85zM527.01 181.85V303.78h0.61V181.85zM527.57 181.85V295.71h0.61V181.85zM528.13 181.85V289h0.61V181.85zM528.69 181.85V282.56h0.61V181.85zM529.26 181.85V276.32h0.61V181.85zM529.82 181.85V273.9h0.61V181.85zM530.38 181.85V275.14h0.61V181.85zM530.94 181.85V282.72h0.61V181.85zM531.5 181.85V286.43h0.61V181.85zM532.07 181.85V290.66h0.61V181.85zM532.63 181.85V289.06h0.61V181.85zM533.19 181.85V279.83h0.61V181.85zM533.75 181.85V276.04h0.61V181.85zM534.31 181.85V271.22h0.61V181.85zM534.88 181.85V267.4h0.61V181.85zM535.44 181.85V259.36h0.61V181.85zM536 181.85V253.89h0.61V181.85zM536.56 181.85V247.95h0.61V181.85zM537.12 181.85V243.23h0.61V181.85zM537.69 181.85V240.51h0.61V181.85zM538.25 181.85V236.55h0.61V181.85zM538.81 181.85V231.49h0.61V181.85zM539.37 181.85V227.69h0.61V181.85zM539.93 181.85V224.31h0.61V181.85zM540.5 181.85V221.87h0.61V181.85zM541.06 181.85V216.28h0.61V181.85zM541.62 181.85V209.86h0.61V181.85zM542.18 181.85V207.64h0.61V181.85zM542.74 181.85V206.29h0.61V181.85zM543.31 181.85V204.64h0.61V181.85zM543.87 181.85V201.77h0.61V181.85zM544.43 181.85V199.62h0.61V181.85zM544.99 181.85V192.4h0.61V181.85zM545.56 181.85V199.68h0.61V181.85zM546.12 181.85V204.96h0.61V181.85zM546.68 181.85V207.38h0.61V181.85zM547.24 181.85V211.52h0.61V181.85zM547.8 181.85V207.86h0.61V181.85zM548.37 181.85V204.27h0.61V181.85zM548.93 181.85V201.11h0.61V181.85zM549.49 181.85V199.25h0.61V181.85zM550.05 181.85V194.85h0.61V181.85zM550.61 181.85V198.72h0.61V181.85zM551.18 181.85V204.82h0.61V181.85zM551.74 181.85V211h0.61V181.85zM552.3 181.85V214.34h0.61V181.85zM552.86 181.85V215.87h0.61V181.85zM553.42 181.85V221.23h0.61V181.85zM553.99 181.85V224.07h0.61V181.85zM554.55 181.85V226.82h0.61V181.85zM555.11 181.85V230.37h0.61V181.85zM555.67 181.85V238.33h0.61V181.85zM556.23 181.85V244.36h0.61V181.85zM556.8 181.85V242.38h0.61V181.85zM557.36 181.85V237.58h0.61V181.85zM557.92 181.85V237.14h0.61V181.85zM558.48 181.85V240.76h0.61V181.85zM559.04 181.85V246.75h0.61V181.85zM559.61 181.85V246.69h0.61V181.85zM560.17 181.85V247.61h0.61V181.85zM560.73 181.85V248.46h0.61V181.85zM561.29 181.85V250.67h0.61V181.85zM561.85 181.85V253.63h0.61V181.85zM562.42 181.85V254.53h0.61V181.85zM562.98 181.85V255.03h0.61V181.85zM563.54 181.85V257.33h0.61V181.85zM564.1 181.85V258.2h0.61V181.85zM564.67 181.85V256.72h0.61V181.85zM565.23 181.85V252.58h0.61V181.85zM565.79 181.85V250.5h0.61V181.85zM566.35 181.85V256.11h0.61V181.85zM566.91 181.85V261.95h0.61V181.85zM567.48 181.85V278.44h0.61V181.85zM568.04 181.85V273.12h0.61V181.85zM568.6 181.85V266.58h0.61V181.85zM569.16 181.85V259.87h0.61V181.85zM569.72 181.85V256.33h0.61V181.85zM570.29 181.85V253.23h0.61V181.85zM570.85 181.85V252.08h0.61V181.85zM571.41 181.85V249.25h0.61V181.85zM571.97 181.85V248.25h0.61V181.85zM572.53 181.85V241.73h0.61V181.85zM573.1 181.85V241.35h0.61V181.85zM573.66 181.85V235.2h0.61V181.85zM574.22 181.85V231.7h0.61V181.85zM574.78 181.85V229.01h0.61V181.85zM575.34 181.85V225.83h0.61V181.85zM575.91 181.85V227.39h0.61V181.85zM576.47 181.85V228.39h0.61V181.85zM577.03 181.85V231.71h0.61V181.85zM577.59 181.85V235.29h0.61V181.85zM578.15 181.85V242h0.61V181.85zM578.72 181.85V244.17h0.61V181.85zM579.28 181.85V247.99h0.61V181.85zM579.84 181.85V252.04h0.61V181.85zM580.4 181.85V250.51h0.61V181.85zM580.96 181.85V242.26h0.61V181.85zM581.53 181.85V228.35h0.61V181.85zM582.09 181.85V230.91h0.61V181.85zM582.65 181.85V232.72h0.61V181.85zM583.21 181.85V236.6h0.61V181.85zM583.78 181.85V243.84h0.61V181.85zM584.34 181.85V257.49h0.61V181.85zM584.9 181.85V264.17h0.61V181.85zM585.46 181.85V275.75h0.61V181.85zM586.02 181.85V285.03h0.61V181.85zM586.59 181.85V282.84h0.61V181.85zM587.15 181.85V283.62h0.61V181.85zM587.71 181.85V289.12h0.61V181.85zM588.27 181.85V285.59h0.61V181.85zM588.83 181.85V282.01h0.61V181.85zM589.4 181.85V283.81h0.61V181.85zM589.96 181.85V287.24h0.61V181.85zM590.52 181.85V291.01h0.61V181.85zM591.08 181.85V282.41h0.61V181.85zM591.64 181.85V280.56h0.61V181.85zM592.21 181.85V274.92h0.61V181.85zM592.77 181.85V271.15h0.61V181.85zM593.33 181.85V270.63h0.61V181.85zM593.89 181.85V263.82h0.61V181.85zM594.45 181.85V262.35h0.61V181.85zM595.02 181.85V260.33h0.61V181.85zM595.58 181.85V259.3h0.61V181.85zM596.14 181.85V255.3h0.61V181.85zM596.7 181.85V247.49h0.61V181.85zM597.26 181.85V241.62h0.61V181.85zM597.83 181.85V215.84h0.61V181.85zM598.39 181.85V215.11h0.61V181.85zM598.95 181.85V214.83h0.61V181.85zM599.51 181.85V215.64h0.61V181.85zM600.07 181.85V220.26h0.61V181.85zM600.64 181.85V222.07h0.61V181.85zM601.2 181.85V223.17h0.61V181.85zM601.76 181.85V223.95h0.61V181.85zM602.32 181.85V224.46h0.61V181.85zM602.89 181.85V224.78h0.61V181.85zM603.45 181.85V225.78h0.61V181.85zM604.01 181.85V227.12h0.61V181.85zM604.57 181.85V227.63h0.61V181.85zM605.13 181.85V224.96h0.61V181.85zM605.7 181.85V224.5h0.61V181.85zM606.26 181.85V225.15h0.61V181.85zM606.82 181.85V223.2h0.61V181.85zM607.38 181.85V222.3h0.61V181.85zM607.94 181.85V221.78h0.61V181.85zM608.51 181.85V222.52h0.61V181.85zM609.07 181.85V220.3h0.61V181.85zM609.63 181.85V220.09h0.61V181.85zM610.19 181.85V217.18h0.61V181.85zM610.75 181.85V214.5h0.61V181.85zM611.32 181.85V211.37h0.61V181.85zM611.88 181.85V209.94h0.61V181.85zM612.44 181.85V208.85h0.61V181.85zM613 181.85V208.75h0.61V181.85zM613.56 181.85V210.58h0.61V181.85zM614.13 181.85V211.24h0.61V181.85zM614.69 181.85V212.01h0.61V181.85zM615.25 181.85V211.65h0.61V181.85zM615.81 181.85V211.27h0.61V181.85zM616.37 181.85V210.29h0.61V181.85zM616.94 181.85V210.85h0.61V181.85zM617.5 181.85V211.8h0.61V181.85zM618.06 181.85V212.25h0.61V181.85zM618.62 181.85V211.8h0.61V181.85zM619.18 181.85V212.38h0.61V181.85zM619.75 181.85V210.82h0.61V181.85zM620.31 181.85V210.72h0.61V181.85zM620.87 181.85V211.29h0.61V181.85zM621.43 181.85V212.88h0.61V181.85zM622 181.85V213.17h0.61V181.85zM622.56 181.85V212.61h0.61V181.85zM623.12 181.85V211.51h0.61V181.85zM623.68 181.85V210.26h0.61V181.85zM624.24 181.85V210.65h0.61V181.85zM624.81 181.85V210.6h0.61V181.85zM625.37 181.85V210.54h0.61V181.85zM625.93 181.85V211.04h0.61V181.85zM626.49 181.85V212.85h0.61V181.85zM627.05 181.85V212.73h0.61V181.85zM627.62 181.85V212.97h0.61V181.85zM628.18 181.85V216.8h0.61V181.85zM628.74 181.85V220.3h0.61V181.85zM629.3 181.85V225.08h0.61V181.85zM629.86 181.85V227.63h0.61V181.85zM630.43 181.85V226.6h0.61V181.85zM630.99 181.85V224.93h0.61V181.85zM631.55 181.85V222.06h0.61V181.85zM632.11 181.85V223.6h0.61V181.85zM632.67 181.85V222.94h0.61V181.85zM633.24 181.85V225.08h0.61V181.85zM633.8 181.85V227.49h0.61V181.85zM634.36 181.85V231.55h0.61V181.85zM634.92 181.85V237.29h0.61V181.85zM635.48 181.85V239.03h0.61V181.85zM636.05 181.85V239.1h0.61V181.85zM636.61 181.85V235.37h0.61V181.85zM637.17 181.85V234.89h0.61V181.85zM637.73 181.85V236.15h0.61V181.85zM638.29 181.85V238.3h0.61V181.85zM638.86 181.85V243.49h0.61V181.85zM639.42 181.85V247.8h0.61V181.85zM639.98 181.85V249.3h0.61V181.85zM640.54 181.85V257.66h0.61V181.85zM641.11 181.85V264.83h0.61V181.85zM641.67 181.85V271.9h0.61V181.85zM642.23 181.85V281.8h0.61V181.85zM642.79 181.85V285.37h0.61V181.85zM643.35 181.85V290.74h0.61V181.85zM643.92 181.85V296.06h0.61V181.85zM644.48 181.85V303.55h0.61V181.85zM645.04 181.85V308.71h0.61V181.85zM645.6 181.85V309.74h0.61V181.85zM646.16 181.85V314.42h0.61V181.85zM646.73 181.85V326.8h0.61V181.85zM647.29 181.85V339.2h0.61V181.85zM647.85 181.85V338.87h0.61V181.85zM648.41 181.85V344.39h0.61V181.85zM648.97 181.85V347.6h0.61V181.85zM649.54 181.85V358.75h0.61V181.85zM650.1 181.85V361.81h0.61V181.85zM650.66 181.85V362.06h0.61V181.85zM651.22 181.85V370.44h0.61V181.85zM651.78 181.85V385.02h0.61V181.85zM652.35 181.85V402.54h0.61V181.85zM652.91 181.85V426.37h0.61V181.85zM653.47 181.85V425.2h0.61V181.85zM654.03 181.85V432.34h0.61V181.85zM654.59 181.85V435.44h0.61V181.85zM655.16 181.85V437.67h0.61V181.85zM655.72 181.85V444.04h0.61V181.85zM656.28 181.85V459.26h0.61V181.85zM656.84 181.85V463.73h0.61V181.85zM657.4 181.85V443.31h0.61V181.85zM657.97 181.85V438.54h0.61V181.85zM658.53 181.85V429.76h0.61V181.85zM659.09 181.85V423.78h0.61V181.85zM659.65 181.85V441.4h0.61V181.85zM660.22 181.85V457.89h0.61V181.85zM660.78 181.85V457.04h0.61V181.85zM661.34 181.85V461.64h0.61V181.85zM661.9 181.85V475.21h0.61V181.85zM662.46 181.85V455.14h0.61V181.85zM663.03 181.85V441.67h0.61V181.85zM663.59 181.85V452.03h0.61V181.85zM664.15 181.85V440.55h0.61V181.85zM664.71 181.85V435.29h0.61V181.85zM665.27 181.85V416.93h0.61V181.85zM665.84 181.85V412.73h0.61V181.85zM666.4 181.85V397.15h0.61V181.85zM666.96 181.85V382.55h0.61V181.85zM667.52 181.85V368.73h0.61V181.85zM668.08 181.85V366.92h0.61V181.85zM668.65 181.85V362.24h0.61V181.85zM669.21 181.85V352.84h0.61V181.85zM669.77 181.85V323.35h0.61V181.85zM670.33 181.85V300.11h0.61V181.85zM670.89 181.85V294.12h0.61V181.85zM671.46 181.85V304.78h0.61V181.85zM672.02 181.85V309.96h0.61V181.85zM672.58 181.85V316.11h0.61V181.85zM673.14 181.85V323.19h0.61V181.85zM673.7 181.85V329.68h0.61V181.85zM674.27 181.85V308.44h0.61V181.85zM674.83 181.85V305.28h0.61V181.85zM675.39 181.85V298.19h0.61V181.85zM675.95 181.85V258.59h0.61V181.85zM676.51 181.85V258.5h0.61V181.85zM677.08 181.85V262.92h0.61V181.85zM677.64 181.85V273.99h0.61V181.85zM678.2 181.85V281.66h0.61V181.85zM678.76 181.85V284.92h0.61V181.85zM679.33 181.85V287.69h0.61V181.85zM679.89 181.85V296.68h0.61V181.85zM680.45 181.85V296.26h0.61V181.85zM681.01 181.85V303.15h0.61V181.85zM681.57 181.85V304.91h0.61V181.85zM682.14 181.85V310.23h0.61V181.85zM682.7 181.85V308.88h0.61V181.85zM683.26 181.85V318.42h0.61V181.85zM683.82 181.85V329.08h0.61V181.85zM684.38 181.85V341.58h0.61V181.85zM684.95 181.85V344.78h0.61V181.85zM685.51 181.85V343.8h0.61V181.85zM686.07 181.85V336.99h0.61V181.85zM686.63 181.85V347.75h0.61V181.85zM687.19 181.85V358.53h0.61V181.85zM687.76 181.85V365.03h0.61V181.85zM688.32 181.85V369.93h0.61V181.85zM688.88 181.85V363.35h0.61V181.85zM689.44 181.85V359.75h0.61V181.85zM690 181.85V359.93h0.61V181.85zM690.57 181.85V356.81h0.61V181.85zM691.13 181.85V343.35h0.61V181.85zM691.69 181.85V343.02h0.61V181.85zM692.25 181.85V338.24h0.61V181.85zM692.81 181.85V325.22h0.61V181.85zM693.38 181.85V326.3h0.61V181.85zM693.94 181.85V314.69h0.61V181.85zM694.5 181.85V313.37h0.61V181.85zM695.06 181.85V308.15h0.61V181.85zM695.62 181.85V303.87h0.61V181.85zM696.19 181.85V298.01h0.61V181.85zM696.75 181.85V297.22h0.61V181.85zM697.31 181.85V296.73h0.61V181.85zM697.87 181.85V294.5h0.61V181.85zM698.44 181.85V300.3h0.61V181.85zM699 181.85V303.36h0.61V181.85zM699.56 181.85V294.15h0.61V181.85zM700.12 181.85V276.6h0.61V181.85zM700.68 181.85V263.43h0.61V181.85zM701.25 181.85V244.7h0.61V181.85zM701.81 181.85V239.08h0.61V181.85zM702.37 181.85V242.81h0.61V181.85zM702.93 181.85V244.5h0.61V181.85zM703.49 181.85V244.91h0.61V181.85zM704.06 181.85V245.43h0.61V181.85zM704.62 181.85V248.18h0.61V181.85zM705.18 181.85V248.28h0.61V181.85zM705.74 181.85V254.87h0.61V181.85zM706.3 181.85V263.22h0.61V181.85zM706.87 181.85V268.41h0.61V181.85zM707.43 181.85V274.68h0.61V181.85zM707.99 181.85V273.13h0.61V181.85zM708.55 181.85V269.19h0.61V181.85zM709.11 181.85V270.99h0.61V181.85zM709.68 181.85V266.52h0.61V181.85zM710.24 181.85V268.28h0.61V181.85zM710.8 181.85V266.87h0.61V181.85zM711.36 181.85V263.37h0.61V181.85zM711.92 181.85V258.79h0.61V181.85zM712.49 181.85V258.51h0.61V181.85zM713.05 181.85V254.55h0.61V181.85zM713.61 181.85V251.34h0.61V181.85zM714.17 181.85V238.35h0.61V181.85zM714.73 181.85V231h0.61V181.85zM715.3 181.85V230.19h0.61V181.85zM715.86 181.85V228.26h0.61V181.85zM716.42 181.85V227.3h0.61V181.85zM716.98 181.85V224.48h0.61V181.85zM717.55 181.85V225.33h0.61V181.85zM718.11 181.85V220.2h0.61V181.85zM718.67 181.85V216.01h0.61V181.85zM719.23 181.85V210.91h0.61V181.85zM719.79 181.85V205.75h0.61V181.85zM720.36 181.85V199.5h0.61V181.85zM720.92 181.85V194.06h0.61V181.85zM721.48 181.85V198.58h0.61V181.85zM722.04 181.85V202.69h0.61V181.85zM722.6 181.85V207.89h0.61V181.85zM723.17 181.85V206.15h0.61V181.85zM723.73 181.85V206.17h0.61V181.85zM724.29 181.85V204.25h0.61V181.85zM724.85 181.85V204.16h0.61V181.85zM725.41 181.85V204.09h0.61V181.85zM725.98 181.85V205.24h0.61V181.85zM726.54 181.85V206.51h0.61V181.85zM727.1 181.85V206.34h0.61V181.85zM727.66 181.85V207.32h0.61V181.85zM728.22 181.85V208.61h0.61V181.85zM728.79 181.85V209.1h0.61V181.85zM729.35 181.85V206.95h0.61V181.85zM729.91 181.85V205.66h0.61V181.85zM730.47 181.85V203.49h0.61V181.85zM731.03 181.85V200.52h0.61V181.85zM731.6 181.85V196.31h0.61V181.85zM732.16 181.85V185.29h0.61V181.85zM733.84 181.85V196.75h0.61V181.85zM734.41 181.85V198.36h0.61V181.85zM734.97 181.85V200.03h0.61V181.85zM735.53 181.85V198.51h0.61V181.85zM736.09 181.85V195.15h0.61V181.85zM736.66 181.85V185.22h0.61V181.85zM738.34 181.85V186.29h0.61V181.85zM738.9 181.85V191.18h0.61V181.85zM739.47 181.85V199.25h0.61V181.85zM740.03 181.85V193.15h0.61V181.85zM740.59 181.85V183.23h0.61V181.85zM742.28 181.85V199.48h0.61V181.85zM742.84 181.85V212.8h0.61V181.85zM743.4 181.85V222.64h0.61V181.85zM743.96 181.85V232.43h0.61V181.85zM744.52 181.85V244.22h0.61V181.85zM745.09 181.85V275.73h0.61V181.85zM745.65 181.85V282.93h0.61V181.85zM746.21 181.85V292.98h0.61V181.85zM746.77 181.85V291.53h0.61V181.85zM747.33 181.85V300.03h0.61V181.85zM747.9 181.85V299.35h0.61V181.85zM748.46 181.85V305.65h0.61V181.85zM749.02 181.85V311.8h0.61V181.85zM749.58 181.85V312.32h0.61V181.85zM750.14 181.85V319.51h0.61V181.85zM750.71 181.85V320.92h0.61V181.85zM751.27 181.85V314.97h0.61V181.85zM751.83 181.85V312.89h0.61V181.85zM752.39 181.85V312.2h0.61V181.85zM752.95 181.85V324.4h0.61V181.85zM753.52 181.85V329.23h0.61V181.85zM754.08 181.85V336h0.61V181.85zM754.64 181.85V344.14h0.61V181.85zM755.2 181.85V341.4h0.61V181.85zM755.77 181.85V336.24h0.61V181.85zM756.33 181.85V333.82h0.61V181.85zM756.89 181.85V321.69h0.61V181.85zM757.45 181.85V314.54h0.61V181.85zM758.01 181.85V310.16h0.61V181.85zM758.58 181.85V299.45h0.61V181.85zM759.14 181.85V290.34h0.61V181.85zM759.7 181.85V282.15h0.61V181.85zM760.26 181.85V278.92h0.61V181.85zM760.82 181.85V284.29h0.61V181.85zM761.39 181.85V274.72h0.61V181.85zM761.95 181.85V266.9h0.61V181.85zM762.51 181.85V256.14h0.61V181.85zM763.07 181.85V260.29h0.61V181.85zM763.63 181.85V270.12h0.61V181.85zM764.2 181.85V277.2h0.61V181.85zM764.76 181.85V285.77h0.61V181.85zM765.32 181.85V297.16h0.61V181.85zM765.88 181.85V308.54h0.61V181.85zM766.44 181.85V288.41h0.61V181.85zM767.01 181.85V278.75h0.61V181.85zM767.57 181.85V275.5h0.61V181.85zM768.13 181.85V273.68h0.61V181.85zM768.69 181.85V273.15h0.61V181.85zM769.25 181.85V277.73h0.61V181.85zM769.82 181.85V271.72h0.61V181.85zM770.38 181.85V264.41h0.61V181.85zM770.94 181.85V258.16h0.61V181.85zM771.5 181.85V258.38h0.61V181.85zM772.06 181.85V262.96h0.61V181.85zM772.63 181.85V267.02h0.61V181.85zM773.19 181.85V274.83h0.61V181.85zM773.75 181.85V263.66h0.61V181.85zM774.31 181.85V246.33h0.61V181.85zM774.88 181.85V235.77h0.61V181.85zM775.44 181.85V222.97h0.61V181.85zM776 181.85V216.64h0.61V181.85zM776.56 181.85V205.79h0.61V181.85zM777.12 181.85V192.57h0.61V181.85zM777.69 181.85V186.07h0.61V181.85zM779.37 181.85V187.12h0.61V181.85zM779.93 181.85V199.28h0.61V181.85zM780.5 181.85V210.62h0.61V181.85zM781.06 181.85V236.48h0.61V181.85zM781.62 181.85V260.54h0.61V181.85zM782.18 181.85V281.15h0.61V181.85zM782.74 181.85V291.83h0.61V181.85zM783.31 181.85V302.11h0.61V181.85zM783.87 181.85V303.28h0.61V181.85zM784.43 181.85V308.72h0.61V181.85zM784.99 181.85V314.71h0.61V181.85zM785.55 181.85V320.34h0.61V181.85zM786.12 181.85V339.19h0.61V181.85zM786.68 181.85V359.93h0.61V181.85zM787.24 181.85V380.55h0.61V181.85zM787.8 181.85V385.3h0.61V181.85zM788.36 181.85V409.61h0.61V181.85zM788.93 181.85V414.53h0.61V181.85zM789.49 181.85V415.17h0.61V181.85zM790.05 181.85V421.05h0.61V181.85zM790.61 181.85V417.18h0.61V181.85zM791.17 181.85V414.12h0.61V181.85zM791.74 181.85V411.21h0.61V181.85zM792.3 181.85V412.24h0.61V181.85zM792.86 181.85V424.01h0.61V181.85zM793.42 181.85V442.4h0.61V181.85zM793.99 181.85V440.56h0.61V181.85zM794.55 181.85V427.85h0.61V181.85zM795.11 181.85V444.65h0.61V181.85zM795.67 181.85V455.94h0.61V181.85zM796.23 181.85V438.15h0.61V181.85zM796.8 181.85V435.82h0.61V181.85zM797.36 181.85V436.57h0.61V181.85zM797.92 181.85V444.27h0.61V181.85zM798.48 181.85V446.52h0.61V181.85zM799.04 181.85V451.15h0.61V181.85zM799.61 181.85V453.43h0.61V181.85zM800.17 181.85V452.87h0.61V181.85zM800.73 181.85V438.07h0.61V181.85zM801.29 181.85V468.65h0.61V181.85zM801.85 181.85V464.05h0.61V181.85zM802.42 181.85V464.2h0.61V181.85zM802.98 181.85V460.52h0.61V181.85zM803.54 181.85V474.94h0.61V181.85zM804.1 181.85V484.19h0.61V181.85zM804.66 181.85V484.58h0.61V181.85zM805.23 181.85V480.41h0.61V181.85zM805.79 181.85V498.45h0.61V181.85zM806.35 181.85V501.68h0.61V181.85zM806.91 181.85V499.07h0.61V181.85zM807.47 181.85V510.84h0.61V181.85zM808.04 181.85V493.27h0.61V181.85zM808.6 181.85V474.02h0.61V181.85zM809.16 181.85V454.62h0.61V181.85zM809.72 181.85V445.96h0.61V181.85zM810.28 181.85V424.5h0.61V181.85zM810.85 181.85V415.27h0.61V181.85zM811.41 181.85V402.16h0.61V181.85zM811.97 181.85V393.92h0.61V181.85zM812.53 181.85V382.36h0.61V181.85zM813.1 181.85V382.41h0.61V181.85zM813.66 181.85V378.33h0.61V181.85zM814.22 181.85V381.18h0.61V181.85zM814.78 181.85V383.95h0.61V181.85zM815.34 181.85V371.4h0.61V181.85zM815.91 181.85V348.18h0.61V181.85zM816.47 181.85V372.03h0.61V181.85zM817.03 181.85V385.56h0.61V181.85zM817.59 181.85V372.02h0.61V181.85zM818.15 181.85V360.68h0.61V181.85zM818.72 181.85V397.92h0.61V181.85zM819.28 181.85V380.39h0.61V181.85zM819.84 181.85V367.86h0.61V181.85zM820.4 181.85V356.86h0.61V181.85zM820.96 181.85V347.89h0.61V181.85zM821.53 181.85V345.08h0.61V181.85zM822.09 181.85V337.08h0.61V181.85zM822.65 181.85V330.49h0.61V181.85zM823.21 181.85V336.47h0.61V181.85zM823.77 181.85V336.42h0.61V181.85zM824.34 181.85V347.07h0.61V181.85zM824.9 181.85V350.76h0.61V181.85zM825.46 181.85V362.27h0.61V181.85zM826.02 181.85V370.64h0.61V181.85zM826.58 181.85V393.87h0.61V181.85zM827.15 181.85V407.71h0.61V181.85zM827.71 181.85V402.35h0.61V181.85zM828.27 181.85V377.24h0.61V181.85zM828.83 181.85V379.08h0.61V181.85zM829.39 181.85V371.62h0.61V181.85zM829.96 181.85V374.05h0.61V181.85zM830.52 181.85V366.43h0.61V181.85zM831.08 181.85V361h0.61V181.85zM831.64 181.85V355.83h0.61V181.85zM832.21 181.85V338.29h0.61V181.85zM832.77 181.85V322.12h0.61V181.85zM833.33 181.85V335.33h0.61V181.85zM833.89 181.85V343.3h0.61V181.85zM834.45 181.85V348.16h0.61V181.85zM835.02 181.85V352.85h0.61V181.85zM835.58 181.85V358.29h0.61V181.85zM836.14 181.85V366.26h0.61V181.85zM836.7 181.85V361.03h0.61V181.85zM837.26 181.85V363.53h0.61V181.85zM837.83 181.85V371.21h0.61V181.85zM838.39 181.85V372.98h0.61V181.85zM838.95 181.85V379.57h0.61V181.85zM839.51 181.85V368.14h0.61V181.85zM840.07 181.85V362.31h0.61V181.85zM840.64 181.85V361.69h0.61V181.85zM841.2 181.85V365.5h0.61V181.85zM841.76 181.85V357.37h0.61V181.85zM842.32 181.85V340.04h0.61V181.85zM842.88 181.85V344.69h0.61V181.85zM843.45 181.85V343.64h0.61V181.85zM844.01 181.85V329.24h0.61V181.85zM844.57 181.85V318.73h0.61V181.85zM845.13 181.85V302.13h0.61V181.85zM845.69 181.85V298.07h0.61V181.85zM846.26 181.85V290.99h0.61V181.85zM846.82 181.85V304.28h0.61V181.85zM847.38 181.85V310.29h0.61V181.85zM847.94 181.85V304.26h0.61V181.85zM848.5 181.85V305.12h0.61V181.85zM849.07 181.85V303.5h0.61V181.85zM849.63 181.85V315.64h0.61V181.85zM850.19 181.85V316.95h0.61V181.85zM850.75 181.85V330.38h0.61V181.85zM851.32 181.85V345.03h0.61V181.85zM851.88 181.85V325.54h0.61V181.85zM852.44 181.85V313.87h0.61V181.85zM853 181.85V297.23h0.61V181.85zM853.56 181.85V292.27h0.61V181.85zM854.13 181.85V283.85h0.61V181.85zM854.69 181.85V278.16h0.61V181.85zM855.25 181.85V267.59h0.61V181.85zM855.81 181.85V259.97h0.61V181.85zM856.37 181.85V259.86h0.61V181.85zM856.94 181.85V262.96h0.61V181.85zM857.5 181.85V261.03h0.61V181.85zM858.06 181.85V265.81h0.61V181.85zM858.62 181.85V264.42h0.61V181.85zM859.18 181.85V265.92h0.61V181.85zM859.75 181.85V273.86h0.61V181.85zM860.31 181.85V277.49h0.61V181.85zM860.87 181.85V267.84h0.61V181.85zM861.43 181.85V264.01h0.61V181.85zM861.99 181.85V256.88h0.61V181.85zM862.56 181.85V257.7h0.61V181.85zM863.12 181.85V254.86h0.61V181.85zM863.68 181.85V252.79h0.61V181.85zM864.24 181.85V249.7h0.61V181.85zM864.8 181.85V246.21h0.61V181.85zM865.37 181.85V244.63h0.61V181.85zM865.93 181.85V245.48h0.61V181.85zM866.49 181.85V248.11h0.61V181.85zM867.05 181.85V245.87h0.61V181.85zM867.61 181.85V247.51h0.61V181.85zM868.18 181.85V242.14h0.61V181.85zM868.74 181.85V240.74h0.61V181.85zM869.3 181.85V239h0.61V181.85zM869.86 181.85V239.99h0.61V181.85zM870.43 181.85V237.42h0.61V181.85zM870.99 181.85V235.86h0.61V181.85zM871.55 181.85V244.03h0.61V181.85zM872.11 181.85V248.91h0.61V181.85zM872.67 181.85V238.96h0.61V181.85zM873.24 181.85V225.69h0.61V181.85zM873.8 181.85V218.45h0.61V181.85zM874.36 181.85V214.79h0.61V181.85zM874.92 181.85V209.4h0.61V181.85zM875.48 181.85V201.12h0.61V181.85zM876.05 181.85V192.61h0.61V181.85zM876.61 181.85V183.61h0.61V181.85zM885.04 181.85V187.12h0.61V181.85zM885.6 181.85V195.8h0.61V181.85zM886.16 181.85V201.14h0.61V181.85zM886.72 181.85V205.68h0.61V181.85zM887.29 181.85V210.11h0.61V181.85zM887.85 181.85V213.82h0.61V181.85zM888.41 181.85V216.43h0.61V181.85zM888.97 181.85V225.87h0.61V181.85zM889.54 181.85V234.88h0.61V181.85zM890.1 181.85V245.13h0.61V181.85zM890.66 181.85V253.01h0.61V181.85zM891.22 181.85V259.15h0.61V181.85zM891.78 181.85V271.19h0.61V181.85zM892.35 181.85V273.28h0.61V181.85zM892.91 181.85V281.57h0.61V181.85zM893.47 181.85V292.12h0.61V181.85zM894.03 181.85V298.22h0.61V181.85zM894.59 181.85V308.62h0.61V181.85zM895.16 181.85V318.22h0.61V181.85zM895.72 181.85V313.81h0.61V181.85zM896.28 181.85V313.58h0.61V181.85zM896.84 181.85V310.15h0.61V181.85zM897.4 181.85V312.04h0.61V181.85zM897.97 181.85V314.11h0.61V181.85zM898.53 181.85V295.54h0.61V181.85zM899.09 181.85V287.9h0.61V181.85zM899.65 181.85V283.54h0.61V181.85zM900.21 181.85V276.14h0.61V181.85zM900.78 181.85V272.77h0.61V181.85zM901.34 181.85V270.7h0.61V181.85zM901.9 181.85V274.97h0.61V181.85zM902.46 181.85V282.78h0.61V181.85zM903.02 181.85V283.8h0.61V181.85zM903.59 181.85V279.23h0.61V181.85zM904.15 181.85V275.11h0.61V181.85zM904.71 181.85V264.13h0.61V181.85zM905.27 181.85V216.61h0.61V181.85zM905.83 181.85V209.95h0.61V181.85zM906.4 181.85V206.73h0.61V181.85zM906.96 181.85V201.99h0.61V181.85zM907.52 181.85V187.35h0.61V181.85z" fill="#fdebe8"/>
<polyline points="137.5,280 138.37,278.37 139,278.75 139.97,279.21 140.5,280 141.05,285.7 142,297 143,325 144.25,357.5 145,353.75 146,380 146.75,393 148,372.5 149,377.5 149.7,365.17 150.5,353.75 151.21,357.72 152,362.5 152.98,372.64 153.75,381.25 155,380 156.25,362.5 157,358.08 158,353.75 158.86,365.54 159.5,372.5 160.5,384.5 161.75,357.5 163,332.5 164.25,308.75 165.01,308.71 165.75,310 167,306.25 168,323 169.3,292 170.89,297.2 172,301.25 172.72,295.19 173.75,288.75 174.77,290.95 175.5,291.25 176.31,279.69 177,270 178.25,263.75 179.55,270.22 180.75,277.5 181.87,293.93 182.5,303.75 183.58,299.78 184.5,295 185.99,312.03 187,323.75 187.77,316.2 188.75,306.25 189.72,308.5 191.25,310 192.39,299.43 193.75,285 194.5,291.16 195.5,300 196.22,309.2 197.2,322 198.25,340 199.25,335 200.25,351.25 201.25,340 202.26,337.79 203.75,337.5 204.88,339.1 205.75,341.25 206.7,338.13 208,335 208.99,339.15 210,343.75 211.08,345.49 212,346.25 212.8,345.56 213.75,342.5 215,346.25 216.25,340 217.31,335.91 218,335 219.25,322.5 220.5,308.75 221.4,307.48 222,305 223.25,311.25 224.27,305.27 225,302.5 226.25,310 227.25,337.5 228,371.25 228.75,345 230,350 231.25,356.25 232.5,355 233.75,365 234.5,372.5 235.75,362.5 237,358.75 238.25,361.25 239.5,347.5 240.5,345 241.7,347.57 242.5,348.75 243.21,347.13 244.5,347.5 245.75,350 247,341.25 248,348.75 249.25,362.5 250.5,360 251.45,357.2 252,355 252.74,354.57 253.75,356.25 254.44,356.89 255.5,359.5 256.67,358.69 257.5,358.75 258.19,357.25 259.25,352.5 260.13,349.5 260.75,348.75 262,340 263.08,331 263.75,325 265,312.5 266.02,309.98 266.75,307.5 268,308 268.75,297.5 269.83,304.37 270.5,307.5 271.7,302.26 272.5,300 273.89,302.86 275,305 276.43,299.84 277.5,296.25 279.04,300.22 280,302.5 280.75,307.23 281.75,315 282.53,307.15 283.75,295 284.39,294 285.5,292.5 286.48,296.41 288,302.5 289,300.1 290,297.5 291.52,301.64 292.5,306.25 293.55,309.94 294.25,312.5 295.03,319.38 295.75,325 296.8,311.15 297.5,302.5 298.21,298.25 299,291.25 299.65,288.32 300.75,282.5 301.7,280.69 302.5,281.25 303.83,285.68 305,288.75 306.57,282.84 307.5,280 309.11,276.8 310,275 310.99,274.72 312,272.5 312.63,271.22 313.75,267.5 315.09,258.38 316.25,251.25 317.31,253.21 318,255 318.74,262.45 319.5,270 320.52,272.94 321.25,276.25 322.09,273.06 323,270 324.03,273.37 325,275 326.09,270.31 327.5,262.5 328.75,272.5 329.93,276.63 331.25,281.25 332.33,280.73 333.75,280 335.36,281.17 336.25,281.25 337.72,278.64 338.75,277.5 339.86,273.68 341.25,270 342.56,272.3 343.75,273.75 345.21,276.3 346.25,280 347.67,285.88 348.75,288.75 349.65,291.52 350.5,296.25 351.38,290.11 352.5,285 353.52,280.92 355,272.5 356.33,274.21 357.5,275 359.26,270.85 360.5,266.25 361.83,271.87 363,276.25 364.75,269.32 366.25,262.5 367.57,266.9 368.75,270 369.78,271.95 371.25,273.75 373.08,274.99 375,275 376.43,275.19 378.75,277.5 380.1,277.71 382.5,276.25 384.06,279.74 385,281.25 385.81,288.93 386.75,296.25 387.92,297.13 388.75,297.5 389.6,297.56 390.75,298.75 391.58,294.74 392.5,291.25 393.34,295.18 394.25,298.75 395.51,298.47 396.25,300 397.16,299.54 398,301.25 398.77,304.89 400,308.75 401.05,305.18 402,300 402.85,298.23 403.75,298.75 404.68,301.88 405.75,305 406.85,305.36 407.5,303.75 408.49,300.46 409.5,297.5 410.17,294.99 411.25,290 411.97,292.78 413,298.75 413.71,298.89 415,302.5 415.97,304.37 416.75,307.5 417.71,308.43 418.25,310.5 419.32,307.01 420,306.25 420.53,306.33 421.5,305 422.13,300.81 423,293.75 423.61,288.61 424.5,283.75 425.52,282.81 426.25,281.25 427.31,279.53 428,277.5 428.75,276.87 430,275 430.98,272.09 431.75,270 432.69,258.39 433.25,252.5 434.37,256.22 435,257.5 435.71,258.54 437,263.75 437.95,261.79 438.75,258.75 439.4,257.36 440.5,256.25 441.35,254.74 442,255 443.06,256.49 443.75,257.5 444.39,254.88 445.5,251.25 446.54,245.22 447.5,240 448.61,234.31 449.5,231.25 450.53,231.66 451.25,232.5 452.2,237.57 453,241.25 453.95,242.16 455,243.75 456.17,241.16 457,237.5 458.02,235.47 458.75,233.75 459.52,235.43 460.5,240 461.78,232.46 462.5,227.5 463.7,235.32 464.5,241.25 465.43,239.07 466.25,235 467.3,227.75 468,222.5 468.89,218.46 470,213.75 471.23,215.77 472,217.5 472.97,223.3 473.75,227.5 474.99,232.88 475.75,235 477,241 477.98,237.74 479.25,236.25 480.11,234.99 481.25,233.75 482.2,226.25 483.15,222.41 484,217.5 485.23,210.24 486,207.5 486.96,202.25 487.6,197.5 488.58,193.71 489.2,191 489.89,188.71 490.8,183.75 492,181.6 492.95,178.14 493.6,175 495,166 495.9,162 496.9,157.26 497.5,155 498.16,152.31 499.25,147.5 500.13,139.42 500.75,135 501.76,131.44 502.5,127 503.24,130.62 504.25,135 505.08,143.22 505.75,150 507,153.75 507.5,171.25 508.22,165 509.25,157.5 510.11,153.88 510.75,150 511.6,150.23 512.5,152.5 513.39,150.93 514,148.75 514.63,156.81 515.5,167.5 516.43,166.1 517,163.75 517.76,154.83 518.5,146.25 519.29,151.43 520,157.5 520.61,165.91 521.5,180 522.34,182.47 523,185 524.04,180.22 525,176.25 526.01,173.51 527,172.5 527.64,175.06 528.75,176.25 530,168.75 530.69,174.16 531.5,182.5 532.31,180.49 533,177.5 533.79,180.71 535,185 535.91,186.75 537,188.75 537.62,188.08 538.75,190 539.88,184.41 540.5,180 541.75,157.5 543,142.5 543.74,142.04 544.5,141.25 545.14,139.78 546,136.25 546.72,140.31 547.5,142.5 548.52,141.52 549.25,139.5 550.53,138.43 551.25,138.75 551.88,140.74 553,146.25 553.61,144.75 554.5,145 555.75,157.5 556.39,155.35 557.5,151.25 558.42,154.21 559,156.25 559.95,156.44 560.5,155 561.05,158 562,162.5 562.82,160.41 563.75,160 564.87,159.42 565.5,160 566.28,166.83 567,172.5 568.11,180.87 568.75,185 569.57,182.54 570.5,180 571.3,177.64 572.5,171.25 573.63,162.49 574.25,158.75 574.79,157.26 575.75,156.25 577,153.75 577.8,158.7 578.75,162.5 580,171.25 580.93,168.95 581.5,166.25 582.05,169.21 583,172.5 583.1,180 584.4,192.5 585.6,211 586.9,221 588.1,205 589.4,210 590.6,208 591.67,209.48 592.5,210 593.73,208.13 594.4,208.75 595.13,206.16 596.25,200.6 597.5,208.75 598.75,217.5 599.92,221.08 600.6,222.5 601.9,225 602.6,231.81 603.5,240 604.37,234.72 605,232.5 605.85,229.01 606.9,226 607.62,229.44 608.75,235 610,223.75 611.25,212.5 612.5,209.4 613.75,211.25 615,205 615.76,207.38 616.9,212.5 618.1,230 619.4,222.5 620.6,221.25 621.9,230 622.63,227.48 623.75,222.5 625,216.25 626.25,210 626.9,207.87 628.1,202.5 629.4,215 630.25,223.75 630.92,219.57 631.9,216.25 633.1,209.4 634.4,221.25 635.6,235 636.9,226.25 638.1,211.25 638.75,192.5 639.3,181 640,166.25 641.26,172.65 642,177.5 643.1,176.02 643.75,173.75 644.83,175.2 645.5,177.5 646.23,169.27 647,162.5 648.1,161.75 648.75,160 650,148.75 650.94,147.96 651.75,147.5 652.43,144.89 653.25,140 654.11,135.13 655,129.5 655.69,136.39 656.75,148.75 657.3,144.68 658.25,136.25 659.15,132.82 660,131.25 661.07,145.21 661.75,155 662.7,160.09 663.75,167.5 664.5,164 665.5,157.5 666.4,158.39 667.5,161.25 668.49,157.08 669.5,153.75 670.59,148.17 671.25,146.25 672.38,154.04 673,160 674.24,168.14 675,172.5 675.72,167.28 676.75,160 678,157.5 678.65,162.37 679.5,170 680.22,167.62 681.25,165 682.38,168.62 683,168.75 683.94,172.49 684.5,176.25 685.16,173.38 686,167.5 686.55,173.55 687.5,182.5 688.27,191.31 689.25,200 689.96,202.95 691.25,206.25 692.38,204.82 693.75,205 694.63,205.36 696.25,203.75 697.14,199.82 698,197.5 698.72,205.46 699.5,212 700.23,220.69 701.25,232.5 701.93,235.65 703,242.5 704.16,245.91 705,247.5 706.25,246.25 706.97,257 708,275 708.75,273.38 710,270 711,267.59 712,266.25 712.72,264.98 713.75,262.5 714.73,258.75 715.5,254.5 716.29,257.98 717,262.5 718.25,275 719.5,272.5 720.75,280 722,281.25 723.25,305 724,318.75 725,300 726.25,298.75 727.5,302.5 728.05,303.98 729,305 729.71,304.35 730.5,302.5 731.05,296.83 732,285 732.79,284.13 733.75,281.25 734.82,279.71 735.5,278.75 736.03,280.18 737,280 737.74,279.04 738.5,276.25 739.14,276.03 740,277.5 741,245 742,215 743.05,216.18 743.75,217.5 744.45,215.2 745.5,212.5 746.56,209.99 747.5,210 748.51,208.6 749.5,207.5 750.64,210.38 751.75,215 752.88,213.64 753.75,211.25 754.82,210.06 755.5,210 756.35,213.94 757,217.5 758.01,209.25 758.75,205 759.5,198.75 760.75,212.5 761.82,215.88 762.5,216.25 763.37,218.15 764.25,220 765.27,226.45 766.25,232.5 766.87,230.95 768,225 768.83,222.15 770,220 770.76,218.45 772,217.5 773.04,213.4 773.75,212.5 774.41,209.19 775.5,202.5 776.11,197.46 777,193 777.5,187.5 778.75,180 780,157.5 780.93,151.72 781.75,146.25 783,141.25 784.25,147.5 785.14,142.92 786,137.5 786.57,140.77 787.5,143.75 788.49,151.84 789.25,160 789.93,153.21 791,142.5 791.75,135.72 792.5,130 793.75,117.5 794.43,110.02 795.5,98.75 796.09,104.35 797,112.5 798,108.75 799.25,126.25 800.31,106.7 801,95.5 801.78,104.96 802.5,112.5 803.75,106.25 804.45,110.53 805.5,115 806.45,113.15 807,112.5 807.83,115.7 808.75,117.5 809.64,116.61 810.5,116.25 811.76,106.64 812.5,100 813.29,102.76 814.25,107.5 814.93,106.22 815.75,105 816.88,112.98 817.5,116.25 818.75,122.5 820,136.25 821.09,128.43 821.75,122.5 822.66,115.39 823.25,112.5 824.5,107.5 825.26,104.81 826,100 826.95,106.49 827.5,111.25 828.75,141.25 830,120 830.71,126.28 831.5,132.5 832.19,135.44 833,138.75 833.56,137.2 834.5,135 835.25,135.73 836,138.75 836.59,134 837.5,123.75 838.37,131.36 839,135 839.81,135.07 840.5,133.75 841.42,144.67 842,150 843.25,166.25 843.88,161.19 845,151.25 845.64,155.44 846.5,160 847.15,166.58 848,175 848.94,177.64 849.5,178.75 850.24,182.52 851.25,187.5 852.5,200 853.34,195.08 854.25,187.5 855.12,184.85 856.25,182.5 857.5,197.5 858.32,183.66 859,173.75 859.79,178.15 860.5,180 861.26,171.88 862,165 862.86,171.21 863.75,177.5 865,181.75 866.25,195 866.94,190.15 868,185 868.78,186.45 870,190 870.94,187.72 872,186.25 872.74,184.2 873.75,183.75 874.65,182.64 875.5,180 876.57,173.51 877.5,167.5 878.32,173.6 879,180 879.99,172.87 880.75,167.5 881.65,169.06 882.5,170 883.36,172 884.25,175 885.5,182.5 886.75,192.5 888,190 888.63,194.83 889.5,203 890.5,218 891,232.5 892.01,238.52 893,245 894.25,255 895.5,277.5 896.75,253.75 897.67,253.24 898.5,255 899.18,260.43 900,265 901.25,253.75 902.5,262.5 903.75,267.5 905,276.25 906.25,257.5 907.5,267.5 908.75,255 910,251.25 911.25,266.25 912.5,260 913.75,253.75 915,245 915.63,239.87 916.5,232.5 917.25,240.07 918,248.75 919.25,246.25 920.5,252.5 921.75,255 923,262.5 923.97,259.59 924.5,258.75 925.37,252.11 926,248.75 927.25,256.25 928.5,241.25 929.75,243.75 931,240 932.25,232.5 933.25,229.5" fill="none" stroke="#8470d8" stroke-width="1.7" stroke-linejoin="round" stroke-linecap="round"/>
<path d="M141.43 181.85V186.89h0.61V181.85zM142 181.85V193.42h0.61V181.85zM142.56 181.85V190.74h0.61V181.85zM143.12 181.85V185.76h0.61V181.85zM179.65 181.85V183.04h0.61V181.85zM180.22 181.85V186.79h0.61V181.85zM180.78 181.85V191.01h0.61V181.85zM181.34 181.85V194.86h0.61V181.85zM181.9 181.85V197.64h0.61V181.85zM182.46 181.85V201.59h0.61V181.85zM183.03 181.85V204.54h0.61V181.85zM183.59 181.85V198.41h0.61V181.85zM184.15 181.85V194.98h0.61V181.85zM184.71 181.85V192.7h0.61V181.85zM185.28 181.85V191.58h0.61V181.85zM185.84 181.85V190.96h0.61V181.85zM186.4 181.85V190.34h0.61V181.85zM186.96 181.85V186.15h0.61V181.85zM206.07 181.85V184.93h0.61V181.85zM206.63 181.85V188.17h0.61V181.85zM207.2 181.85V192.59h0.61V181.85zM207.76 181.85V191.17h0.61V181.85zM208.32 181.85V189.12h0.61V181.85zM208.88 181.85V187.28h0.61V181.85zM209.44 181.85V185.19h0.61V181.85zM210.01 181.85V182.78h0.61V181.85zM215.63 181.85V183.28h0.61V181.85zM216.19 181.85V184.46h0.61V181.85zM216.75 181.85V183.08h0.61V181.85zM232.49 181.85V187.76h0.61V181.85zM233.05 181.85V199.4h0.61V181.85zM233.61 181.85V207.14h0.61V181.85zM234.17 181.85V211.74h0.61V181.85zM234.74 181.85V206.2h0.61V181.85zM235.3 181.85V203h0.61V181.85zM235.86 181.85V200.89h0.61V181.85zM236.42 181.85V198.19h0.61V181.85zM236.98 181.85V195.23h0.61V181.85zM237.55 181.85V193.28h0.61V181.85zM238.11 181.85V189.39h0.61V181.85zM238.67 181.85V184.78h0.61V181.85zM253.28 181.85V183.02h0.61V181.85zM253.85 181.85V184.02h0.61V181.85zM254.41 181.85V184.31h0.61V181.85zM254.97 181.85V182.82h0.61V181.85zM275.77 181.85V184.23h0.61V181.85zM276.33 181.85V201.17h0.61V181.85zM276.89 181.85V207.97h0.61V181.85zM277.45 181.85V209.97h0.61V181.85zM278.01 181.85V211.89h0.61V181.85zM278.58 181.85V217.2h0.61V181.85zM279.14 181.85V219.75h0.61V181.85zM279.7 181.85V222.32h0.61V181.85zM280.26 181.85V224.98h0.61V181.85zM280.83 181.85V230.58h0.61V181.85zM281.39 181.85V233.5h0.61V181.85zM281.95 181.85V225.18h0.61V181.85zM282.51 181.85V217.96h0.61V181.85zM283.07 181.85V214.08h0.61V181.85zM283.64 181.85V210.29h0.61V181.85zM284.2 181.85V206.16h0.61V181.85zM284.76 181.85V203.67h0.61V181.85zM285.32 181.85V205.11h0.61V181.85zM285.88 181.85V206.49h0.61V181.85zM286.45 181.85V210.39h0.61V181.85zM287.01 181.85V212.09h0.61V181.85zM287.57 181.85V214.4h0.61V181.85zM288.13 181.85V216.03h0.61V181.85zM288.69 181.85V216.37h0.61V181.85zM289.26 181.85V213.55h0.61V181.85zM289.82 181.85V212.53h0.61V181.85zM290.38 181.85V213.27h0.61V181.85zM290.94 181.85V214.27h0.61V181.85zM291.5 181.85V215.95h0.61V181.85zM292.07 181.85V219.54h0.61V181.85zM292.63 181.85V209.74h0.61V181.85zM293.19 181.85V206.8h0.61V181.85zM293.75 181.85V207.01h0.61V181.85zM294.31 181.85V206.26h0.61V181.85zM294.88 181.85V211.89h0.61V181.85zM295.44 181.85V215.52h0.61V181.85zM296 181.85V211.79h0.61V181.85zM296.56 181.85V207.41h0.61V181.85zM297.12 181.85V210.33h0.61V181.85zM297.69 181.85V213.76h0.61V181.85zM298.25 181.85V210.79h0.61V181.85zM298.81 181.85V207.21h0.61V181.85zM299.37 181.85V203.35h0.61V181.85zM299.94 181.85V199.77h0.61V181.85zM300.5 181.85V195.78h0.61V181.85zM301.06 181.85V192.2h0.61V181.85zM301.62 181.85V188.5h0.61V181.85zM302.18 181.85V185.38h0.61V181.85zM302.75 181.85V182.85h0.61V181.85zM303.31 181.85V182.49h0.61V181.85zM303.87 181.85V184.01h0.61V181.85zM304.43 181.85V186.22h0.61V181.85zM304.99 181.85V193.99h0.61V181.85zM305.56 181.85V185.02h0.61V181.85zM313.42 181.85V186.16h0.61V181.85zM319.61 181.85V189.72h0.61V181.85zM320.17 181.85V193.27h0.61V181.85zM320.73 181.85V195.96h0.61V181.85zM321.29 181.85V195.87h0.61V181.85zM321.86 181.85V195.38h0.61V181.85zM322.42 181.85V194.87h0.61V181.85zM322.98 181.85V195.89h0.61V181.85zM323.54 181.85V197.57h0.61V181.85zM324.1 181.85V204.7h0.61V181.85zM324.67 181.85V195.43h0.61V181.85zM325.23 181.85V194.02h0.61V181.85zM325.79 181.85V192.82h0.61V181.85zM326.35 181.85V191.45h0.61V181.85zM326.91 181.85V190.52h0.61V181.85zM327.48 181.85V190.06h0.61V181.85zM328.04 181.85V197.18h0.61V181.85zM328.6 181.85V203.46h0.61V181.85zM329.16 181.85V212.75h0.61V181.85zM329.72 181.85V220.71h0.61V181.85zM330.29 181.85V226.84h0.61V181.85zM330.85 181.85V220.11h0.61V181.85zM331.41 181.85V211.09h0.61V181.85zM331.97 181.85V199.63h0.61V181.85zM332.53 181.85V194.26h0.61V181.85zM333.1 181.85V192.22h0.61V181.85zM333.66 181.85V190.86h0.61V181.85zM334.22 181.85V190.46h0.61V181.85zM334.78 181.85V190.07h0.61V181.85zM335.34 181.85V188.88h0.61V181.85zM335.91 181.85V187.42h0.61V181.85zM336.47 181.85V188.85h0.61V181.85zM337.03 181.85V190.91h0.61V181.85zM337.59 181.85V191.76h0.61V181.85zM338.16 181.85V192.63h0.61V181.85zM338.72 181.85V187.51h0.61V181.85zM339.28 181.85V183.21h0.61V181.85zM340.97 181.85V182.5h0.61V181.85zM341.53 181.85V192.45h0.61V181.85zM342.09 181.85V187.01h0.61V181.85zM342.65 181.85V185.48h0.61V181.85zM343.21 181.85V183.77h0.61V181.85zM343.78 181.85V184.57h0.61V181.85zM344.34 181.85V186.14h0.61V181.85zM344.9 181.85V184.07h0.61V181.85zM346.59 181.85V185.92h0.61V181.85zM347.15 181.85V189.16h0.61V181.85zM347.71 181.85V191.91h0.61V181.85zM348.27 181.85V194.12h0.61V181.85zM348.83 181.85V196.45h0.61V181.85zM349.4 181.85V200.27h0.61V181.85zM349.96 181.85V202.21h0.61V181.85zM350.52 181.85V199.69h0.61V181.85zM351.08 181.85V198.78h0.61V181.85zM351.64 181.85V203.41h0.61V181.85zM352.21 181.85V200.85h0.61V181.85zM352.77 181.85V198.41h0.61V181.85zM353.33 181.85V199.73h0.61V181.85zM353.89 181.85V201.49h0.61V181.85zM354.45 181.85V202.96h0.61V181.85zM355.02 181.85V204.11h0.61V181.85zM355.58 181.85V205.61h0.61V181.85zM356.14 181.85V205.49h0.61V181.85zM356.7 181.85V207.04h0.61V181.85zM357.27 181.85V211.32h0.61V181.85zM357.83 181.85V208.3h0.61V181.85zM358.39 181.85V204.76h0.61V181.85zM358.95 181.85V203.7h0.61V181.85zM359.51 181.85V202.3h0.61V181.85zM360.08 181.85V202.43h0.61V181.85zM360.64 181.85V201.64h0.61V181.85zM361.2 181.85V200.89h0.61V181.85zM361.76 181.85V202.57h0.61V181.85zM362.32 181.85V204.12h0.61V181.85zM362.89 181.85V203.87h0.61V181.85zM363.45 181.85V202.05h0.61V181.85zM364.01 181.85V198.68h0.61V181.85zM364.57 181.85V199.22h0.61V181.85zM365.13 181.85V200.36h0.61V181.85zM365.7 181.85V198.8h0.61V181.85zM366.26 181.85V197.3h0.61V181.85zM366.82 181.85V196.41h0.61V181.85zM367.38 181.85V199.12h0.61V181.85zM367.94 181.85V200.01h0.61V181.85zM368.51 181.85V201.39h0.61V181.85zM369.07 181.85V202.07h0.61V181.85zM369.63 181.85V202.58h0.61V181.85zM370.19 181.85V202.98h0.61V181.85zM370.75 181.85V202.29h0.61V181.85zM371.32 181.85V201.15h0.61V181.85zM371.88 181.85V200.82h0.61V181.85zM372.44 181.85V201.58h0.61V181.85zM373 181.85V202.8h0.61V181.85zM373.56 181.85V201.12h0.61V181.85zM374.13 181.85V200.21h0.61V181.85zM374.69 181.85V199.58h0.61V181.85zM375.25 181.85V199.83h0.61V181.85zM375.81 181.85V198.08h0.61V181.85zM376.38 181.85V195.13h0.61V181.85zM376.94 181.85V195.16h0.61V181.85zM377.5 181.85V195.7h0.61V181.85zM378.06 181.85V196.53h0.61V181.85zM378.62 181.85V197.76h0.61V181.85zM379.19 181.85V198.97h0.61V181.85zM379.75 181.85V204.18h0.61V181.85zM380.31 181.85V207.14h0.61V181.85zM380.87 181.85V200.25h0.61V181.85zM381.43 181.85V198.98h0.61V181.85zM382 181.85V198.26h0.61V181.85zM382.56 181.85V197.69h0.61V181.85zM383.12 181.85V198.11h0.61V181.85zM383.68 181.85V197.32h0.61V181.85zM384.24 181.85V200.44h0.61V181.85zM384.81 181.85V202.56h0.61V181.85zM385.37 181.85V207.51h0.61V181.85zM385.93 181.85V212.14h0.61V181.85zM386.49 181.85V214.08h0.61V181.85zM387.05 181.85V215.15h0.61V181.85zM387.62 181.85V217.26h0.61V181.85zM388.18 181.85V217.57h0.61V181.85zM388.74 181.85V218.87h0.61V181.85zM389.3 181.85V216.43h0.61V181.85zM389.86 181.85V215.61h0.61V181.85zM390.43 181.85V213.24h0.61V181.85zM390.99 181.85V211.56h0.61V181.85zM391.55 181.85V210.42h0.61V181.85zM392.11 181.85V208.32h0.61V181.85zM392.67 181.85V209.35h0.61V181.85zM393.24 181.85V209.82h0.61V181.85zM393.8 181.85V211.09h0.61V181.85zM394.36 181.85V212.07h0.61V181.85zM394.92 181.85V212.9h0.61V181.85zM395.49 181.85V211.63h0.61V181.85zM396.05 181.85V209.66h0.61V181.85zM396.61 181.85V208.44h0.61V181.85zM397.17 181.85V208.34h0.61V181.85zM397.73 181.85V204.95h0.61V181.85zM398.3 181.85V203.02h0.61V181.85zM398.86 181.85V197.25h0.61V181.85zM399.42 181.85V191.23h0.61V181.85zM399.98 181.85V188.05h0.61V181.85zM400.54 181.85V184.62h0.61V181.85zM405.04 181.85V183.88h0.61V181.85zM405.6 181.85V186.15h0.61V181.85zM406.16 181.85V187.96h0.61V181.85zM406.73 181.85V188.88h0.61V181.85zM407.29 181.85V186.38h0.61V181.85zM407.85 181.85V184.6h0.61V181.85zM408.41 181.85V182.84h0.61V181.85zM415.72 181.85V183.43h0.61V181.85zM416.28 181.85V185.82h0.61V181.85zM416.84 181.85V187.73h0.61V181.85zM417.41 181.85V188.85h0.61V181.85zM417.97 181.85V186.51h0.61V181.85zM418.53 181.85V184.62h0.61V181.85zM424.15 181.85V184.75h0.61V181.85zM424.71 181.85V186.54h0.61V181.85zM425.27 181.85V188.01h0.61V181.85zM425.84 181.85V189.57h0.61V181.85zM426.4 181.85V190.42h0.61V181.85zM426.96 181.85V191.09h0.61V181.85zM427.52 181.85V191.71h0.61V181.85zM428.08 181.85V192.19h0.61V181.85zM428.65 181.85V192.59h0.61V181.85zM429.21 181.85V191.08h0.61V181.85zM429.77 181.85V190.25h0.61V181.85zM430.33 181.85V189.53h0.61V181.85zM430.89 181.85V188.96h0.61V181.85zM431.46 181.85V186.86h0.61V181.85zM432.02 181.85V184.8h0.61V181.85zM433.71 181.85V184.45h0.61V181.85zM434.27 181.85V190.48h0.61V181.85zM434.83 181.85V197.79h0.61V181.85zM435.39 181.85V204.48h0.61V181.85zM435.95 181.85V210.14h0.61V181.85zM436.52 181.85V216.84h0.61V181.85zM437.08 181.85V220.52h0.61V181.85zM437.64 181.85V221.14h0.61V181.85zM438.2 181.85V221.92h0.61V181.85zM438.76 181.85V220.81h0.61V181.85zM439.33 181.85V222.38h0.61V181.85zM439.89 181.85V220.39h0.61V181.85zM440.45 181.85V221.72h0.61V181.85zM441.01 181.85V221.12h0.61V181.85zM441.57 181.85V218.53h0.61V181.85zM442.14 181.85V219.23h0.61V181.85zM442.7 181.85V219.79h0.61V181.85zM443.26 181.85V219.79h0.61V181.85zM443.82 181.85V219.14h0.61V181.85zM444.38 181.85V219.53h0.61V181.85zM444.95 181.85V220.18h0.61V181.85zM445.51 181.85V222.49h0.61V181.85zM446.07 181.85V221.09h0.61V181.85zM446.63 181.85V222.33h0.61V181.85zM447.19 181.85V221.63h0.61V181.85zM447.76 181.85V221.21h0.61V181.85zM448.32 181.85V220.78h0.61V181.85zM448.88 181.85V217.54h0.61V181.85zM449.44 181.85V217.7h0.61V181.85zM450 181.85V215.83h0.61V181.85zM450.57 181.85V215.37h0.61V181.85zM451.13 181.85V214.14h0.61V181.85zM451.69 181.85V214.25h0.61V181.85zM452.25 181.85V216.39h0.61V181.85zM452.82 181.85V216.34h0.61V181.85zM453.38 181.85V216.07h0.61V181.85zM453.94 181.85V216.71h0.61V181.85zM454.5 181.85V218.46h0.61V181.85zM455.06 181.85V219.29h0.61V181.85zM455.63 181.85V219.99h0.61V181.85zM456.19 181.85V220.65h0.61V181.85zM456.75 181.85V222.16h0.61V181.85zM457.31 181.85V222.89h0.61V181.85zM457.87 181.85V225.01h0.61V181.85zM458.44 181.85V223.66h0.61V181.85zM459 181.85V226.72h0.61V181.85zM459.56 181.85V228.1h0.61V181.85zM460.12 181.85V227.25h0.61V181.85zM460.68 181.85V230.65h0.61V181.85zM461.25 181.85V232.02h0.61V181.85zM461.81 181.85V235.46h0.61V181.85zM462.37 181.85V236.97h0.61V181.85zM462.93 181.85V241.32h0.61V181.85zM463.49 181.85V246h0.61V181.85zM464.06 181.85V253.33h0.61V181.85zM464.62 181.85V248.27h0.61V181.85zM465.18 181.85V243.16h0.61V181.85zM465.74 181.85V239.91h0.61V181.85zM466.3 181.85V236.99h0.61V181.85zM466.87 181.85V234.59h0.61V181.85zM467.43 181.85V233.32h0.61V181.85zM467.99 181.85V234.49h0.61V181.85zM468.55 181.85V231.85h0.61V181.85zM469.11 181.85V234.58h0.61V181.85zM469.68 181.85V233.1h0.61V181.85zM470.24 181.85V233.78h0.61V181.85zM470.8 181.85V235.21h0.61V181.85zM471.36 181.85V234.83h0.61V181.85zM471.93 181.85V236.04h0.61V181.85zM472.49 181.85V238.53h0.61V181.85zM473.05 181.85V238.87h0.61V181.85zM473.61 181.85V239.2h0.61V181.85zM474.17 181.85V239.15h0.61V181.85zM474.74 181.85V240.69h0.61V181.85zM475.3 181.85V241.36h0.61V181.85zM475.86 181.85V240.56h0.61V181.85zM476.42 181.85V241.73h0.61V181.85zM476.98 181.85V239.64h0.61V181.85zM477.55 181.85V234.46h0.61V181.85zM478.11 181.85V224.65h0.61V181.85zM478.67 181.85V224.97h0.61V181.85zM479.23 181.85V224.25h0.61V181.85zM479.79 181.85V222.92h0.61V181.85zM480.36 181.85V222h0.61V181.85zM480.92 181.85V223.83h0.61V181.85zM481.48 181.85V221.54h0.61V181.85zM482.04 181.85V222.04h0.61V181.85zM482.6 181.85V221.01h0.61V181.85zM483.17 181.85V220.02h0.61V181.85zM483.73 181.85V218.77h0.61V181.85zM484.29 181.85V215.38h0.61V181.85zM484.85 181.85V210.24h0.61V181.85zM485.41 181.85V207.1h0.61V181.85zM485.98 181.85V202.92h0.61V181.85zM486.54 181.85V199.54h0.61V181.85zM487.1 181.85V195.69h0.61V181.85zM487.66 181.85V193h0.61V181.85zM488.22 181.85V190.79h0.61V181.85zM488.79 181.85V188.61h0.61V181.85zM489.35 181.85V186.59h0.61V181.85zM489.91 181.85V184.76h0.61V181.85zM490.47 181.85V184.01h0.61V181.85zM491.04 181.85V183.38h0.61V181.85zM491.6 181.85V182.66h0.61V181.85zM495.53 181.85V187.2h0.61V181.85zM496.09 181.85V194.68h0.61V181.85zM496.66 181.85V199.22h0.61V181.85zM497.22 181.85V203.09h0.61V181.85zM497.78 181.85V207.34h0.61V181.85zM498.34 181.85V218.39h0.61V181.85zM498.9 181.85V224.65h0.61V181.85zM499.47 181.85V229.38h0.61V181.85zM500.03 181.85V235.23h0.61V181.85zM500.59 181.85V239.44h0.61V181.85zM501.15 181.85V241.72h0.61V181.85zM501.71 181.85V244.36h0.61V181.85zM502.28 181.85V246.12h0.61V181.85zM502.84 181.85V250.44h0.61V181.85zM503.4 181.85V257.32h0.61V181.85zM503.96 181.85V258.19h0.61V181.85zM504.52 181.85V265.57h0.61V181.85zM505.09 181.85V271.87h0.61V181.85zM505.65 181.85V278.87h0.61V181.85zM506.21 181.85V280.7h0.61V181.85zM506.77 181.85V287.58h0.61V181.85zM507.33 181.85V295.2h0.61V181.85zM507.9 181.85V305.55h0.61V181.85zM508.46 181.85V318.31h0.61V181.85zM509.02 181.85V318.86h0.61V181.85zM509.58 181.85V311.51h0.61V181.85zM510.15 181.85V305.95h0.61V181.85zM510.71 181.85V295.48h0.61V181.85zM511.27 181.85V291.58h0.61V181.85zM511.83 181.85V293.32h0.61V181.85zM512.39 181.85V290.33h0.61V181.85zM512.96 181.85V280.63h0.61V181.85zM513.52 181.85V275h0.61V181.85zM514.08 181.85V267.36h0.61V181.85zM514.64 181.85V282.79h0.61V181.85zM515.2 181.85V301.74h0.61V181.85zM515.77 181.85V296.11h0.61V181.85zM516.33 181.85V286.99h0.61V181.85zM516.89 181.85V279.58h0.61V181.85zM517.45 181.85V270.56h0.61V181.85zM518.01 181.85V268.43h0.61V181.85zM518.58 181.85V268.17h0.61V181.85zM519.14 181.85V272.94h0.61V181.85zM519.7 181.85V283.28h0.61V181.85zM520.26 181.85V292.6h0.61V181.85zM520.82 181.85V294.69h0.61V181.85zM521.39 181.85V295.33h0.61V181.85zM521.95 181.85V297.38h0.61V181.85zM522.51 181.85V296.68h0.61V181.85zM523.07 181.85V299.19h0.61V181.85zM523.63 181.85V297.64h0.61V181.85zM524.2 181.85V305.09h0.61V181.85zM524.76 181.85V303.17h0.61V181.85zM525.32 181.85V310.42h0.61V181.85zM525.88 181.85V310.27h0.61V181.85zM526.44 181.85V309.73h0.61V181.85zM527.01 181.85V303.78h0.61V181.85zM527.57 181.85V295.71h0.61V181.85zM528.13 181.85V289h0.61V181.85zM528.69 181.85V282.56h0.61V181.85zM529.26 181.85V276.32h0.61V181.85zM529.82 181.85V273.9h0.61V181.85zM530.38 181.85V275.14h0.61V181.85zM530.94 181.85V282.72h0.61V181.85zM531.5 181.85V286.43h0.61V181.85zM532.07 181.85V290.66h0.61V181.85zM532.63 181.85V289.06h0.61V181.85zM533.19 181.85V279.83h0.61V181.85zM533.75 181.85V276.04h0.61V181.85zM534.31 181.85V271.22h0.61V181.85zM534.88 181.85V267.4h0.61V181.85zM535.44 181.85V259.36h0.61V181.85zM536 181.85V253.89h0.61V181.85zM536.56 181.85V247.95h0.61V181.85zM537.12 181.85V243.23h0.61V181.85zM537.69 181.85V240.51h0.61V181.85zM538.25 181.85V236.55h0.61V181.85zM538.81 181.85V231.49h0.61V181.85zM539.37 181.85V227.69h0.61V181.85zM539.93 181.85V224.31h0.61V181.85zM540.5 181.85V221.87h0.61V181.85zM541.06 181.85V216.28h0.61V181.85zM541.62 181.85V209.86h0.61V181.85zM542.18 181.85V207.64h0.61V181.85zM542.74 181.85V206.29h0.61V181.85zM543.31 181.85V204.64h0.61V181.85zM543.87 181.85V201.77h0.61V181.85zM544.43 181.85V199.62h0.61V181.85zM544.99 181.85V192.4h0.61V181.85zM545.56 181.85V199.68h0.61V181.85zM546.12 181.85V204.96h0.61V181.85zM546.68 181.85V207.38h0.61V181.85zM547.24 181.85V211.52h0.61V181.85zM547.8 181.85V207.86h0.61V181.85zM548.37 181.85V204.27h0.61V181.85zM548.93 181.85V201.11h0.61V181.85zM549.49 181.85V199.25h0.61V181.85zM550.05 181.85V194.85h0.61V181.85zM550.61 181.85V198.72h0.61V181.85zM551.18 181.85V204.82h0.61V181.85zM551.74 181.85V211h0.61V181.85zM552.3 181.85V214.34h0.61V181.85zM552.86 181.85V215.87h0.61V181.85zM553.42 181.85V221.23h0.61V181.85zM553.99 181.85V224.07h0.61V181.85zM554.55 181.85V226.82h0.61V181.85zM555.11 181.85V230.37h0.61V181.85zM555.67 181.85V238.33h0.61V181.85zM556.23 181.85V244.36h0.61V181.85zM556.8 181.85V242.38h0.61V181.85zM557.36 181.85V237.58h0.61V181.85zM557.92 181.85V237.14h0.61V181.85zM558.48 181.85V240.76h0.61V181.85zM559.04 181.85V246.75h0.61V181.85zM559.61 181.85V246.69h0.61V181.85zM560.17 181.85V247.61h0.61V181.85zM560.73 181.85V248.46h0.61V181.85zM561.29 181.85V250.67h0.61V181.85zM561.85 181.85V253.63h0.61V181.85zM562.42 181.85V254.53h0.61V181.85zM562.98 181.85V255.03h0.61V181.85zM563.54 181.85V257.33h0.61V181.85zM564.1 181.85V258.2h0.61V181.85zM564.67 181.85V256.72h0.61V181.85zM565.23 181.85V252.58h0.61V181.85zM565.79 181.85V250.5h0.61V181.85zM566.35 181.85V256.11h0.61V181.85zM566.91 181.85V261.95h0.61V181.85zM567.48 181.85V278.44h0.61V181.85zM568.04 181.85V273.12h0.61V181.85zM568.6 181.85V266.58h0.61V181.85zM569.16 181.85V259.87h0.61V181.85zM569.72 181.85V256.33h0.61V181.85zM570.29 181.85V253.23h0.61V181.85zM570.85 181.85V252.08h0.61V181.85zM571.41 181.85V249.25h0.61V181.85zM571.97 181.85V248.25h0.61V181.85zM572.53 181.85V241.73h0.61V181.85zM573.1 181.85V241.35h0.61V181.85zM573.66 181.85V235.2h0.61V181.85zM574.22 181.85V231.7h0.61V181.85zM574.78 181.85V229.01h0.61V181.85zM575.34 181.85V225.83h0.61V181.85zM575.91 181.85V227.39h0.61V181.85zM576.47 181.85V228.39h0.61V181.85zM577.03 181.85V231.71h0.61V181.85zM577.59 181.85V235.29h0.61V181.85zM578.15 181.85V242h0.61V181.85zM578.72 181.85V244.17h0.61V181.85zM579.28 181.85V247.99h0.61V181.85zM579.84 181.85V252.04h0.61V181.85zM580.4 181.85V250.51h0.61V181.85zM580.96 181.85V242.26h0.61V181.85zM581.53 181.85V228.35h0.61V181.85zM582.09 181.85V230.91h0.61V181.85zM582.65 181.85V232.72h0.61V181.85zM583.21 181.85V236.6h0.61V181.85zM583.78 181.85V243.84h0.61V181.85zM584.34 181.85V257.49h0.61V181.85zM584.9 181.85V264.17h0.61V181.85zM585.46 181.85V275.75h0.61V181.85zM586.02 181.85V285.03h0.61V181.85zM586.59 181.85V282.84h0.61V181.85zM587.15 181.85V283.62h0.61V181.85zM587.71 181.85V289.12h0.61V181.85zM588.27 181.85V285.59h0.61V181.85zM588.83 181.85V282.01h0.61V181.85zM589.4 181.85V283.81h0.61V181.85zM589.96 181.85V287.24h0.61V181.85zM590.52 181.85V291.01h0.61V181.85zM591.08 181.85V282.41h0.61V181.85zM591.64 181.85V280.56h0.61V181.85zM592.21 181.85V274.92h0.61V181.85zM592.77 181.85V271.15h0.61V181.85zM593.33 181.85V270.63h0.61V181.85zM593.89 181.85V263.82h0.61V181.85zM594.45 181.85V262.35h0.61V181.85zM595.02 181.85V260.33h0.61V181.85zM595.58 181.85V259.3h0.61V181.85zM596.14 181.85V255.3h0.61V181.85zM596.7 181.85V247.49h0.61V181.85zM597.26 181.85V241.62h0.61V181.85zM597.83 181.85V215.84h0.61V181.85zM598.39 181.85V215.11h0.61V181.85zM598.95 181.85V214.83h0.61V181.85zM599.51 181.85V215.64h0.61V181.85zM600.07 181.85V220.26h0.61V181.85zM600.64 181.85V222.07h0.61V181.85zM601.2 181.85V223.17h0.61V181.85zM601.76 181.85V223.95h0.61V181.85zM602.32 181.85V224.46h0.61V181.85zM602.89 181.85V224.78h0.61V181.85zM603.45 181.85V225.78h0.61V181.85zM604.01 181.85V227.12h0.61V181.85zM604.57 181.85V227.63h0.61V181.85zM605.13 181.85V224.96h0.61V181.85zM605.7 181.85V224.5h0.61V181.85zM606.26 181.85V225.15h0.61V181.85zM606.82 181.85V223.2h0.61V181.85zM607.38 181.85V222.3h0.61V181.85zM607.94 181.85V221.78h0.61V181.85zM608.51 181.85V222.52h0.61V181.85zM609.07 181.85V220.3h0.61V181.85zM609.63 181.85V220.09h0.61V181.85zM610.19 181.85V217.18h0.61V181.85zM610.75 181.85V214.5h0.61V181.85zM611.32 181.85V211.37h0.61V181.85zM611.88 181.85V209.94h0.61V181.85zM612.44 181.85V208.85h0.61V181.85zM613 181.85V208.75h0.61V181.85zM613.56 181.85V210.58h0.61V181.85zM614.13 181.85V211.24h0.61V181.85zM614.69 181.85V212.01h0.61V181.85zM615.25 181.85V211.65h0.61V181.85zM615.81 181.85V211.27h0.61V181.85zM616.37 181.85V210.29h0.61V181.85zM616.94 181.85V210.85h0.61V181.85zM617.5 181.85V211.8h0.61V181.85zM618.06 181.85V212.25h0.61V181.85zM618.62 181.85V211.8h0.61V181.85zM619.18 181.85V212.38h0.61V181.85zM619.75 181.85V210.82h0.61V181.85zM620.31 181.85V210.72h0.61V181.85zM620.87 181.85V211.29h0.61V181.85zM621.43 181.85V212.88h0.61V181.85zM622 181.85V213.17h0.61V181.85zM622.56 181.85V212.61h0.61V181.85zM623.12 181.85V211.51h0.61V181.85zM623.68 181.85V210.26h0.61V181.85zM624.24 181.85V210.65h0.61V181.85zM624.81 181.85V210.6h0.61V181.85zM625.37 181.85V210.54h0.61V181.85zM625.93 181.85V211.04h0.61V181.85zM626.49 181.85V212.85h0.61V181.85zM627.05 181.85V212.73h0.61V181.85zM627.62 181.85V212.97h0.61V181.85zM628.18 181.85V216.8h0.61V181.85zM628.74 181.85V220.3h0.61V181.85zM629.3 181.85V225.08h0.61V181.85zM629.86 181.85V227.63h0.61V181.85zM630.43 181.85V226.6h0.61V181.85zM630.99 181.85V224.93h0.61V181.85zM631.55 181.85V222.06h0.61V181.85zM632.11 181.85V223.6h0.61V181.85zM632.67 181.85V222.94h0.61V181.85zM633.24 181.85V225.08h0.61V181.85zM633.8 181.85V227.49h0.61V181.85zM634.36 181.85V231.55h0.61V181.85zM634.92 181.85V237.29h0.61V181.85zM635.48 181.85V239.03h0.61V181.85zM636.05 181.85V239.1h0.61V181.85zM636.61 181.85V235.37h0.61V181.85zM637.17 181.85V234.89h0.61V181.85zM637.73 181.85V236.15h0.61V181.85zM638.29 181.85V238.3h0.61V181.85zM638.86 181.85V243.49h0.61V181.85zM639.42 181.85V247.8h0.61V181.85zM639.98 181.85V249.3h0.61V181.85zM640.54 181.85V257.66h0.61V181.85zM641.11 181.85V264.83h0.61V181.85zM641.67 181.85V271.9h0.61V181.85zM642.23 181.85V281.8h0.61V181.85zM642.79 181.85V285.37h0.61V181.85zM643.35 181.85V290.74h0.61V181.85zM643.92 181.85V296.06h0.61V181.85zM644.48 181.85V303.55h0.61V181.85zM645.04 181.85V308.71h0.61V181.85zM645.6 181.85V309.74h0.61V181.85zM646.16 181.85V314.42h0.61V181.85zM646.73 181.85V326.8h0.61V181.85zM647.29 181.85V339.2h0.61V181.85zM647.85 181.85V338.87h0.61V181.85zM648.41 181.85V344.39h0.61V181.85zM648.97 181.85V347.6h0.61V181.85zM649.54 181.85V358.75h0.61V181.85zM650.1 181.85V361.81h0.61V181.85zM650.66 181.85V362.06h0.61V181.85zM651.22 181.85V370.44h0.61V181.85zM651.78 181.85V385.02h0.61V181.85zM652.35 181.85V402.54h0.61V181.85zM652.91 181.85V426.37h0.61V181.85zM653.47 181.85V425.2h0.61V181.85zM654.03 181.85V432.34h0.61V181.85zM654.59 181.85V435.44h0.61V181.85zM655.16 181.85V437.67h0.61V181.85zM655.72 181.85V444.04h0.61V181.85zM656.28 181.85V459.26h0.61V181.85zM656.84 181.85V463.73h0.61V181.85zM657.4 181.85V443.31h0.61V181.85zM657.97 181.85V438.54h0.61V181.85zM658.53 181.85V429.76h0.61V181.85zM659.09 181.85V423.78h0.61V181.85zM659.65 181.85V441.4h0.61V181.85zM660.22 181.85V457.89h0.61V181.85zM660.78 181.85V457.04h0.61V181.85zM661.34 181.85V461.64h0.61V181.85zM661.9 181.85V475.21h0.61V181.85zM662.46 181.85V455.14h0.61V181.85zM663.03 181.85V441.67h0.61V181.85zM663.59 181.85V452.03h0.61V181.85zM664.15 181.85V440.55h0.61V181.85zM664.71 181.85V435.29h0.61V181.85zM665.27 181.85V416.93h0.61V181.85zM665.84 181.85V412.73h0.61V181.85zM666.4 181.85V397.15h0.61V181.85zM666.96 181.85V382.55h0.61V181.85zM667.52 181.85V368.73h0.61V181.85zM668.08 181.85V366.92h0.61V181.85zM668.65 181.85V362.24h0.61V181.85zM669.21 181.85V352.84h0.61V181.85zM669.77 181.85V323.35h0.61V181.85zM670.33 181.85V300.11h0.61V181.85zM670.89 181.85V294.12h0.61V181.85zM671.46 181.85V304.78h0.61V181.85zM672.02 181.85V309.96h0.61V181.85zM672.58 181.85V316.11h0.61V181.85zM673.14 181.85V323.19h0.61V181.85zM673.7 181.85V329.68h0.61V181.85zM674.27 181.85V308.44h0.61V181.85zM674.83 181.85V305.28h0.61V181.85zM675.39 181.85V298.19h0.61V181.85zM675.95 181.85V258.59h0.61V181.85zM676.51 181.85V258.5h0.61V181.85zM677.08 181.85V262.92h0.61V181.85zM677.64 181.85V273.99h0.61V181.85zM678.2 181.85V281.66h0.61V181.85zM678.76 181.85V284.92h0.61V181.85zM679.33 181.85V287.69h0.61V181.85zM679.89 181.85V296.68h0.61V181.85zM680.45 181.85V296.26h0.61V181.85zM681.01 181.85V303.15h0.61V181.85zM681.57 181.85V304.91h0.61V181.85zM682.14 181.85V310.23h0.61V181.85zM682.7 181.85V308.88h0.61V181.85zM683.26 181.85V318.42h0.61V181.85zM683.82 181.85V329.08h0.61V181.85zM684.38 181.85V341.58h0.61V181.85zM684.95 181.85V344.78h0.61V181.85zM685.51 181.85V343.8h0.61V181.85zM686.07 181.85V336.99h0.61V181.85zM686.63 181.85V347.75h0.61V181.85zM687.19 181.85V358.53h0.61V181.85zM687.76 181.85V365.03h0.61V181.85zM688.32 181.85V369.93h0.61V181.85zM688.88 181.85V363.35h0.61V181.85zM689.44 181.85V359.75h0.61V181.85zM690 181.85V359.93h0.61V181.85zM690.57 181.85V356.81h0.61V181.85zM691.13 181.85V343.35h0.61V181.85zM691.69 181.85V343.02h0.61V181.85zM692.25 181.85V338.24h0.61V181.85zM692.81 181.85V325.22h0.61V181.85zM693.38 181.85V326.3h0.61V181.85zM693.94 181.85V314.69h0.61V181.85zM694.5 181.85V313.37h0.61V181.85zM695.06 181.85V308.15h0.61V181.85zM695.62 181.85V303.87h0.61V181.85zM696.19 181.85V298.01h0.61V181.85zM696.75 181.85V297.22h0.61V181.85zM697.31 181.85V296.73h0.61V181.85zM697.87 181.85V294.5h0.61V181.85zM698.44 181.85V300.3h0.61V181.85zM699 181.85V303.36h0.61V181.85zM699.56 181.85V294.15h0.61V181.85zM700.12 181.85V276.6h0.61V181.85zM700.68 181.85V263.43h0.61V181.85zM701.25 181.85V244.7h0.61V181.85zM701.81 181.85V239.08h0.61V181.85zM702.37 181.85V242.81h0.61V181.85zM702.93 181.85V244.5h0.61V181.85zM703.49 181.85V244.91h0.61V181.85zM704.06 181.85V245.43h0.61V181.85zM704.62 181.85V248.18h0.61V181.85zM705.18 181.85V248.28h0.61V181.85zM705.74 181.85V254.87h0.61V181.85zM706.3 181.85V263.22h0.61V181.85zM706.87 181.85V268.41h0.61V181.85zM707.43 181.85V274.68h0.61V181.85zM707.99 181.85V273.13h0.61V181.85zM708.55 181.85V269.19h0.61V181.85zM709.11 181.85V270.99h0.61V181.85zM709.68 181.85V266.52h0.61V181.85zM710.24 181.85V268.28h0.61V181.85zM710.8 181.85V266.87h0.61V181.85zM711.36 181.85V263.37h0.61V181.85zM711.92 181.85V258.79h0.61V181.85zM712.49 181.85V258.51h0.61V181.85zM713.05 181.85V254.55h0.61V181.85zM713.61 181.85V251.34h0.61V181.85zM714.17 181.85V238.35h0.61V181.85zM714.73 181.85V231h0.61V181.85zM715.3 181.85V230.19h0.61V181.85zM715.86 181.85V228.26h0.61V181.85zM716.42 181.85V227.3h0.61V181.85zM716.98 181.85V224.48h0.61V181.85zM717.55 181.85V225.33h0.61V181.85zM718.11 181.85V220.2h0.61V181.85zM718.67 181.85V216.01h0.61V181.85zM719.23 181.85V210.91h0.61V181.85zM719.79 181.85V205.75h0.61V181.85zM720.36 181.85V199.5h0.61V181.85zM720.92 181.85V194.06h0.61V181.85zM721.48 181.85V198.58h0.61V181.85zM722.04 181.85V202.69h0.61V181.85zM722.6 181.85V207.89h0.61V181.85zM723.17 181.85V206.15h0.61V181.85zM723.73 181.85V206.17h0.61V181.85zM724.29 181.85V204.25h0.61V181.85zM724.85 181.85V204.16h0.61V181.85zM725.41 181.85V204.09h0.61V181.85zM725.98 181.85V205.24h0.61V181.85zM726.54 181.85V206.51h0.61V181.85zM727.1 181.85V206.34h0.61V181.85zM727.66 181.85V207.32h0.61V181.85zM728.22 181.85V208.61h0.61V181.85zM728.79 181.85V209.1h0.61V181.85zM729.35 181.85V206.95h0.61V181.85zM729.91 181.85V205.66h0.61V181.85zM730.47 181.85V203.49h0.61V181.85zM731.03 181.85V200.52h0.61V181.85zM731.6 181.85V196.31h0.61V181.85zM732.16 181.85V185.29h0.61V181.85zM733.84 181.85V196.75h0.61V181.85zM734.41 181.85V198.36h0.61V181.85zM734.97 181.85V200.03h0.61V181.85zM735.53 181.85V198.51h0.61V181.85zM736.09 181.85V195.15h0.61V181.85zM736.66 181.85V185.22h0.61V181.85zM738.34 181.85V186.29h0.61V181.85zM738.9 181.85V191.18h0.61V181.85zM739.47 181.85V199.25h0.61V181.85zM740.03 181.85V193.15h0.61V181.85zM740.59 181.85V183.23h0.61V181.85zM742.28 181.85V199.48h0.61V181.85zM742.84 181.85V212.8h0.61V181.85zM743.4 181.85V222.64h0.61V181.85zM743.96 181.85V232.43h0.61V181.85zM744.52 181.85V244.22h0.61V181.85zM745.09 181.85V275.73h0.61V181.85zM745.65 181.85V282.93h0.61V181.85zM746.21 181.85V292.98h0.61V181.85zM746.77 181.85V291.53h0.61V181.85zM747.33 181.85V300.03h0.61V181.85zM747.9 181.85V299.35h0.61V181.85zM748.46 181.85V305.65h0.61V181.85zM749.02 181.85V311.8h0.61V181.85zM749.58 181.85V312.32h0.61V181.85zM750.14 181.85V319.51h0.61V181.85zM750.71 181.85V320.92h0.61V181.85zM751.27 181.85V314.97h0.61V181.85zM751.83 181.85V312.89h0.61V181.85zM752.39 181.85V312.2h0.61V181.85zM752.95 181.85V324.4h0.61V181.85zM753.52 181.85V329.23h0.61V181.85zM754.08 181.85V336h0.61V181.85zM754.64 181.85V344.14h0.61V181.85zM755.2 181.85V341.4h0.61V181.85zM755.77 181.85V336.24h0.61V181.85zM756.33 181.85V333.82h0.61V181.85zM756.89 181.85V321.69h0.61V181.85zM757.45 181.85V314.54h0.61V181.85zM758.01 181.85V310.16h0.61V181.85zM758.58 181.85V299.45h0.61V181.85zM759.14 181.85V290.34h0.61V181.85zM759.7 181.85V282.15h0.61V181.85zM760.26 181.85V278.92h0.61V181.85zM760.82 181.85V284.29h0.61V181.85zM761.39 181.85V274.72h0.61V181.85zM761.95 181.85V266.9h0.61V181.85zM762.51 181.85V256.14h0.61V181.85zM763.07 181.85V260.29h0.61V181.85zM763.63 181.85V270.12h0.61V181.85zM764.2 181.85V277.2h0.61V181.85zM764.76 181.85V285.77h0.61V181.85zM765.32 181.85V297.16h0.61V181.85zM765.88 181.85V308.54h0.61V181.85zM766.44 181.85V288.41h0.61V181.85zM767.01 181.85V278.75h0.61V181.85zM767.57 181.85V275.5h0.61V181.85zM768.13 181.85V273.68h0.61V181.85zM768.69 181.85V273.15h0.61V181.85zM769.25 181.85V277.73h0.61V181.85zM769.82 181.85V271.72h0.61V181.85zM770.38 181.85V264.41h0.61V181.85zM770.94 181.85V258.16h0.61V181.85zM771.5 181.85V258.38h0.61V181.85zM772.06 181.85V262.96h0.61V181.85zM772.63 181.85V267.02h0.61V181.85zM773.19 181.85V274.83h0.61V181.85zM773.75 181.85V263.66h0.61V181.85zM774.31 181.85V246.33h0.61V181.85zM774.88 181.85V235.77h0.61V181.85zM775.44 181.85V222.97h0.61V181.85zM776 181.85V216.64h0.61V181.85zM776.56 181.85V205.79h0.61V181.85zM777.12 181.85V192.57h0.61V181.85zM777.69 181.85V186.07h0.61V181.85zM779.37 181.85V187.12h0.61V181.85zM779.93 181.85V199.28h0.61V181.85zM780.5 181.85V210.62h0.61V181.85zM781.06 181.85V236.48h0.61V181.85zM781.62 181.85V260.54h0.61V181.85zM782.18 181.85V281.15h0.61V181.85zM782.74 181.85V291.83h0.61V181.85zM783.31 181.85V302.11h0.61V181.85zM783.87 181.85V303.28h0.61V181.85zM784.43 181.85V308.72h0.61V181.85zM784.99 181.85V314.71h0.61V181.85zM785.55 181.85V320.34h0.61V181.85zM786.12 181.85V339.19h0.61V181.85zM786.68 181.85V359.93h0.61V181.85zM787.24 181.85V380.55h0.61V181.85zM787.8 181.85V385.3h0.61V181.85zM788.36 181.85V409.61h0.61V181.85zM788.93 181.85V414.53h0.61V181.85zM789.49 181.85V415.17h0.61V181.85zM790.05 181.85V421.05h0.61V181.85zM790.61 181.85V417.18h0.61V181.85zM791.17 181.85V414.12h0.61V181.85zM791.74 181.85V411.21h0.61V181.85zM792.3 181.85V412.24h0.61V181.85zM792.86 181.85V424.01h0.61V181.85zM793.42 181.85V442.4h0.61V181.85zM793.99 181.85V440.56h0.61V181.85zM794.55 181.85V427.85h0.61V181.85zM795.11 181.85V444.65h0.61V181.85zM795.67 181.85V455.94h0.61V181.85zM796.23 181.85V438.15h0.61V181.85zM796.8 181.85V435.82h0.61V181.85zM797.36 181.85V436.57h0.61V181.85zM797.92 181.85V444.27h0.61V181.85zM798.48 181.85V446.52h0.61V181.85zM799.04 181.85V451.15h0.61V181.85zM799.61 181.85V453.43h0.61V181.85zM800.17 181.85V452.87h0.61V181.85zM800.73 181.85V438.07h0.61V181.85zM801.29 181.85V468.65h0.61V181.85zM801.85 181.85V464.05h0.61V181.85zM802.42 181.85V464.2h0.61V181.85zM802.98 181.85V460.52h0.61V181.85zM803.54 181.85V474.94h0.61V181.85zM804.1 181.85V484.19h0.61V181.85zM804.66 181.85V484.58h0.61V181.85zM805.23 181.85V480.41h0.61V181.85zM805.79 181.85V498.45h0.61V181.85zM806.35 181.85V501.68h0.61V181.85zM806.91 181.85V499.07h0.61V181.85zM807.47 181.85V510.84h0.61V181.85zM808.04 181.85V493.27h0.61V181.85zM808.6 181.85V474.02h0.61V181.85zM809.16 181.85V454.62h0.61V181.85zM809.72 181.85V445.96h0.61V181.85zM810.28 181.85V424.5h0.61V181.85zM810.85 181.85V415.27h0.61V181.85zM811.41 181.85V402.16h0.61V181.85zM811.97 181.85V393.92h0.61V181.85zM812.53 181.85V382.36h0.61V181.85zM813.1 181.85V382.41h0.61V181.85zM813.66 181.85V378.33h0.61V181.85zM814.22 181.85V381.18h0.61V181.85zM814.78 181.85V383.95h0.61V181.85zM815.34 181.85V371.4h0.61V181.85zM815.91 181.85V348.18h0.61V181.85zM816.47 181.85V372.03h0.61V181.85zM817.03 181.85V385.56h0.61V181.85zM817.59 181.85V372.02h0.61V181.85zM818.15 181.85V360.68h0.61V181.85zM818.72 181.85V397.92h0.61V181.85zM819.28 181.85V380.39h0.61V181.85zM819.84 181.85V367.86h0.61V181.85zM820.4 181.85V356.86h0.61V181.85zM820.96 181.85V347.89h0.61V181.85zM821.53 181.85V345.08h0.61V181.85zM822.09 181.85V337.08h0.61V181.85zM822.65 181.85V330.49h0.61V181.85zM823.21 181.85V336.47h0.61V181.85zM823.77 181.85V336.42h0.61V181.85zM824.34 181.85V347.07h0.61V181.85zM824.9 181.85V350.76h0.61V181.85zM825.46 181.85V362.27h0.61V181.85zM826.02 181.85V370.64h0.61V181.85zM826.58 181.85V393.87h0.61V181.85zM827.15 181.85V407.71h0.61V181.85zM827.71 181.85V402.35h0.61V181.85zM828.27 181.85V377.24h0.61V181.85zM828.83 181.85V379.08h0.61V181.85zM829.39 181.85V371.62h0.61V181.85zM829.96 181.85V374.05h0.61V181.85zM830.52 181.85V366.43h0.61V181.85zM831.08 181.85V361h0.61V181.85zM831.64 181.85V355.83h0.61V181.85zM832.21 181.85V338.29h0.61V181.85zM832.77 181.85V322.12h0.61V181.85zM833.33 181.85V335.33h0.61V181.85zM833.89 181.85V343.3h0.61V181.85zM834.45 181.85V348.16h0.61V181.85zM835.02 181.85V352.85h0.61V181.85zM835.58 181.85V358.29h0.61V181.85zM836.14 181.85V366.26h0.61V181.85zM836.7 181.85V361.03h0.61V181.85zM837.26 181.85V363.53h0.61V181.85zM837.83 181.85V371.21h0.61V181.85zM838.39 181.85V372.98h0.61V181.85zM838.95 181.85V379.57h0.61V181.85zM839.51 181.85V368.14h0.61V181.85zM840.07 181.85V362.31h0.61V181.85zM840.64 181.85V361.69h0.61V181.85zM841.2 181.85V365.5h0.61V181.85zM841.76 181.85V357.37h0.61V181.85zM842.32 181.85V340.04h0.61V181.85zM842.88 181.85V344.69h0.61V181.85zM843.45 181.85V343.64h0.61V181.85zM844.01 181.85V329.24h0.61V181.85zM844.57 181.85V318.73h0.61V181.85zM845.13 181.85V302.13h0.61V181.85zM845.69 181.85V298.07h0.61V181.85zM846.26 181.85V290.99h0.61V181.85zM846.82 181.85V304.28h0.61V181.85zM847.38 181.85V310.29h0.61V181.85zM847.94 181.85V304.26h0.61V181.85zM848.5 181.85V305.12h0.61V181.85zM849.07 181.85V303.5h0.61V181.85zM849.63 181.85V315.64h0.61V181.85zM850.19 181.85V316.95h0.61V181.85zM850.75 181.85V330.38h0.61V181.85zM851.32 181.85V345.03h0.61V181.85zM851.88 181.85V325.54h0.61V181.85zM852.44 181.85V313.87h0.61V181.85zM853 181.85V297.23h0.61V181.85zM853.56 181.85V292.27h0.61V181.85zM854.13 181.85V283.85h0.61V181.85zM854.69 181.85V278.16h0.61V181.85zM855.25 181.85V267.59h0.61V181.85zM855.81 181.85V259.97h0.61V181.85zM856.37 181.85V259.86h0.61V181.85zM856.94 181.85V262.96h0.61V181.85zM857.5 181.85V261.03h0.61V181.85zM858.06 181.85V265.81h0.61V181.85zM858.62 181.85V264.42h0.61V181.85zM859.18 181.85V265.92h0.61V181.85zM859.75 181.85V273.86h0.61V181.85zM860.31 181.85V277.49h0.61V181.85zM860.87 181.85V267.84h0.61V181.85zM861.43 181.85V264.01h0.61V181.85zM861.99 181.85V256.88h0.61V181.85zM862.56 181.85V257.7h0.61V181.85zM863.12 181.85V254.86h0.61V181.85zM863.68 181.85V252.79h0.61V181.85zM864.24 181.85V249.7h0.61V181.85zM864.8 181.85V246.21h0.61V181.85zM865.37 181.85V244.63h0.61V181.85zM865.93 181.85V245.48h0.61V181.85zM866.49 181.85V248.11h0.61V181.85zM867.05 181.85V245.87h0.61V181.85zM867.61 181.85V247.51h0.61V181.85zM868.18 181.85V242.14h0.61V181.85zM868.74 181.85V240.74h0.61V181.85zM869.3 181.85V239h0.61V181.85zM869.86 181.85V239.99h0.61V181.85zM870.43 181.85V237.42h0.61V181.85zM870.99 181.85V235.86h0.61V181.85zM871.55 181.85V244.03h0.61V181.85zM872.11 181.85V248.91h0.61V181.85zM872.67 181.85V238.96h0.61V181.85zM873.24 181.85V225.69h0.61V181.85zM873.8 181.85V218.45h0.61V181.85zM874.36 181.85V214.79h0.61V181.85zM874.92 181.85V209.4h0.61V181.85zM875.48 181.85V201.12h0.61V181.85zM876.05 181.85V192.61h0.61V181.85zM876.61 181.85V183.61h0.61V181.85zM885.04 181.85V187.12h0.61V181.85zM885.6 181.85V195.8h0.61V181.85zM886.16 181.85V201.14h0.61V181.85zM886.72 181.85V205.68h0.61V181.85zM887.29 181.85V210.11h0.61V181.85zM887.85 181.85V213.82h0.61V181.85zM888.41 181.85V216.43h0.61V181.85zM888.97 181.85V225.87h0.61V181.85zM889.54 181.85V234.88h0.61V181.85zM890.1 181.85V245.13h0.61V181.85zM890.66 181.85V253.01h0.61V181.85zM891.22 181.85V259.15h0.61V181.85zM891.78 181.85V271.19h0.61V181.85zM892.35 181.85V273.28h0.61V181.85zM892.91 181.85V281.57h0.61V181.85zM893.47 181.85V292.12h0.61V181.85zM894.03 181.85V298.22h0.61V181.85zM894.59 181.85V308.62h0.61V181.85zM895.16 181.85V318.22h0.61V181.85zM895.72 181.85V313.81h0.61V181.85zM896.28 181.85V313.58h0.61V181.85zM896.84 181.85V310.15h0.61V181.85zM897.4 181.85V312.04h0.61V181.85zM897.97 181.85V314.11h0.61V181.85zM898.53 181.85V295.54h0.61V181.85zM899.09 181.85V287.9h0.61V181.85zM899.65 181.85V283.54h0.61V181.85zM900.21 181.85V276.14h0.61V181.85zM900.78 181.85V272.77h0.61V181.85zM901.34 181.85V270.7h0.61V181.85zM901.9 181.85V274.97h0.61V181.85zM902.46 181.85V282.78h0.61V181.85zM903.02 181.85V283.8h0.61V181.85zM903.59 181.85V279.23h0.61V181.85zM904.15 181.85V275.11h0.61V181.85zM904.71 181.85V264.13h0.61V181.85zM905.27 181.85V216.61h0.61V181.85zM905.83 181.85V209.95h0.61V181.85zM906.4 181.85V206.73h0.61V181.85zM906.96 181.85V201.99h0.61V181.85zM907.52 181.85V187.35h0.61V181.85z" fill="#e24337" fill-opacity="0.78"/>
<path d="M137.5 181.85V180.24h0.61V181.85zM138.06 181.85V177.32h0.61V181.85zM138.62 181.85V175.48h0.61V181.85zM139.19 181.85V173.96h0.61V181.85zM139.75 181.85V175.94h0.61V181.85zM140.31 181.85V178.33h0.61V181.85zM140.87 181.85V181.15h0.61V181.85zM144.24 181.85V178.25h0.61V181.85zM144.81 181.85V174.45h0.61V181.85zM145.37 181.85V170.45h0.61V181.85zM145.93 181.85V166.66h0.61V181.85zM146.49 181.85V162.14h0.61V181.85zM147.06 181.85V155.6h0.61V181.85zM147.62 181.85V150.51h0.61V181.85zM148.18 181.85V148.97h0.61V181.85zM148.74 181.85V147.16h0.61V181.85zM149.3 181.85V144.46h0.61V181.85zM149.87 181.85V145.08h0.61V181.85zM150.43 181.85V141.76h0.61V181.85zM150.99 181.85V142.3h0.61V181.85zM151.55 181.85V141.91h0.61V181.85zM152.11 181.85V141.23h0.61V181.85zM152.68 181.85V139.32h0.61V181.85zM153.24 181.85V136.13h0.61V181.85zM153.8 181.85V136.02h0.61V181.85zM154.36 181.85V132.8h0.61V181.85zM154.92 181.85V129.8h0.61V181.85zM155.49 181.85V127.66h0.61V181.85zM156.05 181.85V118.41h0.61V181.85zM156.61 181.85V112.21h0.61V181.85zM157.17 181.85V105.08h0.61V181.85zM157.73 181.85V113.85h0.61V181.85zM158.3 181.85V116.61h0.61V181.85zM158.86 181.85V120.86h0.61V181.85zM159.42 181.85V122.67h0.61V181.85zM159.98 181.85V122.7h0.61V181.85zM160.54 181.85V118.71h0.61V181.85zM161.11 181.85V115.88h0.61V181.85zM161.67 181.85V108.93h0.61V181.85zM162.23 181.85V104.82h0.61V181.85zM162.79 181.85V103.47h0.61V181.85zM163.35 181.85V105.25h0.61V181.85zM163.92 181.85V109.13h0.61V181.85zM164.48 181.85V109h0.61V181.85zM165.04 181.85V107.22h0.61V181.85zM165.6 181.85V107.14h0.61V181.85zM166.17 181.85V102.17h0.61V181.85zM166.73 181.85V109.5h0.61V181.85zM167.29 181.85V110.89h0.61V181.85zM167.85 181.85V110.82h0.61V181.85zM168.41 181.85V109.09h0.61V181.85zM168.98 181.85V104.05h0.61V181.85zM169.54 181.85V111.83h0.61V181.85zM170.1 181.85V116.69h0.61V181.85zM170.66 181.85V121.07h0.61V181.85zM171.22 181.85V126.04h0.61V181.85zM171.79 181.85V129.26h0.61V181.85zM172.35 181.85V134.46h0.61V181.85zM172.91 181.85V135.72h0.61V181.85zM173.47 181.85V134.13h0.61V181.85zM174.03 181.85V136.92h0.61V181.85zM174.6 181.85V141.29h0.61V181.85zM175.16 181.85V145.71h0.61V181.85zM175.72 181.85V154.15h0.61V181.85zM176.28 181.85V160.69h0.61V181.85zM176.84 181.85V164.59h0.61V181.85zM177.41 181.85V169.02h0.61V181.85zM177.97 181.85V172.07h0.61V181.85zM178.53 181.85V175.64h0.61V181.85zM179.09 181.85V179.13h0.61V181.85zM187.52 181.85V177.79h0.61V181.85zM188.09 181.85V172.59h0.61V181.85zM188.65 181.85V169.07h0.61V181.85zM189.21 181.85V165.89h0.61V181.85zM189.77 181.85V166.94h0.61V181.85zM190.33 181.85V167.7h0.61V181.85zM190.9 181.85V167.74h0.61V181.85zM191.46 181.85V163.93h0.61V181.85zM192.02 181.85V159.68h0.61V181.85zM192.58 181.85V153.23h0.61V181.85zM193.14 181.85V145.87h0.61V181.85zM193.71 181.85V141.39h0.61V181.85zM194.27 181.85V136.98h0.61V181.85zM194.83 181.85V135.03h0.61V181.85zM195.39 181.85V133.78h0.61V181.85zM195.95 181.85V140.39h0.61V181.85zM196.52 181.85V147.25h0.61V181.85zM197.08 181.85V153.11h0.61V181.85zM197.64 181.85V157.65h0.61V181.85zM198.2 181.85V162.59h0.61V181.85zM198.76 181.85V161.19h0.61V181.85zM199.33 181.85V158.12h0.61V181.85zM199.89 181.85V154.27h0.61V181.85zM200.45 181.85V159.56h0.61V181.85zM201.01 181.85V164.44h0.61V181.85zM201.57 181.85V167.67h0.61V181.85zM202.14 181.85V169.04h0.61V181.85zM202.7 181.85V170.88h0.61V181.85zM203.26 181.85V171.74h0.61V181.85zM203.82 181.85V173.69h0.61V181.85zM204.39 181.85V175.8h0.61V181.85zM204.95 181.85V177.97h0.61V181.85zM205.51 181.85V180.31h0.61V181.85zM210.57 181.85V179.75h0.61V181.85zM211.13 181.85V177.35h0.61V181.85zM211.69 181.85V175.24h0.61V181.85zM212.25 181.85V174.12h0.61V181.85zM212.82 181.85V172.58h0.61V181.85zM213.38 181.85V174.26h0.61V181.85zM213.94 181.85V176.01h0.61V181.85zM214.5 181.85V180.22h0.61V181.85zM218.44 181.85V174.58h0.61V181.85zM219 181.85V156.1h0.61V181.85zM219.56 181.85V157.04h0.61V181.85zM220.12 181.85V159.75h0.61V181.85zM220.68 181.85V161.83h0.61V181.85zM221.25 181.85V162.52h0.61V181.85zM221.81 181.85V161.96h0.61V181.85zM222.37 181.85V161.09h0.61V181.85zM222.93 181.85V159.41h0.61V181.85zM223.5 181.85V157.44h0.61V181.85zM224.06 181.85V154.6h0.61V181.85zM224.62 181.85V154.32h0.61V181.85zM225.18 181.85V160.32h0.61V181.85zM225.74 181.85V163h0.61V181.85zM226.31 181.85V167.08h0.61V181.85zM226.87 181.85V170.85h0.61V181.85zM227.43 181.85V173.53h0.61V181.85zM227.99 181.85V175.19h0.61V181.85zM228.55 181.85V172.9h0.61V181.85zM229.12 181.85V171.42h0.61V181.85zM229.68 181.85V170.25h0.61V181.85zM230.24 181.85V172.74h0.61V181.85zM230.8 181.85V175.51h0.61V181.85zM231.36 181.85V178.25h0.61V181.85zM239.79 181.85V173.87h0.61V181.85zM240.36 181.85V164.35h0.61V181.85zM240.92 181.85V155.73h0.61V181.85zM241.48 181.85V162.55h0.61V181.85zM242.04 181.85V171.55h0.61V181.85zM242.61 181.85V169.49h0.61V181.85zM243.17 181.85V166.73h0.61V181.85zM243.73 181.85V164.13h0.61V181.85zM244.29 181.85V161.6h0.61V181.85zM244.85 181.85V159.4h0.61V181.85zM245.42 181.85V155.85h0.61V181.85zM245.98 181.85V151.64h0.61V181.85zM246.54 181.85V153.35h0.61V181.85zM247.1 181.85V157.12h0.61V181.85zM247.66 181.85V160.09h0.61V181.85zM248.23 181.85V164.51h0.61V181.85zM248.79 181.85V168.1h0.61V181.85zM249.35 181.85V170.21h0.61V181.85zM249.91 181.85V168.17h0.61V181.85zM250.47 181.85V166.72h0.61V181.85zM251.04 181.85V165.93h0.61V181.85zM251.6 181.85V170.98h0.61V181.85zM252.16 181.85V175.28h0.61V181.85zM252.72 181.85V179.99h0.61V181.85zM256.09 181.85V179.46h0.61V181.85zM256.66 181.85V177.26h0.61V181.85zM257.22 181.85V175.13h0.61V181.85zM257.78 181.85V173.74h0.61V181.85zM258.34 181.85V172.84h0.61V181.85zM258.9 181.85V171.44h0.61V181.85zM259.47 181.85V170.18h0.61V181.85zM260.03 181.85V168.23h0.61V181.85zM260.59 181.85V164.87h0.61V181.85zM261.15 181.85V160.85h0.61V181.85zM261.72 181.85V157.7h0.61V181.85zM262.28 181.85V155.08h0.61V181.85zM262.84 181.85V150.75h0.61V181.85zM263.4 181.85V146.3h0.61V181.85zM263.96 181.85V140.86h0.61V181.85zM264.53 181.85V136.18h0.61V181.85zM265.09 181.85V139.21h0.61V181.85zM265.65 181.85V139.44h0.61V181.85zM266.21 181.85V140.32h0.61V181.85zM266.77 181.85V142.13h0.61V181.85zM267.34 181.85V139.8h0.61V181.85zM267.9 181.85V136.77h0.61V181.85zM268.46 181.85V136.04h0.61V181.85zM269.02 181.85V139.72h0.61V181.85zM269.58 181.85V141.09h0.61V181.85zM270.15 181.85V146.58h0.61V181.85zM270.71 181.85V151.12h0.61V181.85zM271.27 181.85V154.69h0.61V181.85zM271.83 181.85V159.69h0.61V181.85zM272.39 181.85V163.41h0.61V181.85zM272.96 181.85V167.76h0.61V181.85zM273.52 181.85V172.41h0.61V181.85zM274.08 181.85V176.54h0.61V181.85zM274.64 181.85V179.98h0.61V181.85zM306.12 181.85V180.88h0.61V181.85zM306.68 181.85V177.39h0.61V181.85zM307.24 181.85V176.35h0.61V181.85zM307.8 181.85V175.14h0.61V181.85zM308.37 181.85V173.64h0.61V181.85zM308.93 181.85V171.7h0.61V181.85zM309.49 181.85V156.58h0.61V181.85zM310.05 181.85V159.82h0.61V181.85zM310.61 181.85V168.48h0.61V181.85zM311.18 181.85V174.86h0.61V181.85zM311.74 181.85V178.33h0.61V181.85zM315.11 181.85V173.37h0.61V181.85zM315.67 181.85V158.87h0.61V181.85zM316.23 181.85V162.11h0.61V181.85zM316.8 181.85V163.76h0.61V181.85zM317.36 181.85V170.8h0.61V181.85zM317.92 181.85V178.61h0.61V181.85zM402.23 181.85V179.48h0.61V181.85zM402.79 181.85V179.79h0.61V181.85zM403.35 181.85V180.36h0.61V181.85zM403.92 181.85V181h0.61V181.85zM408.97 181.85V180.89h0.61V181.85zM409.54 181.85V179.44h0.61V181.85zM410.1 181.85V178.59h0.61V181.85zM410.66 181.85V177.62h0.61V181.85zM411.22 181.85V178.21h0.61V181.85zM411.78 181.85V178.78h0.61V181.85zM412.35 181.85V177.6h0.61V181.85zM412.91 181.85V176.26h0.61V181.85zM413.47 181.85V175.6h0.61V181.85zM414.03 181.85V174.95h0.61V181.85zM414.6 181.85V178.1h0.61V181.85zM415.16 181.85V180.55h0.61V181.85zM419.09 181.85V181.18h0.61V181.85zM419.65 181.85V180.29h0.61V181.85zM420.22 181.85V179.9h0.61V181.85zM420.78 181.85V179.64h0.61V181.85zM421.34 181.85V179.34h0.61V181.85zM421.9 181.85V178.98h0.61V181.85zM422.46 181.85V178.71h0.61V181.85zM423.03 181.85V180.77h0.61V181.85zM433.14 181.85V180.05h0.61V181.85zM493.28 181.85V176.36h0.61V181.85zM493.85 181.85V174.07h0.61V181.85zM494.41 181.85V172.18h0.61V181.85zM494.97 181.85V175.42h0.61V181.85zM732.72 181.85V177.1h0.61V181.85zM737.22 181.85V177.99h0.61V181.85zM737.78 181.85V180.95h0.61V181.85zM741.15 181.85V173.86h0.61V181.85zM877.17 181.85V179.91h0.61V181.85zM877.73 181.85V174.55h0.61V181.85zM878.29 181.85V169.32h0.61V181.85zM878.86 181.85V166.07h0.61V181.85zM879.42 181.85V162.08h0.61V181.85zM879.98 181.85V158.09h0.61V181.85zM880.54 181.85V155.07h0.61V181.85zM881.1 181.85V151.94h0.61V181.85zM881.67 181.85V154.67h0.61V181.85zM882.23 181.85V158.29h0.61V181.85zM882.79 181.85V163.37h0.61V181.85zM883.35 181.85V167.83h0.61V181.85zM883.91 181.85V172.18h0.61V181.85zM884.48 181.85V178.79h0.61V181.85zM908.08 181.85V171.4h0.61V181.85zM908.65 181.85V168.45h0.61V181.85zM909.21 181.85V169.07h0.61V181.85zM909.77 181.85V169.53h0.61V181.85zM910.33 181.85V169.75h0.61V181.85zM910.89 181.85V168.41h0.61V181.85zM911.46 181.85V167.23h0.61V181.85zM912.02 181.85V166.05h0.61V181.85zM912.58 181.85V163.41h0.61V181.85zM913.14 181.85V160.22h0.61V181.85zM913.7 181.85V149.88h0.61V181.85zM914.27 181.85V136.55h0.61V181.85zM914.83 181.85V121.27h0.61V181.85zM915.39 181.85V109.66h0.61V181.85zM915.95 181.85V100.62h0.61V181.85zM916.51 181.85V105h0.61V181.85zM917.08 181.85V110.33h0.61V181.85zM917.64 181.85V108.94h0.61V181.85zM918.2 181.85V105.7h0.61V181.85zM918.76 181.85V109.58h0.61V181.85zM919.32 181.85V114.1h0.61V181.85zM919.89 181.85V117.12h0.61V181.85zM920.45 181.85V116.27h0.61V181.85zM921.01 181.85V119.09h0.61V181.85zM921.57 181.85V127.77h0.61V181.85zM922.13 181.85V136.96h0.61V181.85zM922.7 181.85V142.3h0.61V181.85zM923.26 181.85V146.52h0.61V181.85zM923.82 181.85V137.92h0.61V181.85zM924.38 181.85V126.4h0.61V181.85zM924.94 181.85V124.29h0.61V181.85zM925.51 181.85V118.95h0.61V181.85zM926.07 181.85V119.08h0.61V181.85zM926.63 181.85V121.76h0.61V181.85zM927.19 181.85V123.92h0.61V181.85zM927.76 181.85V118.47h0.61V181.85zM928.32 181.85V122.79h0.61V181.85zM928.88 181.85V126.16h0.61V181.85zM929.44 181.85V138.81h0.61V181.85zM930 181.85V157.3h0.61V181.85zM930.57 181.85V153.48h0.61V181.85zM931.13 181.85V148.37h0.61V181.85zM931.69 181.85V141.25h0.61V181.85zM932.25 181.85V129.54h0.61V181.85zM932.81 181.85V123.53h0.61V181.85zM933.38 181.85V123.5h0.61V181.85zM933.94 181.85V125.37h0.61V181.85z" fill="#4bb63d" fill-opacity="0.78"/>
<path d="M138.81 80V525M143.51 80V525M148.22 80V525M152.92 80V525M157.63 80V525M162.33 80V525M167.04 80V525M171.74 80V525M176.45 80V525M181.15 80V525M185.86 80V525M190.56 80V525M195.27 80V525M199.97 80V525M204.68 80V525M209.38 80V525M214.09 80V525M218.79 80V525M223.5 80V525M228.2 80V525M232.91 80V525M237.61 80V525M242.32 80V525M247.02 80V525M251.73 80V525M256.43 80V525M261.14 80V525M265.84 80V525M270.55 80V525M275.25 80V525M279.96 80V525M284.66 80V525M289.37 80V525M294.07 80V525M298.78 80V525M303.48 80V525M308.19 80V525M312.89 80V525M317.6 80V525M322.3 80V525M327.01 80V525M331.71 80V525M336.42 80V525M341.12 80V525M345.83 80V525M350.53 80V525M355.24 80V525M359.94 80V525M364.65 80V525M369.35 80V525M374.06 80V525M378.76 80V525M383.47 80V525M388.17 80V525M392.88 80V525M397.58 80V525M402.29 80V525M406.99 80V525M411.7 80V525M416.4 80V525M421.11 80V525M425.81 80V525M430.52 80V525M435.22 80V525M439.93 80V525M444.63 80V525M449.34 80V525M454.04 80V525M458.75 80V525M463.45 80V525M468.16 80V525M472.86 80V525M477.57 80V525M482.27 80V525M486.98 80V525M491.68 80V525M496.39 80V525M501.09 80V525M505.8 80V525M510.5 80V525M515.21 80V525M519.91 80V525M524.62 80V525M529.32 80V525M534.03 80V525M538.73 80V525M543.44 80V525M548.14 80V525M552.85 80V525M557.55 80V525M562.26 80V525M566.96 80V525M571.67 80V525M576.37 80V525M581.08 80V525M585.78 80V525M590.49 80V525M595.19 80V525M599.9 80V525M604.6 80V525M609.31 80V525M614.01 80V525M618.72 80V525M623.42 80V525M628.13 80V525M632.83 80V525M637.54 80V525M642.24 80V525M646.95 80V525M651.65 80V525M656.36 80V525M661.06 80V525M665.77 80V525M670.47 80V525M675.18 80V525M679.88 80V525M684.59 80V525M689.29 80V525M694 80V525M698.7 80V525M703.41 80V525M708.11 80V525M712.82 80V525M717.52 80V525M722.23 80V525M726.93 80V525M731.64 80V525M736.34 80V525M741.05 80V525M745.75 80V525M750.46 80V525M755.16 80V525M759.87 80V525M764.57 80V525M769.28 80V525M773.98 80V525M778.69 80V525M783.39 80V525M788.1 80V525M792.81 80V525M797.51 80V525M802.22 80V525M806.92 80V525M811.63 80V525M816.33 80V525M821.04 80V525M825.74 80V525M830.45 80V525M835.15 80V525M839.86 80V525M844.56 80V525M849.27 80V525M853.97 80V525M858.68 80V525M863.38 80V525M868.09 80V525M872.79 80V525M877.5 80V525M882.2 80V525M886.91 80V525M891.61 80V525M896.32 80V525M901.02 80V525M905.73 80V525M910.43 80V525M915.14 80V525M919.84 80V525M924.55 80V525M929.25 80V525M933.96 80V525" stroke="#c23a32" stroke-opacity="0.42" stroke-width="0.85" clip-path="url(#cr)"/>
<path d="M138.81 80V525M143.51 80V525M148.22 80V525M152.92 80V525M157.63 80V525M162.33 80V525M167.04 80V525M171.74 80V525M176.45 80V525M181.15 80V525M185.86 80V525M190.56 80V525M195.27 80V525M199.97 80V525M204.68 80V525M209.38 80V525M214.09 80V525M218.79 80V525M223.5 80V525M228.2 80V525M232.91 80V525M237.61 80V525M242.32 80V525M247.02 80V525M251.73 80V525M256.43 80V525M261.14 80V525M265.84 80V525M270.55 80V525M275.25 80V525M279.96 80V525M284.66 80V525M289.37 80V525M294.07 80V525M298.78 80V525M303.48 80V525M308.19 80V525M312.89 80V525M317.6 80V525M322.3 80V525M327.01 80V525M331.71 80V525M336.42 80V525M341.12 80V525M345.83 80V525M350.53 80V525M355.24 80V525M359.94 80V525M364.65 80V525M369.35 80V525M374.06 80V525M378.76 80V525M383.47 80V525M388.17 80V525M392.88 80V525M397.58 80V525M402.29 80V525M406.99 80V525M411.7 80V525M416.4 80V525M421.11 80V525M425.81 80V525M430.52 80V525M435.22 80V525M439.93 80V525M444.63 80V525M449.34 80V525M454.04 80V525M458.75 80V525M463.45 80V525M468.16 80V525M472.86 80V525M477.57 80V525M482.27 80V525M486.98 80V525M491.68 80V525M496.39 80V525M501.09 80V525M505.8 80V525M510.5 80V525M515.21 80V525M519.91 80V525M524.62 80V525M529.32 80V525M534.03 80V525M538.73 80V525M543.44 80V525M548.14 80V525M552.85 80V525M557.55 80V525M562.26 80V525M566.96 80V525M571.67 80V525M576.37 80V525M581.08 80V525M585.78 80V525M590.49 80V525M595.19 80V525M599.9 80V525M604.6 80V525M609.31 80V525M614.01 80V525M618.72 80V525M623.42 80V525M628.13 80V525M632.83 80V525M637.54 80V525M642.24 80V525M646.95 80V525M651.65 80V525M656.36 80V525M661.06 80V525M665.77 80V525M670.47 80V525M675.18 80V525M679.88 80V525M684.59 80V525M689.29 80V525M694 80V525M698.7 80V525M703.41 80V525M708.11 80V525M712.82 80V525M717.52 80V525M722.23 80V525M726.93 80V525M731.64 80V525M736.34 80V525M741.05 80V525M745.75 80V525M750.46 80V525M755.16 80V525M759.87 80V525M764.57 80V525M769.28 80V525M773.98 80V525M778.69 80V525M783.39 80V525M788.1 80V525M792.81 80V525M797.51 80V525M802.22 80V525M806.92 80V525M811.63 80V525M816.33 80V525M821.04 80V525M825.74 80V525M830.45 80V525M835.15 80V525M839.86 80V525M844.56 80V525M849.27 80V525M853.97 80V525M858.68 80V525M863.38 80V525M868.09 80V525M872.79 80V525M877.5 80V525M882.2 80V525M886.91 80V525M891.61 80V525M896.32 80V525M901.02 80V525M905.73 80V525M910.43 80V525M915.14 80V525M919.84 80V525M924.55 80V525M929.25 80V525M933.96 80V525" stroke="#3f9c36" stroke-opacity="0.42" stroke-width="0.85" clip-path="url(#cg)"/>
<path d="M153.6 525v6" stroke="#e6e6e6" stroke-width="1"/><path d="M257.2 525v6" stroke="#e6e6e6" stroke-width="1"/><path d="M359.1 525v6" stroke="#e6e6e6" stroke-width="1"/><path d="M462.7 525v6" stroke="#e6e6e6" stroke-width="1"/><path d="M565.2 525v6" stroke="#e6e6e6" stroke-width="1"/><path d="M668.5 525v6" stroke="#e6e6e6" stroke-width="1"/><path d="M770.3 525v6" stroke="#e6e6e6" stroke-width="1"/><path d="M874 525v6" stroke="#e6e6e6" stroke-width="1"/><text x="153.6" y="544.3" text-anchor="middle" class="xl">2022 Jul</text><text x="257.2" y="544.3" text-anchor="middle" class="xl">2023 Jan</text><text x="359.1" y="544.3" text-anchor="middle" class="xl">2023 Jul</text><text x="462.7" y="544.3" text-anchor="middle" class="xl">2024 Jan</text><text x="565.2" y="544.3" text-anchor="middle" class="xl">2024 Jul</text><text x="668.5" y="544.3" text-anchor="middle" class="xl">2025 Jan</text><text x="770.3" y="544.3" text-anchor="middle" class="xl">2025 Jul</text><text x="874" y="544.3" text-anchor="middle" class="xl">2026 Jan</text><text x="949.6" y="92.1" class="yl">5,000</text><text x="949.6" y="112.1" class="yl">4,500</text><text x="949.6" y="134.1" class="yl">4,000</text><text x="949.6" y="160.1" class="yl">3,500</text><text x="949.6" y="188.9" class="yl">3,000</text><text x="949.6" y="223.9" class="yl">2,500</text><text x="949.6" y="265.9" class="yl">2,000</text><text x="949.6" y="321.4" class="yl">1,500</text><text x="949.6" y="397.6" class="yl">1,000</text><text x="949.6" y="528.6" class="yl">500</text><text x="123.4" y="185.3" text-anchor="end" class="yl">0</text><text x="42" y="297.95" class="yl" textLength="79.4" lengthAdjust="spacingAndGlyphs">-200,000,000</text><text x="42" y="411.55" class="yl" textLength="79.4" lengthAdjust="spacingAndGlyphs">-400,000,000</text><text x="42" y="525.15" class="yl" textLength="79.4" lengthAdjust="spacingAndGlyphs">-600,000,000</text>
<text transform="translate(34.9 303.4) rotate(-90)" text-anchor="middle" class="ax" textLength="98" lengthAdjust="spacingAndGlyphs">Net Taker Volume</text>
<text transform="translate(989.7 302.9) rotate(90)" text-anchor="middle" class="ax" textLength="54.4" lengthAdjust="spacingAndGlyphs">ETH Price</text>
<defs><linearGradient id="bg" x1="0" x2="1" y1="0" y2="0"><stop offset="0" stop-color="#b08c1a"/><stop offset="0.38" stop-color="#f1d234"/><stop offset="0.7" stop-color="#d2a620"/><stop offset="1" stop-color="#94730f"/></linearGradient></defs>
<g transform="translate(362.4 549.7)">
<circle cx="6.2" cy="0.9" r="0.9" fill="#c9a21c"/>
<path d="M2.9 8.3C2.9 4 3.5 1.2 6.2 1.2C9 1.2 9.6 4 9.7 8.3L12.3 9.9Q12.6 10.9 11.6 10.9H0.9Q-0.1 10.9 0.2 9.9Z" fill="url(#bg)"/>
<path d="M0.2 9.9L1.6 9.1H10.9L12.3 9.9Q12.6 10.9 11.6 10.9H0.9Q-0.1 10.9 0.2 9.9Z" fill="#a8841a" fill-opacity="0.75"/>
<ellipse cx="6.3" cy="11.3" rx="1.6" ry="0.8" fill="#a07c16"/>
</g>
<text x="379" y="559.6" class="ft" textLength="208.5" lengthAdjust="spacingAndGlyphs">Explore Actionable &amp; Free On-Chain Insights:</text>
<text x="590.5" y="559.6" class="ft" style="fill:#5a5a5a" textLength="120" lengthAdjust="spacingAndGlyphs">https://x.com/JA_Maartun</text>
<path d="M590.5 561.6H710.5" stroke="#6a6a6a" stroke-width="0.8"/>
<text x="870.4" y="561.5" class="cp" textLength="128" lengthAdjust="spacingAndGlyphs">© CryptoQuant. All rights reserved</text>
</svg>
</body></html>
